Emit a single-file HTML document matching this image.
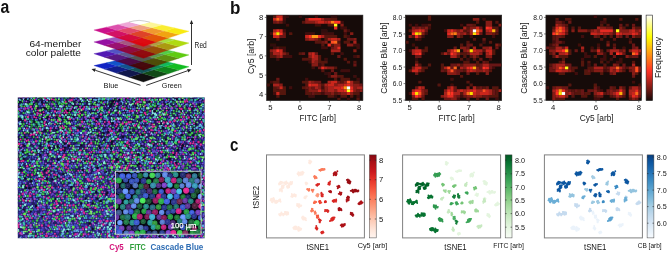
<!DOCTYPE html>
<html><head><meta charset="utf-8"><title>Figure</title>
<style>html,body{margin:0;padding:0;background:#fff}svg{display:block}text{font-family:"Liberation Sans", sans-serif}</style>
</head><body>
<svg width="667" height="253" viewBox="0 0 667 253">
<rect width="667" height="253" fill="#fff"/>
<text x="0.5" y="13.4" font-size="18" text-anchor="start" font-weight="bold" fill="#111" textLength="8.8" lengthAdjust="spacingAndGlyphs">a</text>
<text x="81.4" y="46.9" font-size="9.5" text-anchor="end" font-weight="normal" fill="#151515" textLength="52" lengthAdjust="spacingAndGlyphs">64-member</text>
<text x="81.0" y="55.8" font-size="9.5" text-anchor="end" font-weight="normal" fill="#151515" textLength="55.3" lengthAdjust="spacingAndGlyphs">color palette</text>
<g opacity="0.93">
<polygon points="143.4,82.0 128.9,77.2 142.0,73.3 156.5,77.6" fill="#000000" stroke="#000000" stroke-width="0.3"/>
<polygon points="156.5,77.6 142.0,73.3 153.9,69.7 168.4,73.7" fill="#003d06" stroke="#003d06" stroke-width="0.3"/>
<polygon points="168.4,73.7 153.9,69.7 164.7,66.5 179.1,70.1" fill="#007b0c" stroke="#007b0c" stroke-width="0.3"/>
<polygon points="179.1,70.1 164.7,66.5 174.7,63.5 189.0,66.8" fill="#00b812" stroke="#00b812" stroke-width="0.3"/>
<polygon points="128.9,77.2 116.0,72.9 128.9,69.4 142.0,73.3" fill="#000740" stroke="#000740" stroke-width="0.3"/>
<polygon points="142.0,73.3 128.9,69.4 140.8,66.2 153.9,69.7" fill="#01484b" stroke="#01484b" stroke-width="0.3"/>
<polygon points="153.9,69.7 140.8,66.2 151.7,63.2 164.7,66.5" fill="#007f4c" stroke="#007f4c" stroke-width="0.3"/>
<polygon points="164.7,66.5 151.7,63.2 161.7,60.5 174.7,63.5" fill="#00b551" stroke="#00b551" stroke-width="0.3"/>
<polygon points="116.0,72.9 104.4,69.1 117.2,65.9 128.9,69.4" fill="#000d80" stroke="#000d80" stroke-width="0.3"/>
<polygon points="128.9,69.4 117.2,65.9 129.0,63.0 140.8,66.2" fill="#004788" stroke="#004788" stroke-width="0.3"/>
<polygon points="140.8,66.2 129.0,63.0 139.8,60.3 151.7,63.2" fill="#008090" stroke="#008090" stroke-width="0.3"/>
<polygon points="151.7,63.2 139.8,60.3 149.9,57.8 161.7,60.5" fill="#00b393" stroke="#00b393" stroke-width="0.3"/>
<polygon points="104.4,69.1 93.9,65.6 106.5,62.7 117.2,65.9" fill="#0014c0" stroke="#0014c0" stroke-width="0.3"/>
<polygon points="117.2,65.9 106.5,62.7 118.2,60.1 129.0,63.0" fill="#0048c5" stroke="#0048c5" stroke-width="0.3"/>
<polygon points="129.0,63.0 118.2,60.1 129.0,57.6 139.8,60.3" fill="#007acb" stroke="#007acb" stroke-width="0.3"/>
<polygon points="139.8,60.3 129.0,57.6 139.0,55.3 149.9,57.8" fill="#00aad0" stroke="#00aad0" stroke-width="0.3"/>
</g>
<g opacity="0.93">
<polygon points="143.4,70.2 128.9,65.3 142.0,61.4 156.5,65.8" fill="#4b0004" stroke="#4b0004" stroke-width="0.3"/>
<polygon points="156.5,65.8 142.0,61.4 153.9,57.9 168.4,61.8" fill="#534400" stroke="#534400" stroke-width="0.3"/>
<polygon points="168.4,61.8 153.9,57.9 164.7,54.6 179.1,58.2" fill="#528800" stroke="#528800" stroke-width="0.3"/>
<polygon points="179.1,58.2 164.7,54.6 174.7,51.7 189.0,54.9" fill="#53c800" stroke="#53c800" stroke-width="0.3"/>
<polygon points="128.9,65.3 116.0,61.1 128.9,57.6 142.0,61.4" fill="#51013c" stroke="#51013c" stroke-width="0.3"/>
<polygon points="142.0,61.4 128.9,57.6 140.8,54.3 153.9,57.9" fill="#584e46" stroke="#584e46" stroke-width="0.3"/>
<polygon points="153.9,57.9 140.8,54.3 151.7,51.4 164.7,54.6" fill="#518c42" stroke="#518c42" stroke-width="0.3"/>
<polygon points="164.7,54.6 151.7,51.4 161.7,48.7 174.7,51.7" fill="#47c93c" stroke="#47c93c" stroke-width="0.3"/>
<polygon points="116.0,61.1 104.4,57.2 117.2,54.0 128.9,57.6" fill="#4d0778" stroke="#4d0778" stroke-width="0.3"/>
<polygon points="128.9,57.6 117.2,54.0 129.0,51.1 140.8,54.3" fill="#514c85" stroke="#514c85" stroke-width="0.3"/>
<polygon points="140.8,54.3 129.0,51.1 139.8,48.4 151.7,51.4" fill="#549191" stroke="#549191" stroke-width="0.3"/>
<polygon points="151.7,51.4 139.8,48.4 149.9,45.9 161.7,48.7" fill="#4aca91" stroke="#4aca91" stroke-width="0.3"/>
<polygon points="104.4,57.2 93.9,53.7 106.5,50.9 117.2,54.0" fill="#4507af" stroke="#4507af" stroke-width="0.3"/>
<polygon points="117.2,54.0 106.5,50.9 118.2,48.2 129.0,51.1" fill="#4646bf" stroke="#4646bf" stroke-width="0.3"/>
<polygon points="129.0,51.1 118.2,48.2 129.0,45.7 139.8,48.4" fill="#4685cf" stroke="#4685cf" stroke-width="0.3"/>
<polygon points="139.8,48.4 129.0,45.7 139.0,43.5 149.9,45.9" fill="#47c4e0" stroke="#47c4e0" stroke-width="0.3"/>
</g>
<g opacity="0.93">
<polygon points="143.4,58.3 128.9,53.5 142.0,49.6 156.5,53.9" fill="#950007" stroke="#950007" stroke-width="0.3"/>
<polygon points="156.5,53.9 142.0,49.6 153.9,46.0 168.4,50.0" fill="#9d4700" stroke="#9d4700" stroke-width="0.3"/>
<polygon points="168.4,50.0 153.9,46.0 164.7,42.8 179.1,46.4" fill="#a59300" stroke="#a59300" stroke-width="0.3"/>
<polygon points="179.1,46.4 164.7,42.8 174.7,39.8 189.0,43.1" fill="#abd800" stroke="#abd800" stroke-width="0.3"/>
<polygon points="128.9,53.5 116.0,49.2 128.9,45.7 142.0,49.6" fill="#940034" stroke="#940034" stroke-width="0.3"/>
<polygon points="142.0,49.6 128.9,45.7 140.8,42.5 153.9,46.0" fill="#9e4230" stroke="#9e4230" stroke-width="0.3"/>
<polygon points="153.9,46.0 140.8,42.5 151.7,39.5 164.7,42.8" fill="#a79637" stroke="#a79637" stroke-width="0.3"/>
<polygon points="164.7,42.8 151.7,39.5 161.7,36.8 174.7,39.8" fill="#a2dc31" stroke="#a2dc31" stroke-width="0.3"/>
<polygon points="116.0,49.2 104.4,45.4 117.2,42.2 128.9,45.7" fill="#940067" stroke="#940067" stroke-width="0.3"/>
<polygon points="128.9,45.7 117.2,42.2 129.0,39.3 140.8,42.5" fill="#9e4b78" stroke="#9e4b78" stroke-width="0.3"/>
<polygon points="140.8,42.5 129.0,39.3 139.8,36.6 151.7,39.5" fill="#a89c8c" stroke="#a89c8c" stroke-width="0.3"/>
<polygon points="151.7,39.5 139.8,36.6 149.9,34.1 161.7,36.8" fill="#a4e092" stroke="#a4e092" stroke-width="0.3"/>
<polygon points="104.4,45.4 93.9,41.9 106.5,39.0 117.2,42.2" fill="#90009d" stroke="#90009d" stroke-width="0.3"/>
<polygon points="117.2,42.2 106.5,39.0 118.2,36.4 129.0,39.3" fill="#964bb9" stroke="#964bb9" stroke-width="0.3"/>
<polygon points="129.0,39.3 118.2,36.4 129.0,33.9 139.8,36.6" fill="#9d96d4" stroke="#9d96d4" stroke-width="0.3"/>
<polygon points="139.8,36.6 129.0,33.9 139.0,31.6 149.9,34.1" fill="#a3e1ef" stroke="#a3e1ef" stroke-width="0.3"/>
</g>
<g opacity="0.93">
<polygon points="143.4,46.5 128.9,41.6 142.0,37.7 156.5,42.1" fill="#e0000b" stroke="#e0000b" stroke-width="0.3"/>
<polygon points="156.5,42.1 142.0,37.7 153.9,34.2 168.4,38.1" fill="#e84d00" stroke="#e84d00" stroke-width="0.3"/>
<polygon points="168.4,38.1 153.9,34.2 164.7,30.9 179.1,34.5" fill="#f09e00" stroke="#f09e00" stroke-width="0.3"/>
<polygon points="179.1,34.5 164.7,30.9 174.7,28.0 189.0,31.2" fill="#f8e800" stroke="#f8e800" stroke-width="0.3"/>
<polygon points="128.9,41.6 116.0,37.4 128.9,33.9 142.0,37.7" fill="#d80032" stroke="#d80032" stroke-width="0.3"/>
<polygon points="142.0,37.7 128.9,33.9 140.8,30.6 153.9,34.2" fill="#e3371a" stroke="#e3371a" stroke-width="0.3"/>
<polygon points="153.9,34.2 140.8,30.6 151.7,27.7 164.7,30.9" fill="#ef921f" stroke="#ef921f" stroke-width="0.3"/>
<polygon points="164.7,30.9 151.7,27.7 161.7,25.0 174.7,28.0" fill="#faec23" stroke="#faec23" stroke-width="0.3"/>
<polygon points="116.0,37.4 104.4,33.5 117.2,30.3 128.9,33.9" fill="#d0005a" stroke="#d0005a" stroke-width="0.3"/>
<polygon points="128.9,33.9 117.2,30.3 129.0,27.4 140.8,30.6" fill="#df3d60" stroke="#df3d60" stroke-width="0.3"/>
<polygon points="140.8,30.6 129.0,27.4 139.8,24.7 151.7,27.7" fill="#ee9979" stroke="#ee9979" stroke-width="0.3"/>
<polygon points="151.7,27.7 139.8,24.7 149.9,22.2 161.7,25.0" fill="#fdf691" stroke="#fdf691" stroke-width="0.3"/>
<polygon points="104.4,33.5 93.9,30.0 106.5,27.2 117.2,30.3" fill="#c80083" stroke="#c80083" stroke-width="0.3"/>
<polygon points="117.2,30.3 106.5,27.2 118.2,24.5 129.0,27.4" fill="#da44a6" stroke="#da44a6" stroke-width="0.3"/>
<polygon points="129.0,27.4 118.2,24.5 129.0,22.0 139.8,24.7" fill="#eda1d3" stroke="#eda1d3" stroke-width="0.3"/>
<path d="M139.8 24.7L129.0 22.0L134.0 20.9Q139.0 19.8 144.4 21.0L149.9 22.2Z" fill="#fff"/>
<path d="M129.0 22.0L134.0 20.9Q139.0 19.8 144.4 21.0L149.9 22.2" fill="none" stroke="#888" stroke-width="0.45"/>
</g>
<line x1="140.5" y1="85.3" x2="95.3" y2="70.3" stroke="#2a2a2a" stroke-width="0.95"/>
<polygon points="91.5,69.0 95.8,68.6 94.7,71.9" fill="#222"/>
<line x1="146.2" y1="85.4" x2="187.7" y2="70.7" stroke="#2a2a2a" stroke-width="0.95"/>
<polygon points="191.5,69.4 188.3,72.4 187.1,69.1" fill="#222"/>
<line x1="191.5" y1="65.0" x2="191.5" y2="24.0" stroke="#2a2a2a" stroke-width="0.95"/>
<polygon points="191.5,20.0 193.2,24.0 189.8,24.0" fill="#222"/>
<text x="103.6" y="87.6" font-size="8.1" text-anchor="start" font-weight="normal" fill="#151515" textLength="14.8" lengthAdjust="spacingAndGlyphs">Blue</text>
<text x="161.8" y="87.9" font-size="8.1" text-anchor="start" font-weight="normal" fill="#151515" textLength="20" lengthAdjust="spacingAndGlyphs">Green</text>
<text x="194.6" y="47.6" font-size="8.2" text-anchor="start" font-weight="normal" fill="#151515" textLength="12.2" lengthAdjust="spacingAndGlyphs">Red</text>
<clipPath id="mc"><rect x="17.8" y="97.5" width="186.79999999999998" height="140.7"/></clipPath>
<defs><linearGradient id="mbg" x1="0" y1="0" x2="0.25" y2="1"><stop offset="0" stop-color="#120f36"/><stop offset="0.5" stop-color="#1e1954"/><stop offset="1" stop-color="#2a2370"/></linearGradient></defs>
<rect x="17.8" y="97.5" width="186.8" height="140.7" fill="url(#mbg)"/>
<defs><filter id="mbl" x="-2%" y="-2%" width="104%" height="104%"><feGaussianBlur stdDeviation="0.35"/></filter></defs>
<g clip-path="url(#mc)"><g filter="url(#mbl)"><g transform="scale(0.1)" fill="none" stroke-linecap="round" stroke-width="22">
<path d="M427 978h0m38-6h0m47 9h0m47-9h0m125 4h0m70-8h0m60 11h0m45-1h0m240 2h0m195-11h0m271-1h0m87 10h0m239-7h0m-1586 32h0m85-5h0m257 3h0m486-10h0m286 6h0m88 7h0m117-13h0m63 5h0m283-5h0m-1246 35h0m108-12h0m75 2h0m675 1h0m-1308 27h0m198 1h0m116-6h0m25-2h0m16 8h0m24-9h0m15-2h0m133 6h0m138 0h0m18 8h0m84-5h0m35-7h0m348 12h0m245-6h0m110-3h0m185 0h0m57 3h0m34 2h0m-1837 20h0m26 2h0m307-3h0m114 2h0m46-1h0m56 3h0m111 2h0m287-4h0m63 3h0m177-1h0m112 2h0m195 0h0m136-10h0m138 9h0m-1506 18h0m34-2h0m133 7h0m140 0h0m751 1h0m232-3h0m185 0h0m44-5h0m54-3h0m-1873 31h0m108-12h0m136 0h0m309 12h0m363-11h0m471 10h0m45 3h0m125-6h0m29 4h0m267-9h0m-1799 27h0m112 6h0m263-8h0m83-4h0m317 9h0m726 2h0m11 1h0m73-4h0m44-7h0m45-1h0m89 3h0m-1534 26h0m16-5h0m227-4h0m151 3h0m220-2h0m288 10h0m150-11h0m77 6h0m20 0h0m101 5h0m94-10h0m129 6h0m-1679 16h0m328 9h0m59-7h0m155 2h0m343 9h0m63-1h0m608-9h0m50-1h0m-1463 19h0m243 7h0m14 7h0m30-12h0m90 8h0m230-6h0m144 2h0m281 8h0m157-9h0m167 9h0m29-3h0m150 1h0m-1511 22h0m821 0h0m21 1h0m132 1h0m546-10h0m-1728 26h0m23 1h0m74 4h0m264-10h0m48 1h0m65-2h0m186 4h0m21 8h0m491-2h0m419-7h0m244 3h0m-1835 26h0m12-5h0m45-3h0m116 7h0m260-5h0m17 8h0m92-14h0m68 5h0m198-4h0m177 5h0m28 5h0m207 2h0m429-7h0m113 8h0m77-8h0m-1679 25h0m244-5h0m38 10h0m28-3h0m240 1h0m204-12h0m186 1h0m448 8h0m58-3h0m-1639 19h0m293 7h0m372 1h0m62 3h0m95-14h0m394 14h0m216-1h0m251-4h0m112-2h0m87-4h0m-1848 30h0m42-7h0m25 1h0m179 9h0m236-7h0m251 0h0m239 6h0m87 0h0m67-6h0m85 3h0m120 0h0m220-1h0m102-2h0m-1641 25h0m207 4h0m123-7h0m362 7h0m105-12h0m90-2h0m59 0h0m129 0h0m68 11h0m249-9h0m87 4h0m136 5h0m112-1h0m-1752 21h0m133-4h0m101-2h0m384 0h0m142 3h0m201 0h0m217 2h0m551 5h0m-1388 18h0m201-3h0m237 4h0m135-2h0m199-3h0m109 6h0m15-9h0m-1225 26h0m74 1h0m176 6h0m287-8h0m200 8h0m35-8h0m464 9h0m90-13h0m115 3h0m90 10h0m-1321 10h0m30 12h0m400-7h0m97-2h0m271-4h0m288 13h0m-804 14h0m409 2h0m67-6h0m506 2h0m-1507 31h0m861-5h0m307 1h0m20-3h0m34 6h0m365-3h0m294 2h0m-1494 11h0m158 9h0m204-2h0m89-7h0m303 8h0m306 2h0m103 1h0m-1438 11h0m54 11h0m325-9h0m266 6h0m224 0h0m166 1h0m24 0h0m287-1h0m44-1h0m157 0h0m16 2h0m-1548 18h0m424 2h0m123-3h0m117 9h0m703-1h0m235-2h0m-1716 14h0m186 3h0m115 8h0m172-1h0m91-9h0m248-3h0m60 10h0m315-1h0m412-6h0m138 10h0m44-10h0m34 6h0m-1804 20h0m636 7h0m237-10h0m198-1h0m49 11h0m106-1h0m36-6h0m117 2h0m218-8h0m-1397 31h0m128-9h0m242 0h0m110 8h0m53 2h0m178 1h0m111-1h0m43-6h0m16 1h0m161-3h0m100 4h0m473-2h0m-1248 19h0m145 11h0m95 1h0m41-7h0m132-5h0m646 10h0m42-10h0m42-2h0m-1619 22h0m336 10h0m83 1h0m482 2h0m61-5h0m534 6h0m84-14h0m21 11h0m73 1h0m-1664 14h0m23-4h0m113 11h0m22-10h0m621 5h0m390-2h0m150 9h0m244-5h0m126 4h0m-1810 21h0m112-8h0m130 1h0m62 9h0m32-12h0m165 7h0m27-1h0m404 5h0m42-12h0m78 3h0m56 0h0m19 2h0m66 7h0m136-9h0m14 1h0m42-4h0m318 11h0m168-11h0m-1703 29h0m50 5h0m81-11h0m157 0h0m36 5h0m429 4h0m328-7h0m-1089 22h0m44 3h0m414 4h0m812-9h0m267 2h0m71-2h0m88 0h0m-1842 34h0m47-12h0m174 5h0m66 2h0m68 5h0m171-4h0m485 0h0m414-5h0m296-4h0m-1603 31h0m791-4h0m182-5h0m147 7h0m443 3h0m-1636 25h0m181-10h0m22 0h0m12 7h0m24 0h0m325-3h0m144-5h0m199 4h0m15-2h0m154 0h0m485 2h0m44-4h0m-1480 31h0m255-9h0m40 4h0m138 6h0m530-8h0m27 1h0m566 2h0m41 5h0m96-11h0m-1824 25h0m181 3h0m66 5h0m570-7h0m27 8h0m35-1h0m265-11h0m44 7h0m159-4h0m-1404 25h0m24 1h0m174-7h0m396 5h0m399-3h0m51 7h0m232-7h0m-1079 20h0m121-1h0m168 2h0m-24 29h0m532-3h0m159 3h0m457-4h0m20 6h0m245-5h0m-1636 19h0m14 4h0m46-7h0m155 8h0m30-2h0m58 0h0m116 8h0m68-4h0m43 2h0m58 2h0m417-2h0m27-1h0m347-3h0m-1307 26h0m132-12h0m106 10h0m253-4h0m215 5h0m793-2h0m-1590 22h0m105 4h0m289-10h0m283 7h0m284-1h0m317-5h0m-1476 19h0m442 5h0m41-5h0m124 5h0m322 3h0m50-1h0m187-3h0m94 5h0m22-7h0m27 6h0m285-2h0m-1424 27h0m43-11h0m444 2h0m85-3h0m92 12h0m38-7h0m928-4h0m-1248 35h0m31-10h0m127 10h0m415-9h0m530 0h0m68 4h0m58-3h0m-1804 29h0m104-10h0m281-3h0m189 3h0m9 8h0m98-11h0m22 7h0m370 0h0m73 2h0m40-9h0m16 13h0m291-8h0m-1354 24h0m198 5h0m125 1h0m33 0h0m222-4h0m-633 22h0m377-6h0m216 1h0m138 3h0m174-4h0m57 4h0m140 5h0m195-11h0m198 8h0m132 3h0m136-11h0m-1795 30h0m154 2h0m59-2h0m49-6h0m16-2h0m101 12h0m33-2h0m247-11h0m113 10h0m177-9h0m285 0h0m66 8h0m-1275 25h0m25-6h0m527 2h0m23-1h0m603 1h0m236-6h0m-1291 25h0m53 9h0m157-1h0m318-10h0m24-2h0m602 4h0m42-2h0m-1117 19h0m292 4h0m145 6h0m51 3h0m726-12h0m83 10h0m243-10h0m-1707 26h0m132 8h0m68-7h0m311-2h0m50-4h0m317 11h0m288-3h0m384-4h0m-1050 20h0m367-1h0m50 11h0m67-3h0m85 5h0m21-5h0m287 1h0m-1422 19h0m932 7h0m487-6h0m276 5h0m53-12h0m-1755 22h0m263 1h0m449 2h0m210 1h0m291 2h0m90 4h0m461-11h0m26 0h0m-1762 28h0m54-1h0m150 7h0m16-10h0m26 11h0m398-2h0m162-1h0m165-9h0m30 3h0m416 9h0m44-7h0m283 6h0m-1638 19h0m301-9h0m45 11h0m227 1h0m103 2h0m97-8h0m145 3h0m54-9h0m277 5h0m77-3h0m306 0h0m-1583 24h0m221 5h0m361-9h0m99 14h0m408-13h0m479 13h0m-1819 22h0m77-2h0m36-6h0m242-6h0m92 14h0m44-6h0m37 5h0m305-10h0m604 6h0" stroke="#3cc844" stroke-width="20"/>
<path d="M588 992h0m361 32h0m313 11h0m67 2h0m48 3h0m25 7h0m503-3h0m-1702 12h0m1235 12h0m573-12h0m-1580 33h0m941-8h0m230 1h0m63 0h0m181-1h0m-1513 33h0m688-10h0m346 5h0m265-4h0m345 6h0m-1056 22h0m-508 12h0m102 55h0m696-8h0m106 0h0m684 3h0m-1310 27h0m681-9h0m462-1h0m140 12h0m-1463 17h0m1029 4h0m52-13h0m-744 35h0m860-8h0m-1107 19h0m1089 12h0m93-12h0m84 0h0m187 7h0m-734 37h0m734 10h0m-1450 22h0m340-2h0m638 1h0m426-9h0m-1471 27h0m965 7h0m-932 21h0m943-13h0m189 3h0m-665 32h0m633-10h0m365 22h0m-1853 22h0m328 4h0m49 3h0m176-2h0m234 5h0m175-8h0m-273 26h0m-541 25h0m513 0h0m591-4h0m80 26h0m-585 20h0m1003-5h0m-1415 18h0m88 4h0m44 9h0m1059-9h0m-1043 25h0m478 2h0m349-5h0m265-3h0m-245 32h0m119 22h0m-477 14h0m-732 19h0m985 11h0m613-4h0m-418 20h0m199 22h0m-1033 25h0m176 0h0m430-2h0m-422 28h0m306 1h0m114 8h0m-136 31h0m172 0h0m313-9h0m-823 34h0m-526 34h0m105 12h0m484-3h0m356-10h0m478 5h0m-1063 23h0m442-1h0m348-1h0m-234 21h0m25-3h0m409 23h0m-496 27h0m157 0h0m-680 23h0m182-6h0m-373 27h0m916 1h0m520-3h0m-1513 39h0m500 11h0m-280 18h0m425 4h0m-586 24h0m264-4h0m955 23h0m334-10h0m-929 34h0m-545 24h0m172 15h0m220 1h0m-601 49h0m-25 12h0m53 4h0m207 6h0m1335 0h0m-980 14h0m46 6h0m865 19h0m-1681 17h0m48 5h0m19-3h0m44 24h0m15-4h0m1426 7h0m-378 15h0m26-2h0" stroke="#78e468" stroke-width="20"/>
<path d="M589 981h0m72-3h0m307-9h0m182 1h0m542 0h0m159 2h0m153-1h0m-1799 31h0m73-11h0m47 10h0m674-11h0m376 6h0m524 4h0m21 1h0m-1449 13h0m218-2h0m14 7h0m578-2h0m663 5h0m-1488 23h0m264-11h0m510 7h0m461-4h0m340 9h0m-1279 24h0m555-13h0m74 1h0m317-1h0m198 1h0m-1195 28h0m256 0h0m194-7h0m154 7h0m114 1h0m-1151 25h0m88-7h0m417-4h0m173 0h0m46 8h0m44 4h0m51 1h0m171-13h0m179 2h0m145-3h0m361 4h0m-1689 28h0m261-7h0m271-2h0m149 7h0m83 3h0m50-8h0m49 10h0m302-10h0m206 8h0m81 0h0m-1356 15h0m153 5h0m133 5h0m91-10h0m315 8h0m235-6h0m199-5h0m226 13h0m54-9h0m-885 19h0m512 11h0m43-2h0m586-2h0m-1784 16h0m57-2h0m72 10h0m637-1h0m127-6h0m340 6h0m176-6h0m62 9h0m16-3h0m316 0h0m23 1h0m-1296 19h0m664 2h0m-1000 24h0m876-2h0m29-3h0m17-2h0m128-5h0m-881 29h0m670-3h0m25 10h0m656-10h0m-1762 25h0m245 4h0m759-4h0m423-4h0m49 0h0m289 8h0m-1431 21h0m509 1h0m688 3h0m83-2h0m41-12h0m69 6h0m-1725 30h0m17-5h0m114 5h0m328-10h0m96-1h0m198 6h0m789-2h0m67 4h0m-1382 19h0m75-2h0m194-3h0m59 5h0m48 6h0m859 0h0m41-13h0m-1289 29h0m158-1h0m199 4h0m24 2h0m325 1h0m203-7h0m462 4h0m86-5h0m-1090 26h0m641 4h0m355-11h0m65 5h0m-1628 18h0m52 9h0m490-6h0m457 7h0m151-8h0m294-6h0m-1121 26h0m23 5h0m91 2h0m434-3h0m-639 16h0m169 5h0m176-6h0m137 5h0m260-5h0m41 0h0m714 4h0m-1454 22h0m357 9h0m309-8h0m195 5h0m93-8h0m125-3h0m-836 31h0m252 2h0m296-9h0m394 8h0m178-3h0m126 1h0m-1173 15h0m786 9h0m232-6h0m241-1h0m-1338 28h0m293 4h0m19-2h0m103 3h0m838-5h0m-1130 27h0m149-2h0m41-8h0m154 3h0m246 5h0m-1123 15h0m149 1h0m-56 20h0m91 1h0m215 7h0m984-2h0m287 2h0m-975 19h0m156 2h0m134-3h0m91-7h0m54 5h0m50 5h0m-1103 15h0m56-2h0m492-1h0m67 10h0m16-11h0m511 14h0m88-3h0m24-4h0m361 5h0m-1171 22h0m73-11h0m558 10h0m-1197 20h0m108-3h0m31-6h0m171 12h0m1343-1h0m96-5h0m-1484 30h0m280-8h0m91-2h0m188 5h0m563-9h0m324 6h0m85 6h0m-840 23h0m230-10h0m-243 31h0m188-12h0m168 5h0m43 6h0m97 2h0m-1342 15h0m191-6h0m111 10h0m-271 16h0m332 4h0m267 2h0m483 3h0m439-2h0m-1141 13h0m95 8h0m385-4h0m709 2h0m-1067 14h0m753 5h0m372-5h0m-1154 22h0m355 14h0m133-7h0m307-3h0m107 7h0m180-2h0m65-3h0m-1531 17h0m939 11h0m137-7h0m332-5h0m125 7h0m-1673 18h0m61 0h0m22 8h0m42-5h0m488-3h0m56 2h0m440 3h0m26-8h0m373 12h0m-1641 20h0m273-5h0m133 5h0m102-6h0m74 8h0m408-4h0m43-6h0m78 6h0m475 1h0m-1413 19h0m22-3h0m324-1h0m314 4h0m223-2h0m275 9h0m226-1h0m312 0h0m-1471 15h0m404 7h0m58-9h0m557 4h0m188 1h0m-1197 26h0m181-1h0m696 23h0m463-2h0m82-3h0m-1523 26h0m123-1h0m350-9h0m32 9h0m147-4h0m271-5h0m25 4h0m-616 20h0m154 5h0m52-3h0m411-5h0m88 5h0m329 8h0m132-4h0m-1793 18h0m399-1h0m513 10h0m-946 20h0m373-11h0m332-1h0m317 3h0m143-3h0m211 11h0m-1120 24h0m240-3h0m22-1h0m398 0h0m156-1h0m104 6h0m530-3h0m-1548 18h0m67 1h0m155 4h0m505-6h0m926 7h0m-1683 11h0m545 0h0m19 1h0m359 0h0m68-3h0m125 4h0m231 5h0m130 4h0m234-5h0m-1830 26h0m35-11h0m51 13h0m545 0h0m481-14h0m419 5h0m101 8h0m-1606 21h0m620-10h0m95-1h0m98 1h0m220 4h0m-661 29h0m409-3h0m317 1h0m151-6h0m86-3h0m242 10h0m-1500 15h0m252-2h0m135-1h0m26 1h0m36-3h0m352 3h0m-384 23h0m549 0h0m440-3h0m-662 32h0m310-5h0m527-3h0m-1230 22h0m-316 21h0m18 4h0m48 8h0m23-10h0m544 3h0m728-2h0m152 2h0m-1393 15h0m53 4h0m65 1h0m175 0h0m237-3h0m418-2h0m465 14h0" stroke="#38b8ac" stroke-width="20"/>
<path d="M174 976h0m202-3h0m416-1h0m524 3h0m595-2h0m-1675 17h0m201 2h0m58 1h0m333 10h0m46-2h0m619-1h0m239-9h0m-843 24h0m-157 26h0m563 1h0m19 3h0m178-5h0m243-1h0m-989 41h0m449 32h0m329-3h0m302 2h0m-1204 38h0m37 2h0m404 6h0m169-6h0m613-7h0m-1410 33h0m258-6h0m423 9h0m460-5h0m371-1h0m31-3h0m-21 24h0m-1291 26h0m452-9h0m389 3h0m108-4h0m-1154 35h0m28-9h0m113-1h0m1027-1h0m106 7h0m267 3h0m-1707 22h0m1042-9h0m279-4h0m290 14h0m-1665 18h0m723-7h0m-728 26h0m389 5h0m275-12h0m366 8h0m47-2h0m145-4h0m-1120 34h0m190-6h0m17-2h0m361-4h0m609 10h0m342-6h0m-1494 21h0m507-1h0m857 9h0m264-5h0m-1358 21h0m1368-4h0m-1575 25h0m186-5h0m353 8h0m64-6h0m172 5h0m422 0h0m59-6h0m-841 22h0m716 9h0m45-6h0m288-1h0m-1210 24h0m699 1h0m352 2h0m-843 19h0m982 2h0m-1355 25h0m44-4h0m709 2h0m367-5h0m-1254 22h0m43-1h0m706 2h0m-744 19h0m860 6h0m132 0h0m-1204 25h0m1168 3h0m664-14h0m-1556 34h0m266-10h0m335 3h0m199 8h0m221-2h0m122 1h0m52 2h0m101-7h0m98-4h0m-1210 25h0m142 5h0m38 3h0m1034-13h0m175 12h0m-1046 22h0m442-13h0m642 0h0m-1797 33h0m906 0h0m-415 17h0m-551 23h0m35 6h0m604-7h0m274 7h0m79-12h0m175 13h0m330-7h0m1 23h0m-1508 25h0m1043 2h0m739-4h0m-1321 22h0m43-8h0m589 0h0m18 7h0m287 5h0m-431 21h0m607-10h0m194 0h0m-1733 22h0m967 10h0m578 2h0m24-6h0m223 2h0m32-7h0m-1869 26h0m210 0h0m218-6h0m972 1h0m360 0h0m-1618 24h0m264-2h0m142 0h0m144 6h0m99 5h0m321-1h0m-1067 23h0m147-13h0m485 6h0m588-1h0m-841 30h0m968-11h0m269 12h0m38-14h0m-1487 36h0m242-11h0m173 8h0m494 0h0m324-3h0m-1416 17h0m260 2h0m1097 8h0m471-7h0m-1788 40h0m815 11h0m281-2h0m229-1h0m224-10h0m-1230 32h0m1295-7h0m184 9h0m-1791 15h0m152 6h0m596 11h0m-685 35h0m257-7h0m663 1h0m294 1h0m168-4h0m312 2h0m-1708 20h0m200 9h0m1251 0h0m23 1h0m112-6h0m-250 58h0m-869 25h0m154 0h0m331 3h0m-1033 29h0m1129-13h0m384 25h0m42 8h0m68-3h0m-1197 21h0m396 5h0m60-8h0m26 3h0m28 5h0m215 0h0m21-1h0m199 2h0m335-7h0m-1732 16h0m748 0h0m792 5h0m145 9h0m-842 17h0m66 3h0m797 0h0m-1726 21h0m363-5h0m1265 7h0m-1440 14h0m519-1h0m46 10h0m39 0h0m1065-1h0m-1802 9h0m755 5h0m191 4h0m-899 18h0m476 6h0m223-9h0m331 9h0m417-11h0m19 13h0m-1545 10h0m218 9h0m1244-10h0" stroke="#84e4dc" stroke-width="20"/>
<path d="M313 981h0m677-7h0m480 0h0m246-1h0m153 5h0m116 2h0m-1791 14h0m746 4h0m44-3h0m587 3h0m181 3h0m93-3h0m-1442 23h0m411-8h0m263 6h0m137-6h0m13 11h0m308-5h0m-375 23h0m632 0h0m25 3h0m44 1h0m-997 22h0m219-5h0m836 7h0m110-6h0m-1467 22h0m425-7h0m119 2h0m286 4h0m-930 27h0m770-12h0m45 8h0m439-6h0m160 5h0m85-6h0m-1393 27h0m324 4h0m88-9h0m426-1h0m541 10h0m95 3h0m-1823 21h0m685-12h0m70 8h0m135-8h0m440 4h0m360 8h0m-1132 23h0m395 0h0m271-12h0m92 9h0m387-7h0m-1463 32h0m136 0h0m285-1h0m457 1h0m532-13h0m-1665 29h0m294 7h0m345-6h0m74-2h0m856-1h0m-1506 18h0m511 11h0m661-9h0m396-2h0m86 10h0m-1515 21h0m158-1h0m542-3h0m406 7h0m282-12h0m199 5h0m-1509 24h0m405-7h0m562 5h0m458 4h0m91 4h0m-1576 8h0m227 3h0m281 2h0m753-5h0m-581 32h0m17-4h0m-907 27h0m329 2h0m356 0h0m154-6h0m209-5h0m72 2h0m193-2h0m-1043 25h0m222 0h0m-189 21h0m754 4h0m200-3h0m429 7h0m-1477 17h0m224 3h0m41 3h0m82-13h0m552 1h0m-457 21h0m730 9h0m372 3h0m-1680 16h0m176 3h0m60-1h0m267-8h0m218 5h0m336 9h0m281-13h0m-844 30h0m307 1h0m348 3h0m-1220 9h0m31 6h0m149 6h0m84-10h0m1125 9h0m-1128 14h0m101-3h0m34 7h0m123-3h0m1283 10h0m45-11h0m-1835 21h0m67-2h0m748 8h0m428-5h0m394-3h0m-1607 26h0m431 21h0m193 1h0m1058 9h0m-1107 17h0m85 6h0m435-8h0m395 2h0m-1569 26h0m46-4h0m616-2h0m34 2h0m361-8h0m93 3h0m123 0h0m-1236 20h0m875 6h0m931 3h0m-1733 26h0m566 0h0m91-2h0m1107-11h0m-1452 25h0m604 9h0m265-1h0m308 2h0m265-3h0m-1476 24h0m254-8h0m785-5h0m333 4h0m-1260 18h0m241 13h0m-697 15h0m774 2h0m276-4h0m198 5h0m331-1h0m231-7h0m-1739 27h0m156-6h0m287 11h0m328-8h0m119 5h0m-168 16h0m749 5h0m-1561 23h0m1059-4h0m110 0h0m472 3h0m-1649 26h0m752-4h0m330-2h0m292-5h0m452 11h0m-737 19h0m395-8h0m383 1h0m-712 28h0m10-5h0m416 6h0m-1503 16h0m707-2h0m-736 28h0m1076-1h0m159 0h0m122 6h0m-1167 24h0m1388-2h0m53-9h0m-1607 27h0m364-4h0m508 5h0m250-3h0m114-2h0m-1070 21h0m432 1h0m470 0h0m304 5h0m18-5h0m226 6h0m35 0h0m55 1h0m-1747 12h0m212 3h0m228-2h0m302 10h0m589 1h0m95-1h0m-981 20h0m-452 23h0m953 0h0m387-7h0m142 2h0m-1509 25h0m551-2h0m629 7h0m381-5h0m123 0h0m-1060 17h0m285 2h0m369 9h0m327-9h0m-1521 30h0m527-3h0m566-1h0m115-4h0m30 2h0m39-1h0m-1336 27h0m139-9h0m101 10h0m251-11h0m150 2h0m-335 25h0m176 4h0m79-9h0m296 9h0m190-10h0m355 12h0m197-12h0m80 13h0m143 0h0m-1550 23h0m62-13h0m324 9h0m581-8h0m-1114 26h0m643 5h0m79-2h0m152 2h0m424-1h0m-55 22h0m-1270 19h0m179-3h0m135-3h0m985 8h0m-845 25h0m267-11h0m568 6h0m18-1h0m-1283 23h0m377 5h0m24-12h0m19 0h0m22 3h0m881 7h0m282-10h0m-972 27h0m123 5h0m120-8h0m56 11h0m112-7h0m30 4h0m108-8h0m89 5h0m-1000 19h0m654 0h0m29 1h0m349-3h0m174 4h0m-1482 21h0m38 4h0m877-9h0m439 12h0m122-4h0m131 0h0" stroke="#58a8e4" stroke-width="20"/>
<path d="M281 980h0m335-6h0m570 6h0m-820 11h0m88 8h0m173-7h0m114 5h0m20-7h0m301 0h0m950 6h0m30-2h0m-1601 23h0m114 0h0m375 3h0m235 6h0m515-13h0m324 11h0m-1767 15h0m112 8h0m210-2h0m221-8h0m248 1h0m848 4h0m-1589 19h0m133 2h0m392-2h0m87 3h0m297 4h0m764-4h0m-1666 14h0m329 13h0m664-13h0m469 5h0m-876 29h0m49-12h0m124 6h0m163-2h0m190 9h0m296-2h0m-1206 24h0m42-3h0m88-7h0m251 5h0m349 6h0m44-12h0m22 2h0m198 10h0m519-3h0m-1700 22h0m855-4h0m33-3h0m626 0h0m-1306 27h0m111-6h0m596 9h0m94-10h0m326 6h0m63 6h0m87-8h0m259 1h0m-1728 19h0m45 5h0m242 4h0m186-8h0m244-2h0m636 1h0m-1489 32h0m549-10h0m284 1h0m52-4h0m614 0h0m39 9h0m134-6h0m-1331 20h0m194 3h0m295 1h0m177 7h0m518-6h0m130-2h0m-1590 21h0m88 0h0m156-1h0m38 5h0m711 1h0m180 1h0m213 1h0m247-9h0m-1659 24h0m61 9h0m149-8h0m86-1h0m468 7h0m156-5h0m591 7h0m66-10h0m85 6h0m-1301 27h0m147-1h0m23-7h0m196 0h0m109 1h0m358 3h0m146-2h0m205 0h0m37-7h0m-1367 35h0m160-2h0m872-12h0m-1088 34h0m59-11h0m753 9h0m-971 20h0m62 3h0m390-9h0m354 12h0m505-1h0m64-2h0m188-9h0m126 4h0m-753 27h0m436-7h0m256 2h0m-1477 18h0m329 3h0m82-2h0m91 5h0m184-4h0m88 9h0m143-11h0m76 10h0m36-1h0m286 0h0m-1483 16h0m789 3h0m348-6h0m535-2h0m-1436 28h0m164 0h0m34 1h0m108-5h0m277 3h0m644-5h0m108 3h0m159 8h0m-1331 13h0m89-2h0m921 1h0m83 0h0m98 12h0m39-8h0m151 6h0m-1534 22h0m79 0h0m133-4h0m233 3h0m92-7h0m58-1h0m187 9h0m328-6h0m152-3h0m152 12h0m178-9h0m-1639 29h0m127-4h0m93-8h0m28 4h0m39 9h0m136 1h0m-450 17h0m523-7h0m399 4h0m329 0h0m417-4h0m-1747 25h0m24 4h0m32-6h0m1129 6h0m47-1h0m524-4h0m-1706 22h0m680 4h0m487-5h0m124-3h0m78 11h0m149-4h0m-1683 23h0m115-5h0m1536 10h0m114-8h0m84 5h0m-1723 22h0m121-8h0m377 11h0m290-5h0m312-6h0m144 5h0m130-4h0m267 8h0m88-9h0m-1518 22h0m19 1h0m297 7h0m398-8h0m316 9h0m-826 15h0m269 7h0m340-10h0m158 8h0m19-7h0m48 9h0m153-11h0m181 1h0m-1616 23h0m132 12h0m544-14h0m260 3h0m130 3h0m398-1h0m182-4h0m-1668 21h0m44 9h0m311-4h0m53-5h0m176 14h0m169-13h0m17 12h0m484-2h0m35-3h0m191 6h0m129-1h0m141-9h0m-1798 25h0m313 6h0m60-1h0m154-9h0m247 5h0m418-7h0m-1133 34h0m82 0h0m113-13h0m167 0h0m715 14h0m89-9h0m552-4h0m-1802 33h0m581-10h0m719 6h0m235-3h0m190-4h0m65 2h0m-1771 32h0m126-7h0m928-3h0m25 2h0m110-2h0m344 9h0m220-11h0m19 8h0m-1527 18h0m484 9h0m196-14h0m450 9h0m-1400 16h0m156-1h0m353 2h0m107-3h0m220 12h0m305-13h0m419 13h0m-1087 15h0m744 5h0m86-10h0m107 1h0m-1322 23h0m41 7h0m46-10h0m211 12h0m209-8h0m62-3h0m198-1h0m113 12h0m655 2h0m47-14h0m91 9h0m-1386 15h0m73 0h0m194 7h0m551-7h0m133 7h0m112 3h0m27 2h0m86-3h0m255-8h0m-1721 20h0m95 0h0m515-1h0m293 9h0m792-7h0m-1549 29h0m366 3h0m69-8h0m611-3h0m48 3h0m139 5h0m42-4h0m-1316 31h0m66-13h0m407 3h0m185-2h0m381 1h0m138 0h0m154-2h0m-1354 33h0m283-7h0m35 5h0m685-1h0m264 1h0m-1442 15h0m91 7h0m24 1h0m223-2h0m34-2h0m670-5h0m595 12h0m66-1h0m170-7h0m-1331 22h0m899 2h0m65 4h0m200-8h0m-1542 26h0m340 4h0m114 0h0m226-2h0m598-6h0m307 3h0m-1558 27h0m201-2h0m483 2h0m509-1h0m82-7h0m-426 25h0m520 0h0m-1107 21h0m106-1h0m892-2h0m371 2h0m40 4h0m-1367 25h0m243-3h0m452-6h0m32 8h0m97-6h0m167 2h0m120-5h0m25-2h0m74 9h0m-1266 14h0m371 4h0m21 7h0m547 2h0m-1049 19h0m119-8h0m218 4h0m21 2h0m285-2h0m513 3h0m177-2h0m-1202 24h0m111-7h0m527 8h0m61-7h0m225 2h0m153 0h0m104-4h0m202 2h0m28 0h0m-1696 27h0m362 0h0m12 0h0m26-2h0m71-4h0m431 5h0m-737 18h0m775-1h0m92-1h0m304 1h0m28 4h0m320 0h0m-1702 23h0m65-2h0m72-6h0m57 3h0m264 4h0m99-2h0m23-4h0m432 13h0m-774 13h0m255-1h0m316 4h0m299 1h0m78 2h0m119-11h0m182 10h0m236 2h0m-1611 20h0m66 0h0m16-9h0m602 4h0m599-4h0m154 0h0m-1669 34h0m374-3h0m48-1h0m38-9h0m195 7h0m471-5h0m64 9h0m72 2h0m-894 17h0m217 4h0m17-10h0m226 12h0m126-11h0m261 11h0m102-3h0m236-4h0m110-1h0" stroke="#4050c8" stroke-width="20"/>
<path d="M768 974h0m615-1h0m70-2h0m214 1h0m278 3h0m20 5h0m-1285 15h0m164 7h0m438-8h0m430-1h0m-1211 27h0m695 6h0m365-8h0m464 1h0m-1830 28h0m143 19h0m59-1h0m174 0h0m752 3h0m25 0h0m276 2h0m252-10h0m-1026 25h0m219-5h0m441-1h0m525 6h0m-1790 20h0m200-3h0m1006 2h0m402 0h0m-1532 20h0m994 12h0m452-7h0m157 4h0m-1741 13h0m1033 12h0m785-10h0m-1616 28h0m161 3h0m278-2h0m151-4h0m46-3h0m227 9h0m506 0h0m-1011 19h0m494 3h0m178-10h0m-873 27h0m90 6h0m152-5h0m1010-2h0m-1623 25h0m1813-6h0m-1789 21h0m1114-3h0m161 9h0m-899 23h0m330-8h0m1083 1h0m-1773 31h0m951 1h0m127-7h0m84 1h0m351 0h0m-1244 28h0m357-2h0m219 3h0m185-1h0m173-11h0m332 12h0m196-12h0m-701 21h0m114 8h0m508-6h0m-1558 28h0m53 5h0m66-14h0m769 3h0m56 9h0m100-11h0m233 7h0m112-6h0m117 2h0m-1507 32h0m88-10h0m1180 3h0m395 4h0m32-6h0m22-3h0m11 12h0m-1517 21h0m502-12h0m418-1h0m421 7h0m57-1h0m-1549 29h0m52-10h0m142 10h0m165-9h0m42 10h0m331-10h0m65 9h0m154-1h0m474-11h0m52 8h0m-519 15h0m662 0h0m-1733 25h0m904 0h0m-848 21h0m141 1h0m933 6h0m380-9h0m47 8h0m105-5h0m19-5h0m-1061 28h0m595 4h0m508-9h0m-1728 35h0m300-14h0m395 12h0m144 1h0m230-12h0m142 0h0m236 6h0m150-1h0m-1563 26h0m69-7h0m342 3h0m245-5h0m152 5h0m812 2h0m-1596 14h0m26 1h0m96 0h0m76 0h0m53 2h0m299 10h0m207-3h0m176-6h0m550 10h0m195-7h0m26-2h0m-1488 27h0m130-9h0m357 10h0m726 3h0m-1447 12h0m205 10h0m459-12h0m945 3h0m112 1h0m-1772 30h0m215-2h0m1019-5h0m-1071 15h0m902 9h0m510 4h0m-1570 15h0m1733-3h0m-1414 30h0m739-2h0m43-6h0m685 0h0m-1150 30h0m154-5h0m86 0h0m400-6h0m142 9h0m133 2h0m268-9h0m-1556 30h0m207-7h0m217-3h0m177 12h0m192-2h0m229 4h0m485-4h0m-1518 22h0m1039-4h0m331 5h0m-1291 21h0m21-2h0m239 6h0m31-4h0m136-10h0m636 4h0m191-3h0m-1300 28h0m651 5h0m46-8h0m-870 18h0m84 8h0m92-3h0m400 5h0m59-4h0m204-4h0m312 5h0m-1227 19h0m350 3h0m67-2h0m-488 17h0m476 8h0m69-5h0m820 11h0m168-14h0m-1544 23h0m924 1h0m813 1h0m-1385 33h0m208-13h0m222 11h0m127-3h0m148-4h0m404-3h0m-1142 34h0m26-8h0m355-6h0m147 8h0m51-1h0m775 4h0m39-10h0m-1567 22h0m888 13h0m688-14h0m40 12h0m50 2h0m-1552 20h0m500-5h0m72 3h0m218-4h0m27-2h0m-1069 22h0m107 9h0m52-7h0m373 8h0m44-10h0m923 5h0m-1421 14h0m15 4h0m49 8h0m458-1h0m228-7h0m61-3h0m264 3h0m127-5h0m-421 29h0m521-3h0m137 0h0m-803 23h0m312 4h0m238 0h0m271-4h0m193-5h0m103 9h0m29 2h0m-1599 19h0m113-6h0m370 9h0m76 3h0m503-13h0m-1335 32h0m532-1h0m264 0h0m46-9h0m106 0h0m816 10h0m-1266 23h0m190-10h0m162 7h0m90 2h0m20-9h0m699 1h0m51 5h0m103-8h0m-1595 35h0m423 0h0m193-2h0m75 0h0m19 2h0m11 0h0m242-11h0m498 12h0m-1512 13h0m46 4h0m566-6h0m507-3h0m-1223 22h0m220 1h0m1061 7h0m525 1h0m-1545 16h0m322 4h0m92 3h0m705-8h0m-1241 29h0m24 1h0m231 0h0m115-1h0m175-4h0m91-4h0m419 6h0m15 0h0m351 4h0m-1453 15h0m77 1h0m693 4h0m177-8h0m11 2h0m594 9h0m-1365 13h0m155 6h0m262 0h0m561 2h0m24-3h0m-1365 19h0m392-3h0m1357 8h0m-1693 21h0m785 3h0m126-4h0m-928 17h0m639 9h0m291-2h0m209 4h0m286-5h0m308-2h0" stroke="#3430a0" stroke-width="20"/>
<path d="M361 974h0m584 6h0m222 2h0m241-2h0m106 0h0m270-5h0m-1503 43h0m68-6h0m33 7h0m1094-1h0m-601 25h0m322-4h0m-182 23h0m110 8h0m-731 19h0m12-2h0m684-5h0m-451 31h0m262-6h0m1020 1h0m-1087 20h0m1052-3h0m-383 29h0m239 0h0m149 2h0m164 1h0m-724 16h0m-231 27h0m287-9h0m-49 21h0m208 5h0m454-7h0m-311 26h0m79-1h0m-837 33h0m254-10h0m637 3h0m216 4h0m-1228 25h0m732-5h0m-568 24h0m509-2h0m-474 20h0m364-6h0m262 8h0m-1382 24h0m1344-8h0m-390 32h0m275-6h0m169 2h0m395 4h0m-1856 14h0m342 18h0m438 13h0m1050-8h0m-1285 16h0m201 4h0m302 3h0m209-3h0m100 0h0m442 7h0m-1730 25h0m579-11h0m258 10h0m333 1h0m-1216 15h0m125 3h0m472-2h0m923-4h0m-1226 28h0m930 24h0m157-3h0m152-3h0m-1087 22h0m-254 29h0m726-1h0m-605 20h0m1217 2h0m-1292 18h0m307-4h0m204 9h0m190-2h0m94-9h0m-996 30h0m263-9h0m195 6h0m1224 3h0m-1678 26h0m576 0h0m214-5h0m374-1h0m-629 15h0m302 23h0m306 7h0m-950 19h0m298 3h0m119 0h0m-558 18h0m59 9h0m95-1h0m12-1h0m879-11h0m64 9h0m576-7h0m-1710 24h0m322 31h0m88-9h0m-405 27h0m792 1h0m603 2h0m-1411 9h0m276 2h0m61 2h0m91 2h0m333 4h0m63-1h0m-810 14h0m878 2h0m649 4h0m86 3h0m118 26h0m-1786 20h0m308-7h0m1045 7h0m117-8h0m288 1h0m-1464 31h0m144-12h0m603-2h0m257 3h0m350 0h0m-950 31h0m283 2h0m-741 19h0m295-5h0m65-5h0m39 1h0m1167 0h0m-1854 29h0m1094 5h0m443-2h0m-1359 20h0m187-3h0m1292-7h0m-1511 27h0m267 9h0m110-12h0m174-1h0m217 12h0m22-9h0m256 6h0m392-4h0m-1575 22h0m420-4h0m441 8h0m63-9h0m93 11h0m449-3h0m-1408 26h0m113-5h0m107-3h0m384 25h0m922-2h0m-1537 26h0m139-9h0m19 2h0m149 27h0m417-6h0m1083 27h0m-580 17h0m19 8h0m451-1h0m-1202 27h0m1183-12h0m41 9h0m-1088 20h0m1126-7h0m-1712 34h0m165-13h0m438 5h0m188-6h0m882 3h0m-1475 22h0m441 9h0m827 2h0m-1542 12h0m9-2h0m1828 10h0m-1596 24h0m563-10h0m404-2h0m289 2h0m-1435 23h0m92 2h0m538-6h0m1002 5h0m-1707 24h0m653-3h0m570 9h0m289-9h0m354 3h0m-645 20h0" stroke="#241e64" stroke-width="20"/>
<path d="M269 968h0m461 6h0m630 2h0m70-1h0m116 3h0m220-8h0m35-1h0m-1453 24h0m121 7h0m50-7h0m21 5h0m358-2h0m498-4h0m269 7h0m203-2h0m-1212 22h0m384 7h0m100-7h0m232 1h0m142-2h0m360-4h0m170-1h0m-1606 32h0m920-10h0m-1184 31h0m626 1h0m42 2h0m111 1h0m19-11h0m478-3h0m495 7h0m-1585 20h0m859-2h0m363 5h0m215-4h0m-1595 24h0m180 0h0m275 1h0m43-5h0m94 11h0m182-10h0m321 8h0m91-5h0m113 4h0m168-3h0m-1297 22h0m30 5h0m34-12h0m208 5h0m156 9h0m383-9h0m463 4h0m154-8h0m-1427 28h0m183 3h0m223-8h0m680 0h0m215 1h0m288 6h0m-1620 18h0m20 6h0m137-11h0m511 13h0m281-13h0m311 0h0m-1023 35h0m584-9h0m399 0h0m-1112 26h0m128-5h0m25 0h0m361-3h0m84 9h0m261 0h0m152-3h0m131 4h0m74 3h0m349-3h0m-1571 12h0m105 10h0m418-1h0m132-3h0m425 7h0m415-11h0m-1490 21h0m151 13h0m25-9h0m536 9h0m239-6h0m149 1h0m143 1h0m-1424 21h0m132 0h0m893-9h0m-790 32h0m212-3h0m377 5h0m344-9h0m154 9h0m-1344 19h0m171 1h0m195-9h0m381 5h0m148 5h0m306-7h0m119 4h0m37-1h0m362-6h0m-1661 31h0m11-7h0m409 0h0m350 8h0m331-9h0m254-2h0m135 0h0m-1420 30h0m247 5h0m48 1h0m162-13h0m56 12h0m434-6h0m130-6h0m289-1h0m138 13h0m-1671 19h0m76 4h0m172-11h0m416 4h0m483-2h0m-1088 18h0m283 10h0m25-3h0m530-5h0m173 6h0m659 1h0m-1656 21h0m614 5h0m397 0h0m239-5h0m48 4h0m41-9h0m203 9h0m108-9h0m122-4h0m-1837 26h0m1260 5h0m368-6h0m111 1h0m-1521 28h0m200 1h0m223-1h0m215-1h0m239-9h0m264 5h0m94 7h0m287-8h0m-1158 29h0m13-4h0m673-5h0m-1165 20h0m576 9h0m21-8h0m263 8h0m248 2h0m59-3h0m282 4h0m183-1h0m-1603 14h0m229-1h0m244 3h0m418 6h0m36-5h0m85 8h0m404-6h0m69-6h0m-934 31h0m327-4h0m112 6h0m352-10h0m-1513 24h0m201 6h0m91-10h0m433 5h0m26-6h0m46 14h0m414-3h0m66-10h0m84 2h0m356 3h0m63-3h0m-1743 26h0m414 0h0m173-4h0m66 5h0m266-4h0m52 9h0m450-10h0m80 11h0m163-6h0m-1346 20h0m767 1h0m226-1h0m223-5h0m38 9h0m-1464 22h0m178-3h0m79-6h0m709 7h0m118 0h0m346-7h0m18 12h0m185-11h0m-1471 31h0m49-2h0m150 3h0m420-5h0m478-7h0m181 3h0m-1279 32h0m190 0h0m111 1h0m634-9h0m-1235 25h0m42 4h0m193-4h0m862-7h0m174 2h0m44-3h0m289 4h0m-1507 30h0m146-7h0m66 8h0m50-7h0m20 7h0m658 0h0m553-10h0m65-1h0m-1399 31h0m308-5h0m223 1h0m686 4h0m399-3h0m-1694 27h0m32-6h0m611-1h0m134 4h0m105-4h0m340 7h0m64-13h0m22 12h0m277-6h0m-1177 30h0m159-7h0m177 7h0m240 0h0m29-4h0m125-5h0m374-1h0m-1458 23h0m63-1h0m928 10h0m213-1h0m111 1h0m257-1h0m-1718 21h0m374-2h0m133-8h0m38 9h0m163 1h0m873-3h0m203-1h0m-1561 17h0m92-1h0m244 12h0m114-2h0m925-8h0m102-4h0m-1037 23h0m258 7h0m47-2h0m17-2h0m179-1h0m218 9h0m266 2h0m42 0h0m-1656 18h0m201 1h0m89-5h0m253-1h0m178 0h0m335-4h0m-1020 27h0m701 6h0m79-7h0m297-4h0m128 6h0m132-4h0m15 6h0m56-9h0m82 4h0m-1382 29h0m221-2h0m443-7h0m735 12h0m97-10h0m-1321 21h0m301 7h0m340-1h0m717-8h0m-1697 24h0m1115 5h0m48-7h0m106 3h0m435 9h0m23-12h0m27 5h0m-1423 19h0m735 1h0m44 8h0m-1186 21h0m334-10h0m336 3h0m507 3h0m-780 22h0m518-7h0m114 14h0m168-3h0m67 1h0m45-12h0m314 1h0m-1400 26h0m348 2h0m249 3h0m102 1h0m28-4h0m38-1h0m114-2h0m184 8h0m-1204 14h0m335 7h0m42-4h0m633-7h0m97 13h0m234-8h0m160 1h0m-1314 20h0m91 8h0m278-10h0m751 8h0m-1421 25h0m74-11h0m189 11h0m185-5h0m170-6h0m171 5h0m750-3h0m55-2h0m151 10h0m21-9h0m-1757 33h0m136-11h0m151 4h0m295-7h0m419 7h0m482 7h0m308-12h0m-1528 21h0m150 9h0m47 4h0m419-2h0m45-1h0m152-5h0m235-2h0m-882 23h0m700 9h0m47-1h0m62-7h0m262 6h0m40-10h0m73 8h0m148-10h0m-1678 33h0m103 3h0m188-8h0m342 3h0m245 5h0m262-9h0m360 8h0m35-8h0m-1614 21h0m643 9h0m487-6h0m452-7h0m64 1h0m35 13h0m101-1h0m51-2h0m-1758 16h0m331-2h0m238 4h0m165-5h0m220 4h0m14 7h0m51-5h0m154 5h0m301 0h0m87-13h0m134 9h0m27-3h0m-871 16h0m348 8h0m-1039 15h0m43 5h0m84-1h0m335 8h0m134-2h0m59-6h0m370 1h0m317 4h0m-1406 19h0m101-1h0m104 3h0m512 0h0m877 3h0m13-12h0m48 7h0m-1413 29h0m477-8h0m397-5h0m29 8h0m130 3h0m263-7h0" stroke="#d82490" stroke-width="20"/>
<path d="M229 975h0m697-5h0m128 9h0m121 14h0m184 8h0m-1096 14h0m73 4h0m430 20h0m-45 30h0m332-3h0m98-10h0m406 1h0m498 7h0m-1451 27h0m108-4h0m90-5h0m1085 0h0m89 10h0m-1396 22h0m173-2h0m-372 22h0m994-4h0m460-2h0m-913 50h0m439 2h0m329-11h0m297 3h0m-1496 19h0m59 7h0m394 1h0m111-6h0m225 0h0m269-4h0m196 7h0m-849 20h0m299 7h0m378-4h0m-1280 21h0m740 1h0m109-8h0m224 7h0m533 3h0m-1158 19h0m147-3h0m158-1h0m-718 29h0m32-3h0m198-4h0m284-4h0m398 27h0m121 5h0m169-6h0m-138 24h0m102-6h0m339 11h0m-1188 12h0m184 7h0m126-6h0m136 2h0m59-1h0m78-3h0m277 1h0m-704 26h0m192 9h0m902 0h0m129 0h0m-1436 17h0m41 5h0m279-2h0m379 2h0m438-9h0m222 1h0m-1768 21h0m268 9h0m411-8h0m973 5h0m42-5h0m-1072 18h0m336 4h0m814 4h0m-657 25h0m360-3h0m81 4h0m22-1h0m48-1h0m-1577 18h0m496-1h0m169 6h0m282-7h0m317-4h0m398 9h0m-1688 17h0m741 7h0m219-2h0m206-11h0m214 14h0m-1387 13h0m522 3h0m26 19h0m511 6h0m-1050 12h0m1001 7h0m59 2h0m598-2h0m90 3h0m-1448 40h0m1311 2h0m-1455 14h0m98 6h0m143 3h0m373 1h0m104-2h0m52-6h0m459 1h0m-940 18h0m574 8h0m422 2h0m285-8h0m124 9h0m-1700 23h0m576-8h0m308 5h0m593 0h0m125 4h0m-1636 17h0m489 2h0m37 2h0m604-9h0m44-1h0m58 9h0m260 0h0m202-8h0m-1489 28h0m77-9h0m98 2h0m199-2h0m69 4h0m793-2h0m134 5h0m-889 17h0m131 12h0m201-4h0m306 1h0m220-4h0m35-2h0m118-3h0m-934 32h0m476-2h0m269 2h0m-1419 16h0m174 7h0m91-12h0m640 13h0m157-11h0m275 4h0m96-6h0m-1306 31h0m367-8h0m1125 12h0m-1772 12h0m305-1h0m397-2h0m469 11h0m612 2h0m-1569 21h0m287-7h0m154 1h0m430 3h0m76-3h0m119-3h0m243-4h0m175 3h0m-1609 31h0m419-2h0m243-3h0m47-3h0m62-4h0m20 14h0m27-11h0m281 2h0m85-5h0m174 0h0m66 10h0m-1063 26h0m390 0h0m398-7h0m-803 18h0m353 9h0m378-9h0m592-2h0m-1720 25h0m561-4h0m230 10h0m420-10h0m84 14h0m39-4h0m-1069 12h0m53 6h0m551-3h0m229-1h0m220 6h0m-1386 23h0m935 5h0m273-4h0m15-3h0m180 3h0m-873 22h0m836 0h0m-799 24h0m374 1h0m117 15h0m293-4h0m326 2h0m-1367 24h0m364-4h0m253 3h0m64-5h0m-837 28h0m621 4h0m74-9h0m327 11h0m14-12h0m113 13h0m184-1h0m-630 11h0m196 7h0m700-6h0m-1765 30h0m79 1h0m54-4h0m432-6h0m90 3h0m333 10h0m16 0h0m121-2h0m64 1h0m254-9h0m115 1h0m289 4h0m-1754 18h0m-51 20h0m109 4h0m964-6h0m470 13h0m254-10h0m-1521 28h0m35-3h0m97-1h0m101 3h0m250 2h0m23-10h0m150 4h0m97 5h0m747-4h0m19 5h0m-1857 16h0m584 6h0m1134 20h0m-1312 14h0m1282 0h0m-1130 26h0m609 7h0m45-2h0m94 0h0m175-7h0m-451 19h0m-51 22h0m478 3h0m205-3h0m-1355 35h0m22-3h0m217-10h0m90 12h0m104 1h0m194-5h0m358-3h0m64 0h0m71 9h0m157-7h0m87-7h0m59 0h0m-1520 27h0m350 4h0m810 2h0m150 1h0" stroke="#9838bc" stroke-width="20"/>
<path d="M239 977h0m294-5h0m597 9h0m483-12h0m430 9h0m-573 21h0m530 5h0m-748 16h0m46 1h0m328-2h0m74 6h0m84-8h0m-1287 22h0m499 5h0m837-8h0m117 10h0m-1315 11h0m355 3h0m43 10h0m179-12h0m37 4h0m34-1h0m308 3h0m67-5h0m10 9h0m167-3h0m-1070 14h0m155 3h0m217-1h0m211 3h0m199 7h0m70-1h0m71-11h0m-565 22h0m224 5h0m-105 22h0m-953 21h0m44 3h0m505-6h0m291 7h0m263 3h0m399-8h0m85 5h0m108 5h0m-1578 9h0m194-1h0m160 11h0m133-4h0m499 0h0m101-2h0m-675 22h0m437 4h0m263-6h0m309-1h0m92 11h0m56-7h0m-1702 23h0m244-2h0m200 9h0m261-4h0m250 1h0m-411 22h0m17-6h0m1188 1h0m-1545 20h0m246 9h0m275-7h0m836 4h0m-749 16h0m165 8h0m337-1h0m-1265 11h0m344 10h0m972 4h0m-1142 36h0m358-6h0m146 4h0m758-3h0m-398 25h0m365 10h0m-795 18h0m561 3h0m-1179 17h0m599-1h0m564-1h0m-1152 18h0m1011 2h0m126 6h0m-1254 23h0m1250-7h0m435 9h0m108-3h0m31-10h0m-1747 25h0m18 0h0m459 5h0m227 0h0m698 5h0m59-11h0m113 6h0m-1565 20h0m304-6h0m86 7h0m196-3h0m646-3h0m328 9h0m155-6h0m-1557 27h0m106 2h0m211-1h0m199-6h0m297 6h0m443-1h0m184-1h0m-1445 27h0m145 0h0m175 0h0m70-9h0m575 7h0m84-8h0m69 2h0m219 0h0m24-3h0m92 2h0m90 0h0m32-1h0m-1240 31h0m381-8h0m451-4h0m-988 24h0m472 6h0m210-7h0m328 5h0m198 2h0m-1400 21h0m287-7h0m369 8h0m218 0h0m25 4h0m338-10h0m261-1h0m-1729 30h0m201-9h0m173 9h0m70 1h0m77-1h0m27 1h0m595-5h0m369 5h0m144-6h0m171 3h0m-1352 20h0m111 0h0m241-3h0m465 7h0m-1308 14h0m86 13h0m274-10h0m356 7h0m135 1h0m884 2h0m-852 16h0m593 2h0m-936 16h0m41 8h0m357-12h0m24 14h0m40-4h0m217-3h0m76-7h0m238 11h0m-1492 19h0m603 5h0m70-1h0m352-7h0m209-1h0m-1087 26h0m152 2h0m313 4h0m655-6h0m186 0h0m-788 23h0m529 0h0m84 5h0m52-7h0m-1195 23h0m-62 23h0m747 5h0m20-11h0m239 7h0m376-5h0m204 7h0m-1571 19h0m342-5h0m706 4h0m337 6h0m173-12h0m48 0h0m-936 32h0m89-2h0m288 2h0m-1074 19h0m597 3h0m93 0h0m106 1h0m368-1h0m442-1h0m-1657 19h0m505-5h0m751 2h0m409 4h0m-1584 15h0m197 11h0m110 0h0m747-12h0m630 7h0m-1089 17h0m30 7h0m1073-9h0m-1821 28h0m93-4h0m22 8h0m589-6h0m321-2h0m87 7h0m281-7h0m443 4h0m-1317 19h0m600-4h0m457 2h0m94 10h0m39 1h0m-1664 12h0m595 4h0m63 7h0m341-13h0m58 4h0m209 3h0m108-2h0m346-6h0m23 11h0m-1502 15h0m81-4h0m660 8h0m527 0h0m-1478 23h0m355 0h0m302-8h0m-477 26h0m836 8h0m71 1h0m509-1h0m-1509 21h0m334-11h0m18 4h0m15 1h0m197-4h0m219-1h0m681 7h0m-1067 17h0m1254-2h0m-1626 23h0m255 5h0m635-6h0m70 12h0m227-2h0m66-7h0m398 0h0m-1540 21h0m138 8h0m577 3h0m502-11h0m243-1h0m-1710 31h0m41-6h0m23 5h0m820 0h0m276-7h0m119 2h0m15-4h0m56 3h0m-1068 27h0m190 0h0m41-6h0m856 2h0m44-5h0m254 13h0m-855 9h0m71 11h0m221-5h0m224-5h0m272 11h0m201-8h0m-1617 29h0m29 1h0m264-2h0m524 2h0m264-7h0m67 8h0m15-3h0m-1106 24h0m487 2h0m50-2h0m459-10h0m45 11h0m197-5h0m-1284 18h0m144 3h0m74-3h0m398 6h0m255-6h0m45 4h0m241-6h0m239 3h0m-329 30h0m306-3h0m-1551 19h0m451-3h0m486-1h0m380 7h0m83-2h0m-1398 19h0m371-4h0m145 5h0m105 6h0m50 0h0m166-5h0m445-1h0m36-5h0m155 12h0m47-10h0m51 5h0m156-5h0" stroke="#6840c4" stroke-width="20"/>
<path d="M404 978h0m237-1h0m368-9h0m34 6h0m118 22h0m106 6h0m-776 22h0m363-10h0m250 12h0m-189 9h0m214 9h0m376-10h0m-1127 27h0m1367 7h0m40-12h0m-1283 26h0m764 1h0m-781 19h0m995 11h0m-908 39h0m109-6h0m-509 48h0m1729 4h0m-1662 20h0m566-4h0m128 10h0m-583 22h0m31-5h0m-19 26h0m416-11h0m203 11h0m115 1h0m472-10h0m354 9h0m-1157 22h0m92 1h0m486-14h0m88 12h0m91-8h0m422 30h0m-783 11h0m814 9h0m25-4h0m-559 18h0m441 2h0m89 0h0m-1699 27h0m787 1h0m214-6h0m713 7h0m-1628 18h0m315-5h0m969 10h0m148-4h0m-860 20h0m240-3h0m65 9h0m156-3h0m192-2h0m419-6h0m-228 35h0m-1461 20h0m1275-11h0m17 2h0m-1218 21h0m198 9h0m378 2h0m237-5h0m313-4h0m-1152 49h0m63 5h0m624-12h0m69 9h0m108-9h0m442-1h0m-1400 35h0m225-3h0m1091 3h0m-23 14h0m-852 22h0m487-5h0m18 8h0m152 4h0m408 12h0m-563 31h0m-250 18h0m743-3h0m162 3h0m-1493 27h0m1617-11h0m-1245 31h0m397 1h0m477-6h0m108-4h0m-1397 29h0m1238-7h0m86 6h0m-559 25h0m453-11h0m161 14h0m-1391 9h0m743 7h0m177 6h0m486-4h0m-1161 24h0m486-1h0m653 13h0m217 10h0m-913 18h0m523-4h0m-695 28h0m404 3h0m478-3h0m-1387 21h0m1710-8h0m-1237 28h0m517 5h0m154-4h0m-751 23h0m878-2h0m-911 29h0m754 17h0m-1023 27h0m680-1h0m414-4h0m-1319 22h0m743 1h0m-412 26h0m884 0h0m-771 37h0m-376 28h0m215-4h0m1426-4h0m-1306 64h0m399 4h0m88 3h0m319-9h0m-1196 29h0m843-5h0m259-3h0m-518 34h0m1107 1h0m-1228 17h0m528 4h0m84 1h0m-95 18h0m812-8h0m-1654 21h0m459 7h0m992 6h0m-1072 22h0m-311 22h0m201-13h0m-276 31h0m264 5h0m63-6h0m-159 38h0m549 3h0" stroke="#1c8034" stroke-width="20"/>
<path d="M1734 975h0m-1483 23h0m944 2h0m574-5h0m51 8h0m-1616 15h0m211 4h0m385-10h0m175 2h0m522-1h0m140 23h0m360 9h0m-634 17h0m-185 30h0m743-11h0m-109 30h0m-1340 64h0m94-2h0m167-6h0m1168 7h0m-1482 17h0m418 11h0m-489 15h0m1540 0h0m-276 25h0m348 1h0m-1164 41h0m366 0h0m470-5h0m-1180 24h0m111 2h0m1366-5h0m-893 33h0m49-13h0m807 3h0m-912 24h0m836 3h0m115 2h0m-1757 19h0m75 6h0m768-1h0m215-6h0m-192 30h0m619-3h0m230-10h0m-1399 29h0m629 24h0m524 1h0m-1400 15h0m162 10h0m407-14h0m186 8h0m417-8h0m121 0h0m-990 33h0m100-10h0m351 5h0m286-6h0m681 7h0m-1321 28h0m-414 9h0m973 12h0m699-6h0m-1498 25h0m1251 0h0m84-5h0m-300 32h0m235 15h0m-825 17h0m408 20h0m505 0h0m-389 24h0m-397 27h0m569 0h0m-1097 25h0m615 16h0m199 4h0m-629 18h0m-56 27h0m570-1h0m469 2h0m280-10h0m41 9h0m-1684 15h0m216 5h0m58 3h0m903 23h0m-224 16h0m-767 45h0m448 2h0m735-8h0m-816 47h0m1139 11h0m-1768 22h0m889-10h0m-823 42h0m312 9h0m420-3h0m497 2h0m262 4h0m-922 42h0m118-4h0m812-1h0m50 5h0m-287 34h0m-1266 28h0m633-6h0m81 2h0m865 0h0m-1509 23h0m1450 18h0m-1333 27h0m1056 8h0m111-9h0m239 6h0m161 21h0m-118 17h0m4 20h0m-356 33h0m71 104h0m-1237 20h0m1091 6h0" stroke="#0c0c24" stroke-width="20"/>
<path d="M339 981h0m218 13h0m485-4h0m174 0h0m339 8h0m-1377 22h0m51-8h0m407 14h0m377-1h0m424-5h0m394-3h0m-1533 25h0m19-1h0m225-2h0m-55 25h0m1017-1h0m43-2h0m60-5h0m193 3h0m-1450 25h0m582 0h0m67 8h0m-374 16h0m538-3h0m-309 19h0m103 10h0m178-7h0m67 4h0m466-5h0m-1272 28h0m393 2h0m32-7h0m833-4h0m-1469 21h0m267 2h0m818 5h0m234 7h0m117 0h0m-1086 21h0m372 1h0m569-3h0m176-7h0m-1338 25h0m52 2h0m280 2h0m843-7h0m412 10h0m-1232 10h0m541 10h0m-783 17h0m955 0h0m365 1h0m-1547 22h0m1357-7h0m124 1h0m-1300 34h0m318-7h0m131 4h0m397-1h0m-824 19h0m111 7h0m61-14h0m398 14h0m948-4h0m-18 18h0m128 7h0m-506 21h0m156 2h0m145-3h0m-1351 25h0m21-8h0m-96 17h0m816 13h0m826-2h0m-1221 11h0m156 5h0m689-3h0m92-3h0m-398 22h0m30 9h0m-937 18h0m489 4h0m990 2h0m-1662 13h0m282 2h0m660 6h0m282 3h0m395-11h0m136 11h0m-1770 18h0m21-9h0m1653 12h0m-1724 22h0m481-5h0m190-5h0m266-2h0m41 14h0m24-9h0m225 7h0m-72 24h0m307-3h0m62-3h0m-1245 24h0m306 2h0m159-4h0m171-8h0m492 14h0m-1333 10h0m91 10h0m1013 1h0m607-3h0m-1617 19h0m242-1h0m239-3h0m821 1h0m-1285 28h0m418-8h0m371 8h0m154-1h0m23 2h0m91-9h0m78 7h0m-1302 16h0m393 9h0m151-11h0m252 12h0m723-7h0m-1392 26h0m282-4h0m237 5h0m-627 16h0m1073 0h0m-906 27h0m600 20h0m406 6h0m-635 18h0m822-6h0m79-3h0m138-1h0m-1151 30h0m133-3h0m235 9h0m525-12h0m-840 23h0m102 0h0m834 10h0m249-12h0m-1404 30h0m714-6h0m-769 19h0m463 13h0m181-9h0m854 5h0m-1694 27h0m655-7h0m45-6h0m38 10h0m24-11h0m-580 22h0m729 1h0m385 6h0m-1171 26h0m622-1h0m942-6h0m46 5h0m40-4h0m-1749 19h0m413 2h0m576 0h0m335 0h0m121-4h0m-1191 29h0m663-1h0m367-4h0m273 11h0m-1247 15h0m245 7h0m208 1h0m31-1h0m37-3h0m95-7h0m611-3h0m-1345 27h0m792 4h0m285-5h0m-1034 23h0m446 9h0m110-1h0m74-2h0m674 2h0m-1090 19h0m242-8h0m765 2h0m-1185 32h0m544-5h0m152-5h0m371 3h0m72 3h0m256-8h0m-1190 26h0m215 3h0m438 3h0m89-4h0m515-6h0m-1068 22h0m503 6h0m237-5h0m49 4h0m130 0h0m-690 29h0m67-10h0m729 6h0m-1426 24h0m183-2h0m1110-1h0m-1463 18h0m318-1h0m12 0h0m-42 49h0m575-2h0m81 2h0m119 2h0m283-6h0m110 1h0m-1457 18h0m186 8h0m772-10h0m166 7h0m148-2h0m-491 25h0m241 0h0m512 17h0m-347 24h0m498 2h0m-259 15h0m-665 23h0m108 6h0m39-6h0m644 11h0" stroke="#3cc844" stroke-width="25"/>
<path d="M1827 978h0m-919 13h0m693 7h0m-836 25h0m682 1h0m321-7h0m37 0h0m-1444 45h0m102 4h0m1007 17h0m-1068 22h0m414-4h0m1081 0h0m-1197 138h0m98 7h0m157 33h0m538-1h0m54 108h0m299 8h0m-1109 90h0m-189 83h0m1483 8h0m-771 17h0m-711 38h0m765 27h0m-146 19h0m87 4h0m236 70h0m91-5h0m-1301 50h0m1159 34h0m-703 55h0m503 41h0m673 13h0m-1611 71h0m1591 29h0m-1046 17h0m1190-7h0m-404 28h0m-934 22h0m211 19h0m3 17h0m402 25h0m-76 48h0m-1008 69h0m1040-6h0m793 4h0m-1772 27h0m1749 66h0" stroke="#78e468" stroke-width="25"/>
<path d="M1077 973h0m184-5h0m772 12h0m-1009 12h0m501 7h0m269-8h0m159 10h0m-1637 23h0m278 0h0m393-9h0m351 1h0m373 2h0m-1495 27h0m612-3h0m701 6h0m52-10h0m-1310 22h0m420-2h0m-106 32h0m439 0h0m988-4h0m-221 28h0m-1600 18h0m103-7h0m451 0h0m18 1h0m1212 8h0m-723 21h0m43-4h0m117 1h0m-1194 22h0m497 4h0m333-11h0m17 11h0m485-8h0m-1285 22h0m810 0h0m220-4h0m-910 36h0m30-6h0m145 2h0m313-8h0m131 3h0m816 1h0m218-3h0m-1703 32h0m59 1h0m339 36h0m544 1h0m746-7h0m-1682 22h0m1212 0h0m-874 28h0m970 8h0m-882 18h0m-170 19h0m556-2h0m258-1h0m25 8h0m-545 11h0m202 2h0m246 6h0m437 2h0m-1441 23h0m748-12h0m636 13h0m40-10h0m-1371 24h0m785 5h0m33 2h0m-852 22h0m701-9h0m179-2h0m-912 29h0m925-2h0m-898 27h0m405-10h0m320 7h0m-868 23h0m596-3h0m45 3h0m177-6h0m375 8h0m-869 25h0m-290 18h0m504-3h0m178 4h0m194-8h0m288 8h0m583 3h0m-1769 8h0m107 34h0m879-8h0m260 2h0m336 5h0m-1618 35h0m1544 3h0m-674 20h0m-110 26h0m234-3h0m654 27h0m-1236 37h0m199 4h0m68 5h0m-643 15h0m606-1h0m272 5h0m893 2h0m-779 18h0m85 4h0m363-2h0m-1232 15h0m69-1h0m426 14h0m720-8h0m-920 16h0m757 13h0m507-3h0m-1437 46h0m573-9h0m909 8h0m-1693 13h0m583 5h0m208 0h0m732 7h0m-587 20h0m295-7h0m475 8h0m-1573 37h0m208 1h0m51 7h0m281-13h0m143 26h0m561-4h0m16 9h0m19-3h0m-1060 20h0m66-3h0m395 5h0m518 7h0m176-2h0m-1615 23h0m1177-4h0m-129 14h0m567 4h0m119 4h0m-1691 22h0m26-7h0m1023 33h0m291-9h0m331 2h0m-649 24h0m-1095 23h0m1015 0h0m332-3h0m-892 19h0m-453 23h0m1228 6h0m-1192 19h0m861 4h0m383-6h0m288 8h0m88-9h0m-1616 18h0m380 12h0m1037-9h0m-766 28h0m1034-1h0m-1259 25h0m406-7h0m118-3h0m-380 30h0m587-3h0m94-3h0m121 8h0m140-1h0m-317 14h0m108 3h0m127 2h0m107-4h0m175-1h0m-1482 53h0m374-3h0" stroke="#38b8ac" stroke-width="25"/>
<path d="M1346 976h0m-539 14h0m-549 52h0m635-2h0m-292 23h0m15 1h0m277 24h0m592-5h0m-333 25h0m-874 14h0m1248 8h0m24 5h0m47-10h0m-1060 27h0m215-2h0m132 6h0m679-5h0m74-5h0m-1411 22h0m453 4h0m1046 8h0m-539 8h0m-987 50h0m1478-2h0m-1209 44h0m921-4h0m-1114 32h0m331-6h0m-259 23h0m464 4h0m75-1h0m581 21h0m-1004 27h0m253 13h0m62 3h0m355-4h0m-533 22h0m11 12h0m-319 16h0m1191 4h0m12 11h0m219-1h0m-488 26h0m450 27h0m-393 27h0m-947 12h0m169-4h0m289 2h0m260 8h0m-463 18h0m695 6h0m-894 13h0m1169 5h0m351-7h0m-1178 23h0m306 9h0m1 14h0m500-2h0m-1194 31h0m34 69h0m608 1h0m-276 20h0m451-8h0m-981 25h0m210-7h0m1054 4h0m169 23h0m95-2h0m212 4h0m-1370 20h0m197-4h0m1252 8h0m-139 14h0m-609 23h0m-1023 22h0m1439 8h0m237-3h0m-140 63h0m-1375 75h0m348-13h0m152 8h0m823 15h0m-1464 23h0m921 10h0m891 2h0m-712 14h0m-768 26h0m686 0h0m242 1h0m-974 12h0m528 0h0m852 11h0m-843 13h0m-348 22h0m575 0h0m-621 19h0m118 7h0m525 21h0m613 6h0m53 0h0m-972 43h0m80-8h0m606 11h0m-1492 11h0m769 9h0m96-6h0m-436 24h0m42-2h0m180-2h0m236 0h0m484 7h0m-955 15h0m173 30h0m525-12h0m257 11h0m-880 17h0m84-3h0m305 1h0" stroke="#84e4dc" stroke-width="25"/>
<path d="M480 980h0m478 21h0m126-5h0m-459 20h0m-231 25h0m583 6h0m-304 38h0m193 6h0m-387 40h0m852-3h0m-1126 28h0m95 59h0m842-3h0m-218 25h0m674 25h0m134-7h0m280 2h0m-1261 26h0m265-2h0m218 3h0m490-2h0m243-4h0m-273 48h0m110 5h0m-1168 14h0m484 20h0m250 21h0m-116 31h0m-784 21h0m922 6h0m124 13h0m-1337 45h0m922-6h0m239 5h0m-235 51h0m-114 43h0m358-3h0m59-6h0m-1068 27h0m250 7h0m24-14h0m873 13h0m91-11h0m76 27h0m326-6h0m-1502 25h0m84 9h0m302-1h0m73-3h0m746-1h0m104 19h0m-1603 61h0m774 3h0m106-2h0m58 27h0m203-2h0m-391 21h0m216 2h0m212-3h0m-673 20h0m1091 7h0m-269 19h0m-806 21h0m1233 5h0m-1072 15h0m-449 23h0m193 26h0m259 5h0m906-3h0m-1376 28h0m419-3h0m1061-11h0m-760 52h0m-629 17h0m364-3h0m231 8h0m-20 14h0m-680 33h0m446-4h0m607 20h0m-100 20h0m507 2h0m-176 28h0m286 2h0m-847 31h0m339 9h0m247 4h0m-192 12h0m252 11h0m-583 10h0m219 4h0m-696 18h0m822 5h0m-831 24h0m1345 5h0m-1457 33h0m516 27h0m-465 21h0m1296-1h0m-1620 19h0" stroke="#58a8e4" stroke-width="25"/>
<path d="M906 981h0m203 10h0m538 0h0m-595 29h0m607 1h0m236 0h0m63 5h0m-1554 16h0m1066 5h0m128-8h0m-117 19h0m-1268 23h0m984 1h0m133 8h0m106-5h0m275 2h0m-1493 23h0m640-10h0m1152 7h0m-1418 23h0m452-3h0m-113 27h0m1097-2h0m-1713 20h0m1157 2h0m-546 27h0m567-2h0m35 18h0m-777 19h0m192 4h0m335-1h0m133-7h0m-545 36h0m205-12h0m422 7h0m-1237 37h0m116 1h0m671 8h0m96-1h0m870-4h0m-1234 29h0m15-12h0m801 1h0m82 9h0m352-6h0m-889 22h0m-182 18h0m-628 33h0m362-6h0m163-6h0m154 6h0m247-5h0m800 5h0m-1236 18h0m995 11h0m-1555 19h0m248-5h0m538 9h0m647-11h0m-742 32h0m960 9h0m127 0h0m-1002 32h0m155-2h0m106 0h0m122 2h0m33 4h0m250-6h0m-1176 15h0m464 2h0m88-3h0m457 1h0m455 13h0m-1372 13h0m555 2h0m366 6h0m-1065 22h0m384-8h0m651 5h0m-1250 47h0m1146-2h0m463 0h0m-1449 35h0m191 5h0m96-1h0m39 2h0m-108 23h0m70-3h0m-160 16h0m-262 31h0m1640 24h0m-1260 24h0m23-10h0m83 5h0m111-1h0m28 0h0m458-4h0m-636 53h0m879-2h0m-1413 20h0m44-8h0m100 2h0m320-2h0m829 1h0m73 9h0m208-8h0m-1377 22h0m177-2h0m34 1h0m548 5h0m684 3h0m-1298 25h0m845 1h0m-785 12h0m1074-1h0m-579 32h0m109-3h0m456-5h0m-857 28h0m547 4h0m-1005 18h0m952-6h0m265-4h0m142 7h0m-1034 24h0m275-5h0m950-3h0m-983 26h0m66 9h0m253-11h0m407 20h0m-129 25h0m444 7h0m-1523 11h0m17 7h0m45-3h0m329 6h0m1209 1h0m-1676 16h0m274-1h0m99 4h0m253-2h0m463 3h0m165-9h0m369 1h0m36 5h0m-1568 23h0m324 6h0m278 1h0m79 0h0m722-6h0m-1525 18h0m91 3h0m414-3h0m968-2h0m185 1h0m-374 23h0m-1253 18h0m547 0h0m346 9h0m-827 20h0m801-5h0m121-1h0m224-1h0m49 7h0m-1327 28h0m178 12h0m72 0h0m233 9h0m91 1h0m636-8h0m-335 30h0m240-6h0m134 6h0m189-5h0m-1351 23h0m46 3h0m199-7h0m1151 6h0m-1550 20h0m1711-7h0m59 6h0m-753 28h0m132-13h0m-470 32h0m13-3h0m138 4h0m171-6h0m230 3h0m-505 22h0" stroke="#4050c8" stroke-width="25"/>
<path d="M569 974h0m43 27h0m-370 11h0m1373 7h0m306 0h0m59 3h0m-1286 26h0m153-12h0m900-1h0m-1232 27h0m-202 45h0m146 21h0m262 4h0m787 3h0m72 0h0m102-13h0m-1437 33h0m903-6h0m180 0h0m-242 29h0m70-5h0m-675 40h0m873-3h0m710 2h0m-1428 27h0m1145 5h0m-1267 13h0m182 0h0m442-3h0m-74 34h0m408-8h0m-663 27h0m58 1h0m-683 38h0m88 8h0m537-2h0m483-8h0m765 1h0m-1479 23h0m143 5h0m181-7h0m-99 20h0m423 8h0m312 5h0m420 12h0m-1729 20h0m148 35h0m1183-9h0m-643 30h0m617-1h0m-390 18h0m-717 44h0m139 16h0m1316 4h0m-345 41h0m-1116 26h0m1610 20h0m-1288 20h0m-155 32h0m57-3h0m695 1h0m449-3h0m56 4h0m-914 23h0m433-3h0m-588 19h0m276 1h0m638-5h0m-1358 33h0m1541-10h0m-959 24h0m116-4h0m-808 31h0m46-6h0m791-2h0m762 26h0m-1210 22h0m424 6h0m64-13h0m428 11h0m75-4h0m-1032 28h0m1248-13h0m-1636 23h0m1030 5h0m63 8h0m-54 20h0m175-8h0m447 19h0m44 5h0m-571 29h0m341-12h0m124 22h0m154 1h0m-410 20h0m46 8h0m-1174 18h0m1054 5h0m137 0h0m56 14h0m89 7h0m104 6h0m-1126 20h0m1091-6h0m-1389 21h0m-212 30h0m130-8h0m464-4h0m463 10h0m203 3h0m126-9h0m-9 31h0m124-14h0m138 2h0m60 6h0m-1399 25h0m-49 24h0m1150-5h0m126-1h0m-796 16h0m762 11h0m-1368 19h0m88 4h0m1035 0h0m-808 19h0m1343-6h0m-1136 23h0m375 8h0m-163 9h0m587 13h0m130-3h0m-1384 19h0m813 1h0m175 2h0m-673 21h0m324 5h0m945-2h0m-78 11h0m-1595 29h0m382 0h0m215 1h0m307-7h0m802 4h0" stroke="#3430a0" stroke-width="25"/>
<path d="M699 977h0m-295 26h0m353 19h0m561-5h0m-223 24h0m146 1h0m472-4h0m-1181 30h0m509 10h0m-532 29h0m329-6h0m810 9h0m-1444 24h0m958-10h0m191 1h0m708 0h0m-1115 32h0m41-13h0m-683 26h0m1365-3h0m-1421 54h0m817 16h0m385 1h0m114 7h0m83-6h0m119 28h0m-732 23h0m-736 18h0m248-1h0m780 0h0m550 4h0m-391 37h0m-407 22h0m479 0h0m-1215 26h0m1513 48h0m-1529 18h0m1722-7h0m-1632 19h0m256 14h0m1347-9h0m-1153 23h0m957 60h0m-1550 26h0m327-4h0m1449 7h0m-980 69h0m259 12h0m66 9h0m-634 15h0m150 5h0m1033 4h0m-549 14h0m276 9h0m-1061 12h0m1209 11h0m-33 14h0m-943 18h0m-341 22h0m1550 7h0m-1492 39h0m736-2h0m-29 23h0m155 2h0m-365 22h0m330 5h0m668 1h0m-1740 63h0m333 7h0m688-14h0m2 33h0m-845 47h0m150 0h0m1276-8h0m-327 29h0m-1385 21h0m1734 0h0m-999 24h0m-185 55h0m-218 75h0m21-3h0m399 4h0m1009-7h0m-489 17h0m-346 23h0m799 21h0m-363 29h0m-761 39h0m1083-3h0m-901 23h0" stroke="#241e64" stroke-width="25"/>
<path d="M448 976h0m829-1h0m-580 29h0m20-5h0m726 2h0m-49 17h0m457-3h0m-679 23h0m-864 29h0m-55 18h0m579 5h0m413-3h0m569 3h0m85-3h0m-1349 27h0m773-3h0m726 2h0m-1380 11h0m421-2h0m359 7h0m-853 26h0m413-11h0m-730 26h0m655 10h0m835-1h0m67-11h0m51 6h0m-1636 28h0m449-13h0m1109 12h0m-987 16h0m267 3h0m199 3h0m153-13h0m196 14h0m65-5h0m42-8h0m-753 27h0m178 8h0m58-12h0m36 5h0m608 0h0m-522 15h0m179 14h0m132-8h0m-1153 23h0m130-6h0m67 9h0m709-7h0m-634 25h0m336 6h0m399-9h0m238 10h0m248 1h0m40-12h0m-1668 25h0m291 2h0m-327 18h0m844 46h0m-819 21h0m297 0h0m844-2h0m289 8h0m194 3h0m-1793 20h0m502-7h0m219-2h0m359-2h0m632 2h0m104 12h0m-1521 10h0m590 3h0m172 4h0m-638 36h0m-108 24h0m500 0h0m132-1h0m183 4h0m298-4h0m114 8h0m-1087 21h0m875 0h0m-886 22h0m235-9h0m-141 25h0m31 3h0m-525 17h0m446 6h0m1228 6h0m-1229 22h0m225-10h0m599-1h0m104-1h0m-1333 34h0m868 1h0m-549 20h0m68-10h0m556 1h0m58 2h0m399 5h0m-692 24h0m289-11h0m420 3h0m-1222 30h0m-146 20h0m521-1h0m340 5h0m565-7h0m-718 29h0m-602 22h0m208-7h0m242 0h0m384-1h0m141 4h0m640-9h0m-1155 21h0m268 24h0m446-1h0m112 8h0m42 24h0m-1340 19h0m107-4h0m279 8h0m230-10h0m472 2h0m233 7h0m-1295 20h0m1170-3h0m210 1h0m-1061 26h0m137-2h0m789 5h0m25-8h0m45-3h0m215 6h0m-1744 18h0m918 9h0m382-3h0m-1331 16h0m106-4h0m281 2h0m417-2h0m176 12h0m592-6h0m198 0h0m-1483 16h0m291 11h0m986-3h0m-1525 17h0m327 7h0m729-9h0m-722 34h0m623-9h0m87-5h0m242 1h0m-871 23h0m47 6h0m38-1h0m153-4h0m425-2h0m151 7h0m92-4h0m421-3h0m-1601 27h0m173 6h0m405 1h0m238-7h0m101 2h0m359 4h0m400 0h0m-1241 14h0m987-1h0m-960 33h0m600-7h0m212-4h0m-383 29h0m159-1h0m-1155 48h0m295-12h0m870 11h0m-439 19h0m77 0h0m674 19h0m-1565 20h0m236 7h0m66 2h0m548-13h0m834 13h0m-1003 16h0m343 6h0m143-9h0m78-1h0m426 24h0m-1548 24h0m1463 2h0m208-1h0m-1773 15h0m552 10h0m78 3h0m637-11h0m360-3h0m-1363 29h0m708 3h0m146 12h0" stroke="#d82490" stroke-width="25"/>
<path d="M193 968h0m642 3h0m372 5h0m33 4h0m256 1h0m141-5h0m419 17h0m-1534 47h0m1104 5h0m306-9h0m-167 24h0m-1487 22h0m41 9h0m1325-11h0m78 1h0m-1122 31h0m253 61h0m1177-3h0m-184 26h0m-351 43h0m-691 15h0m296 36h0m745-13h0m-1439 22h0m769 1h0m-319 24h0m-354 48h0m423-7h0m1028 5h0m-1703 26h0m577 3h0m-486 40h0m27 38h0m658 7h0m573-7h0m-1142 73h0m847 15h0m462 2h0m-869 90h0m212-3h0m725 3h0m-222 21h0m328 6h0m-1047 17h0m103-3h0m645 0h0m-1029 73h0m1133-8h0m-791 29h0m25-7h0m250 6h0m-451 39h0m338 6h0m356-10h0m198 34h0m-117 21h0m-1222 11h0m162 12h0m1275-7h0m-1508 29h0m284-10h0m416 42h0m170 3h0m298 4h0m503-3h0m-1584 27h0m469-1h0m873 27h0m-1281 41h0m38-8h0m827 2h0m-167 24h0m881 4h0m-1159 25h0m831-7h0m-1169 30h0m21-13h0m1187 3h0m-1340 28h0m220-5h0m-46 18h0m484 6h0m380 25h0m-23 20h0m258 0h0m-701 26h0m73-9h0m565 6h0m-1261 20h0m-3 17h0m1242 12h0m-372 38h0m110 6h0m-1066 16h0m186 1h0m369 0h0m80 0h0m446 48h0" stroke="#9838bc" stroke-width="25"/>
<path d="M887 974h0m693-5h0m-796 35h0m454-5h0m67-5h0m103 25h0m-962 41h0m481 9h0m-736 20h0m47-1h0m297-9h0m-11 29h0m-258 37h0m175 7h0m517 14h0m-516 27h0m293-2h0m125-1h0m293 34h0m28-8h0m741-4h0m-1067 31h0m228-3h0m-120 18h0m700 53h0m-908 22h0m450-1h0m56-5h0m-740 29h0m61-6h0m109 4h0m857-8h0m226 5h0m-915 17h0m-211 27h0m423-4h0m-491 40h0m22 11h0m822-3h0m285-1h0m-1047 16h0m199 3h0m63 1h0m354 44h0m265 6h0m-452 14h0m464-1h0m265 3h0m-215 29h0m-1174 18h0m368 0h0m159-8h0m-398 46h0m467-2h0m41-1h0m553 9h0m-1283 25h0m322 1h0m132-4h0m1016 3h0m-148 18h0m161 6h0m-1314 21h0m635-13h0m290 4h0m222 3h0m-626 26h0m840-3h0m-915 23h0m218-7h0m409 0h0m267 8h0m-579 13h0m260 11h0m-812 41h0m86-9h0m-410 53h0m1358-6h0m41 4h0m220 4h0m-362 20h0m-977 19h0m567 0h0m-379 16h0m854 0h0m-1349 31h0m161 18h0m-288 24h0m1243-6h0m-725 31h0m565 1h0m329 2h0m194-8h0m-1529 25h0m1742-2h0m-741 18h0m110 1h0m375 25h0m-1399 20h0m1172 23h0m415 2h0m-1761 17h0m187 11h0m181-4h0m-343 18h0m793 7h0m117 2h0m760-11h0m-1439 28h0m462 1h0m250-7h0m330 10h0m210-12h0m-573 28h0m726 0h0m-1495 50h0m60-11h0m129 0h0m-365 28h0m746 0h0m-378 16h0m193 7h0m-468 23h0m499-1h0m761 3h0m316-11h0m-1031 34h0m301-12h0m633 4h0m-1305 22h0m446 7h0m1093-1h0m-1490 17h0m710-5h0m286 8h0m496 14h0m27 12h0" stroke="#6840c4" stroke-width="25"/>
<path d="M1331 1000h0m558-6h0m-1362 28h0m49-8h0m1160 10h0m-1374 14h0m1075 4h0m112-5h0m306 52h0m-384 36h0m-134 26h0m94-1h0m-1119 52h0m1047-14h0m245 4h0m-1284 69h0m600-4h0m-608 27h0m906-2h0m143 6h0m262 88h0m-1392 14h0m175 1h0m1118 29h0m-738 10h0m240 1h0m248 25h0m190 23h0m-693 22h0m1209 8h0m-267 36h0m-143 31h0m-552 13h0m553 71h0m-991 12h0m1267 14h0m-796 17h0m157 16h0m-947 19h0m1468 6h0m-907 26h0m1028 0h0m-510 25h0m-704 23h0m487-9h0m69 8h0m-416 109h0m-206 22h0m814-1h0m-1174 23h0m601-4h0m-335 46h0m509 17h0m848-4h0m-61 34h0m-456 89h0m369 41h0m-1355 24h0m1281 43h0m-744 64h0m-51 25h0m377 43h0m145 1h0" stroke="#1c8034" stroke-width="25"/>
<path d="M1129 1016h0m-13 25h0m-12 26h0m-658 14h0m234 26h0m866 6h0m-1341 82h0m766-5h0m158 42h0m69 72h0m109 23h0m117 20h0m503 43h0m-809 28h0m-472 16h0m-70 31h0m112-8h0m1141-5h0m-1331 26h0m612 9h0m709-9h0m-40 22h0m-394 42h0m-1148 44h0m342 8h0m592 0h0m529-3h0m-110 27h0m-198 19h0m-1186 59h0m621 4h0m871 16h0m219 11h0m57 19h0m-1662 67h0m1169-9h0m45 8h0m14-6h0m-1280 72h0m33 5h0m420-10h0m-92 24h0m342 26h0m111 4h0m-221 61h0m155 25h0m-647 46h0m820 44h0m686 15h0m-49 23h0m-923 93h0m31 57h0m-253 19h0m1212 7h0m-629 15h0" stroke="#0c0c24" stroke-width="25"/>
<path d="M193 968h0m76 0h0m44 13h0m26 0h0m37-8h0m104 7h0m32 1h0m21-9h0m26 0h0m57 2h0m68 2h0m108-4h0m43-1h0m24 7h0m28-4h0m19 7h0m20-11h0m42-1h0m86 10h0m23-6h0m53 8h0m20-11h0m36 10h0m75-12h0m16 7h0m39 0h0m30 1h0m14 0h0m136 5h0m50-3h0m19-10h0m15 1h0m136 4h0m85-4h0m26 9h0m42 0h0m22-7h0m20 2h0m122 7h0m10-2h0m-1849 16h0m11 8h0m31-12h0m42 1h0m27 12h0m132-11h0m17 7h0m41-6h0m24 0h0m108-1h0m114 5h0m20-7h0m46 0h0m91 6h0m10-5h0m32 7h0m44-3h0m15-5h0m25 2h0m18-2h0m91 1h0m42 2h0m41-3h0m89 4h0m70 2h0m44 1h0m24 4h0m27-2h0m23 1h0m14 4h0m18-5h0m76-1h0m23-7h0m41 8h0m22-3h0m45-5h0m188 10h0m33 0h0m47 3h0m12-8h0m44-3h0m-1878 27h0m51-8h0m34 3h0m73 4h0m67 2h0m38-4h0m30-3h0m154 2h0m11 10h0m53-14h0m14 7h0m21 7h0m90-13h0m75 2h0m41 5h0m147-1h0m88 7h0m62-2h0m54-7h0m17 4h0m40-5h0m70 3h0m29 1h0m10 4h0m67-6h0m68-1h0m44 2h0m33 2h0m21-8h0m20 12h0m68-8h0m16 0h0m21 0h0m26 0h0m43-3h0m170-1h0m-1807 26h0m21 3h0m16 2h0m24-2h0m19-1h0m32 6h0m55-5h0m34 3h0m34 0h0m25-6h0m25 1h0m146-6h0m52 0h0m12 7h0m48-4h0m21 3h0m27 2h0m111-2h0m18 8h0m20-1h0m19-3h0m32-6h0m13 5h0m35-7h0m96 2h0m58 3h0m32-6h0m33 7h0m19 3h0m44-10h0m112 12h0m111-9h0m45 7h0m43-3h0m22-5h0m44 2h0m44 0h0m13 3h0m25 3h0m16-9h0m28 10h0m15-4h0m29 2h0m27-8h0m32 3h0m57 3h0m10 4h0m-1813 18h0m69-3h0m21 6h0m53-5h0m59 1h0m26-3h0m17 6h0m24-2h0m64-1h0m50 0h0m15 1h0m19-7h0m30 8h0m87 5h0m15-3h0m33 0h0m42 2h0m36 0h0m75 1h0m37-10h0m43 10h0m20-4h0m30-3h0m68-7h0m14 9h0m31 3h0m32 0h0m21-6h0m34-1h0m24-4h0m74 1h0m24 9h0m33 1h0m12-12h0m31 2h0m110 6h0m16-8h0m51 3h0m10 9h0m44 1h0m136-10h0m48-1h0m49 5h0m66-7h0m18 8h0m-1816 17h0m25 7h0m40-6h0m41 9h0m161-5h0m34-2h0m21-5h0m27 7h0m42 5h0m19 0h0m78-5h0m11 1h0m53-8h0m128 9h0m39-4h0m25 2h0m30-7h0m12 13h0m107-11h0m31 0h0m14-2h0m46 3h0m22-1h0m68-3h0m18 8h0m25 4h0m106-5h0m34-2h0m15 0h0m53 9h0m64-10h0m15 8h0m48-8h0m23-3h0m23 8h0m11-6h0m48 8h0m117-7h0m12 5h0m100-3h0m13 2h0m-1832 26h0m22-6h0m16 4h0m164-4h0m42-6h0m126 14h0m30 0h0m193-13h0m21 12h0m22-12h0m130 0h0m30 2h0m45 1h0m15 9h0m60-12h0m56 7h0m43 4h0m37-12h0m26 1h0m39 10h0m50-5h0m20 3h0m39 4h0m31-10h0m64 7h0m23-1h0m43 2h0m15-11h0m50 5h0m105 3h0m29 4h0m25 2h0m35-3h0m50-4h0m21-6h0m46 3h0m18-3h0m49 6h0m23-4h0m16 10h0m-1858 19h0m87-10h0m16 3h0m52 11h0m26-7h0m9 5h0m98-3h0m17 4h0m19-10h0m111 0h0m18 2h0m48-3h0m53 1h0m18 1h0m37 10h0m54-12h0m23 6h0m58 0h0m22 4h0m52-1h0m35-6h0m46-5h0m93 5h0m19 4h0m40-3h0m28-4h0m22 2h0m83 4h0m44-5h0m71 11h0m60-1h0m47-10h0m28 8h0m21-2h0m89 4h0m11 1h0m73-4h0m16-4h0m112 4h0m28 2h0m22-7h0m45 8h0m-1823 21h0m47-11h0m23 4h0m20 6h0m41-7h0m23 3h0m40-6h0m28 7h0m22 1h0m16-5h0m24 5h0m34-1h0m59 3h0m26-6h0m14 9h0m91-10h0m52-2h0m10 10h0m32-7h0m17-3h0m19 1h0m27 9h0m20-12h0m70 8h0m103-7h0m87 6h0m33-3h0m35 3h0m20 4h0m25-5h0m88 5h0m27 1h0m20-4h0m47-6h0m17-1h0m39-1h0m77 6h0m20 0h0m25-4h0m17-1h0m20 2h0m117 1h0m32 0h0m22-4h0m31 9h0m33 3h0m53-3h0m22 5h0m44-6h0m-1843 14h0m33 8h0m8-6h0m31-1h0m22 3h0m36 2h0m27-1h0m110-3h0m65 7h0m162-3h0m98 7h0m116-6h0m65-7h0m90 1h0m68 13h0m56-1h0m33 0h0m86-13h0m27 2h0m43 12h0m22-1h0m43-2h0m46-3h0m32 6h0m31-4h0m15-6h0m26 5h0m26-9h0m19 14h0m23-6h0m63 6h0m18 0h0m44-1h0m25-7h0m19-2h0m50-1h0m84 5h0m31-3h0m9 1h0m25 3h0m41-2h0m-1825 18h0m23 11h0m14-10h0m60 0h0m45 5h0m30-9h0m59 13h0m56-1h0m35-2h0m45 3h0m17 0h0m75-11h0m13-1h0m35 2h0m42 7h0m41-5h0m108 8h0m18-2h0m50-1h0m48-7h0m33 1h0m46 0h0m30 2h0m35-6h0m94 5h0m15-5h0m22 4h0m20 9h0m95 1h0m29-4h0m57-7h0m31-2h0m13 3h0m183 4h0m11 6h0m29-3h0m24 2h0m18-11h0m19 6h0m73 5h0m82-6h0m30 3h0m23 1h0m-1865 25h0m15-7h0m69 0h0m112 7h0m30-6h0m35 0h0m48 6h0m19-9h0m43 5h0m18-7h0m25 0h0m43 8h0m71 3h0m41-6h0m64-1h0m21 1h0m74-2h0m47-6h0m14 10h0m26-5h0m18 0h0m26 4h0m94-7h0m39 4h0m14 7h0m50-1h0m43 1h0m21-4h0m89 5h0m24-4h0m19-10h0m66 5h0m21 2h0m45 2h0m42-8h0m22 13h0m51-13h0m39 9h0m46-5h0m47 1h0m41-2h0m40 10h0m21-12h0m22 2h0m-1728 26h0m119 5h0m109-13h0m45 5h0m41-3h0m19 8h0m28-7h0m25 1h0m23 0h0m44-2h0m21 0h0m10 5h0m78 5h0m39-1h0m17-6h0m21 6h0m21-5h0m48-1h0m43 4h0m24-3h0m42 3h0m50-1h0m59-7h0m27 13h0m27-1h0m14-1h0m17-10h0m36 5h0m35 3h0m29-3h0m39 1h0m22 4h0m23-12h0m28 3h0m33-3h0m68 13h0m52-13h0m122 7h0m21 3h0m100-9h0m9 4h0m27 2h0m28 4h0m22 0h0m18-9h0m83 4h0m-1806 28h0m12-5h0m26-3h0m135 7h0m17-1h0m158-1h0m36 5h0m25-9h0m41 9h0m57-1h0m35-13h0m90 13h0m40-8h0m110 1h0m26-5h0m22 3h0m25-2h0m35 4h0m95 0h0m46 3h0m14-5h0m121 3h0m45 3h0m9 3h0m76 0h0m16 1h0m21-5h0m49-1h0m18-8h0m24 11h0m52-1h0m16-5h0m39 3h0m47-7h0m40 9h0m31-4h0m22-4h0m55 2h0m36 10h0m15-8h0m-1793 24h0m28-4h0m13 6h0m48 3h0m39-2h0m72-2h0m25 2h0m43-7h0m56 0h0m34 0h0m43-2h0m57 12h0m93-7h0m91-7h0m47 1h0m103 10h0m93-7h0m15 10h0m30-14h0m54 7h0m93 0h0m136-4h0m38 3h0m42-4h0m64-1h0m30 10h0m20-8h0m49 0h0m34 11h0m34-8h0m15 7h0m83-7h0m45-4h0m23 7h0m19 1h0m36 1h0m22-9h0m56-2h0m31 9h0m-1871 16h0m53 4h0m20-5h0m66-2h0m19 0h0m40 14h0m25-13h0m18-1h0m79 10h0m11 0h0m75 4h0m36-2h0m90-5h0m44-1h0m20 0h0m69 5h0m84-6h0m23 1h0m50-6h0m38 11h0m21-4h0m75 3h0m36-8h0m52 8h0m13-5h0m26 3h0m47-2h0m86 8h0m37-11h0m117-3h0m15 8h0m22 4h0m25 1h0m23 1h0m25-1h0m22-13h0m88 8h0m21 4h0m16-11h0m25-1h0m31 9h0m143-3h0m31-4h0m25 1h0m-1869 28h0m21 2h0m29-2h0m38-4h0m26 9h0m28 0h0m9-9h0m25 0h0m31 2h0m14 3h0m26 4h0m71 0h0m14-6h0m75 4h0m35-8h0m41 2h0m20 1h0m56 6h0m20 0h0m36-4h0m95-7h0m26 7h0m18-2h0m23 7h0m20-8h0m111 4h0m17-4h0m68 7h0m72-6h0m15 6h0m44-11h0m108 8h0m19-6h0m47-4h0m21 12h0m51-4h0m25-6h0m12 5h0m70 4h0m21-5h0m27 1h0m136-1h0m13 1h0m155-2h0m-1796 27h0m86-7h0m91 5h0m30 6h0m10-13h0m50 5h0m63 1h0m23 1h0m93-5h0m16 9h0m33-9h0m10 5h0m33 2h0m15 4h0m47-6h0m41-4h0m74 6h0m11-8h0m45 2h0m26-2h0m48 9h0m17-7h0m25-4h0m34 3h0m49 7h0m63-8h0m143 0h0m62 5h0m38-6h0m136 13h0m18-14h0m23 1h0m26 5h0m19 7h0m31-12h0m36-1h0m214 2h0m-1634 28h0m110-3h0m18 3h0m49-1h0m70 6h0m12-6h0m36 7h0m11-12h0m26 3h0m68 8h0m27-8h0m21-2h0m9-2h0m28 3h0m95-3h0m39 13h0m41 0h0m65 0h0m21-13h0m33 4h0m12 1h0m137 1h0m58-3h0m22 4h0m29-4h0m25 8h0m15-11h0m88 12h0m64-2h0m78 3h0m59-14h0m110 6h0m83 7h0m20-7h0m-1746 26h0m43 0h0m33 4h0m143-8h0m29-3h0m20 11h0m21-8h0m21-2h0m53 9h0m18-4h0m24-8h0m36 8h0m130-3h0m49 7h0m24-13h0m20 7h0m20-6h0m180 4h0m62-3h0m31 9h0m16-6h0m72-4h0m19 7h0m46-3h0m22 4h0m87 2h0m87-11h0m87 4h0m23 4h0m59-6h0m20 1h0m23 2h0m51 6h0m124 1h0m-1721 15h0m66 8h0m21-12h0m46 7h0m23 4h0m26-8h0m18-2h0m44 5h0m24 7h0m102-3h0m25-3h0m114 5h0m20-8h0m27 2h0m81-5h0m25 0h0m17 4h0m23 2h0m30-1h0m42 6h0m35-8h0m95-5h0m21 3h0m49 10h0m39 1h0m24 0h0m38-5h0m23 0h0m45-8h0m21 5h0m159-4h0m40-1h0m15 10h0m100-7h0m37 7h0m53 3h0m12-11h0m32 7h0m20 3h0m20-2h0m42-5h0m17-2h0m152 8h0m-1831 15h0m45 5h0m36-2h0m31-6h0m18 7h0m47-4h0m38-3h0m44 6h0m46-4h0m114 7h0m64-7h0m107-2h0m20-1h0m35 6h0m38 7h0m19-12h0m40 3h0m24 1h0m23 2h0m42 6h0m95-8h0m36 4h0m33 2h0m85 2h0m43-10h0m58 10h0m32-5h0m154 4h0m17-4h0m24-5h0m70-1h0m20 5h0m49-8h0m125 0h0m21 2h0m26 2h0m78 10h0m27-11h0m17-3h0m-1870 25h0m24 8h0m9-7h0m72 2h0m138-4h0m22 4h0m16 3h0m24-7h0m36 6h0m36 2h0m52-4h0m34 1h0m17-5h0m46 4h0m62-5h0m20-1h0m71 5h0m63 1h0m23 7h0m61-8h0m22 0h0m47 0h0m67 0h0m23-4h0m67 0h0m15 8h0m45 4h0m50 1h0m112-10h0m60 1h0m138 5h0m20-10h0m16 4h0m24-4h0m21 14h0m22-1h0m48-1h0m38-9h0m27 5h0m21 5h0m108-3h0m31-10h0m-1847 35h0m45-5h0m55-5h0m39 5h0m46-5h0m65 7h0m20-5h0m62 6h0m95-9h0m114 5h0m13 3h0m23-2h0m21 1h0m44 5h0m68-1h0m49-4h0m45-1h0m84 1h0m63-3h0m41 0h0m51-2h0m21 2h0m21 3h0m42-9h0m19 11h0m93-8h0m14 10h0m56-11h0m128-1h0m15 3h0m33 8h0m17 1h0m85-4h0m70-4h0m194-5h0m30 11h0m-1794 13h0m22 4h0m38 6h0m19-1h0m47 1h0m61-1h0m95-7h0m18-4h0m26 0h0m15 1h0m71 6h0m29 2h0m17 0h0m26-8h0m56 6h0m33 5h0m89-5h0m89-7h0m11 10h0m20-8h0m22 6h0m56-3h0m32 6h0m25-3h0m52 3h0m20-9h0m19 4h0m15 2h0m47-3h0m108 9h0m46-1h0m30-12h0m81 10h0m25-1h0m23 0h0m23-1h0m57 2h0m98-4h0m21 3h0m19 4h0m154-1h0m-1770 18h0m63-9h0m68 2h0m24 10h0m40-3h0m27-6h0m26 0h0m53 8h0m74-11h0m44 2h0m43 6h0m50 2h0m66 4h0m14-5h0m47 0h0m92-6h0m38 0h0m50-3h0m61 2h0m29 6h0m14 1h0m85 1h0m55-4h0m108 5h0m88 1h0m17-11h0m39 9h0m46-8h0m69 5h0m21 2h0m61 3h0m53-6h0m38 3h0m128 5h0m-1781 20h0m23-10h0m119 1h0m36 6h0m62 4h0m60-13h0m85 13h0m53-4h0m62 0h0m29-2h0m60-5h0m26 3h0m15-1h0m71-2h0m23 8h0m114-2h0m11 2h0m51 2h0m37-12h0m27 7h0m14 7h0m55-3h0m36-5h0m68 8h0m129-11h0m23 0h0m24 6h0m17 4h0m70 0h0m29-7h0m43 6h0m105-7h0m116-1h0m14 6h0m20-5h0m26 4h0m48-9h0m14 3h0m31-1h0m-1855 22h0m44 8h0m88-1h0m32-6h0m22 2h0m49 4h0m66 4h0m51-8h0m43 1h0m14-1h0m27 4h0m17 5h0m67-12h0m28 5h0m16-4h0m20 9h0m19-3h0m29 5h0m39-14h0m31 11h0m79 1h0m31-12h0m10 4h0m98-1h0m56 4h0m33 1h0m20-1h0m25 6h0m14-3h0m22 2h0m97-3h0m35 3h0m53-1h0m65-3h0m57 4h0m74-1h0m62-3h0m17-1h0m116 1h0m90 3h0m25-8h0m10 11h0m24-5h0m-1804 20h0m147-3h0m23 7h0m15-8h0m52 3h0m24-5h0m156 1h0m65 1h0m37 0h0m31 3h0m19 5h0m106-7h0m198 0h0m16 4h0m47 2h0m135-7h0m49 11h0m22-6h0m84 5h0m20-12h0m16 6h0m117 2h0m48-3h0m11-6h0m78 11h0m34-9h0m91-1h0m45 5h0m63-3h0m-1767 27h0m24-1h0m91-4h0m21 9h0m15-5h0m67 3h0m25-3h0m47-2h0m56-4h0m25 2h0m67 4h0m51 0h0m41-7h0m15 2h0m43-1h0m23 2h0m33 5h0m33 0h0m52 6h0m22-3h0m37 2h0m91-13h0m50 12h0m86-8h0m25 7h0m43-6h0m34 3h0m25 4h0m22-6h0m30 7h0m18-2h0m18-11h0m45 6h0m23 7h0m25-1h0m66-10h0m43 7h0m13-6h0m35-1h0m9 8h0m70-2h0m116 3h0m42 2h0m59-1h0m57-7h0m-1843 29h0m46-4h0m39 3h0m51-1h0m23 2h0m22-11h0m13 6h0m29-7h0m34 2h0m22 5h0m73-1h0m18-4h0m26 7h0m102 4h0m115-4h0m21 4h0m62-5h0m27-5h0m17 10h0m95 1h0m27-11h0m14 4h0m23 2h0m68 2h0m41-9h0m49-2h0m44 8h0m18-1h0m31-4h0m15 2h0m71-3h0m10 4h0m27-3h0m49-1h0m23 4h0m35 1h0m46-6h0m26 11h0m23-5h0m21-3h0m14-1h0m96 7h0m23 2h0m25 0h0m123-1h0m72-4h0m16-5h0m-1862 22h0m34-1h0m56 12h0m26-13h0m23 10h0m26 0h0m25-6h0m18 6h0m109-3h0m46-4h0m17 10h0m16-12h0m71-1h0m27 5h0m26 1h0m15 5h0m24-3h0m14-2h0m32-1h0m21-3h0m112-1h0m17 8h0m66-9h0m88 7h0m18-3h0m45 0h0m25 6h0m44-2h0m17-6h0m20 6h0m73 1h0m114-7h0m46 7h0m32 0h0m31 2h0m89-1h0m38-2h0m43-3h0m43 8h0m25 1h0m40-7h0m44-7h0m21 11h0m31-9h0m24 0h0m33 10h0m35-2h0m-1837 13h0m19 6h0m19-4h0m48 11h0m18 0h0m19-10h0m175 7h0m49-2h0m59 3h0m42-3h0m70-3h0m27-2h0m86 8h0m27-6h0m46-5h0m12 10h0m29-7h0m16 8h0m53-1h0m103-4h0m15 6h0m25-13h0m96 9h0m17-1h0m18-3h0m66-4h0m108 10h0m50-2h0m19-7h0m48 9h0m16-11h0m74 7h0m18 3h0m29-3h0m60-4h0m110 5h0m49 6h0m20-2h0m57 0h0m23-4h0m-1833 25h0m63-2h0m70-1h0m30 2h0m39-10h0m25 14h0m129-14h0m89 6h0m56 2h0m95 6h0m26-4h0m37 2h0m47-5h0m49 0h0m16-7h0m38 4h0m72 4h0m51 4h0m42-12h0m15 4h0m29 9h0m34-10h0m56 0h0m53 3h0m32 6h0m37-7h0m33-2h0m20 9h0m24-10h0m22 1h0m14 1h0m22 7h0m20-11h0m69 4h0m61 4h0m110 3h0m56-3h0m35 3h0m96-5h0m15-3h0m29 8h0m15-11h0m-1876 30h0m12 3h0m48-6h0m113 2h0m50 5h0m12-4h0m50 4h0m19-11h0m39 8h0m42 4h0m35-13h0m66 0h0m11 6h0m21-4h0m25 2h0m96 1h0m65-1h0m103 10h0m24-13h0m17 12h0m44-4h0m49-9h0m24 14h0m24-12h0m16 8h0m50 3h0m78-8h0m121-2h0m17 0h0m127-1h0m57-2h0m81 11h0m22 3h0m21-12h0m40 4h0m138-2h0m22 2h0m49-2h0m36 8h0m-1862 10h0m28 7h0m14 1h0m183 2h0m16-5h0m66 8h0m50-7h0m44 6h0m94-12h0m19 1h0m41 2h0m29 6h0m37 1h0m37-1h0m78 4h0m24-4h0m42-1h0m78-7h0m73 13h0m69-1h0m45-8h0m36-4h0m51 9h0m36-3h0m62-4h0m24 1h0m68 8h0m64 1h0m25-12h0m130 6h0m25-4h0m127 2h0m22 6h0m34-10h0m62 1h0m26-1h0m-1860 28h0m40-1h0m25-5h0m125 7h0m49-2h0m16 5h0m28-11h0m22 8h0m68 5h0m56-2h0m72-8h0m43 6h0m40-1h0m26-2h0m45 8h0m23-3h0m17-4h0m28 0h0m46 6h0m45-5h0m12 0h0m20 6h0m132-2h0m51-3h0m46 5h0m15-10h0m52 0h0m23 10h0m16-11h0m51 11h0m22-9h0m34 4h0m22-1h0m66 2h0m67-6h0m53 4h0m283-6h0m27-1h0m44 0h0m21 7h0m-1825 16h0m131 11h0m49-7h0m18 8h0m23-14h0m185 7h0m14 3h0m25-9h0m42 8h0m21 2h0m65-11h0m75 7h0m14 2h0m43-6h0m69 3h0m107-1h0m40 0h0m46 7h0m33-3h0m13-3h0m19 0h0m101-4h0m10-2h0m99 3h0m85 4h0m46-3h0m14 1h0m52 7h0m13-11h0m30 2h0m11 2h0m24 2h0m28 7h0m24-6h0m21-8h0m63 10h0m30-9h0m65 2h0m12 7h0m32 0h0m32-7h0m-1847 32h0m188-6h0m33-4h0m22 0h0m36 7h0m51 0h0m17-5h0m59-4h0m56 7h0m82-7h0m51 4h0m102-3h0m24 5h0m27-5h0m23 8h0m59 4h0m68 0h0m49-8h0m15-2h0m42 2h0m26 3h0m49-4h0m10 5h0m27-6h0m51 6h0m35-1h0m52 4h0m101-11h0m23 0h0m23 8h0m51-2h0m81 4h0m41-5h0m71-5h0m48 9h0m-1661 11h0m18 4h0m43 5h0m27-5h0m12-2h0m54 7h0m22-4h0m63-1h0m149-2h0m32-2h0m8 6h0m55-3h0m11-1h0m26 0h0m20 2h0m45-1h0m30 7h0m23-2h0m22 4h0m23 2h0m14 0h0m40-1h0m71 1h0m70-4h0m15-10h0m107 6h0m25-2h0m33 8h0m9-2h0m29-6h0m39 0h0m32 10h0m22-2h0m13-9h0m47-2h0m94 8h0m20-8h0m40 5h0m16 7h0m24-8h0m48 9h0m21-11h0m95 4h0m18-6h0m43 0h0m21 6h0m41 5h0m43-1h0m28 3h0m25-13h0m-1868 32h0m33 2h0m11-9h0m28 8h0m69-10h0m39-2h0m15 2h0m79 11h0m32-4h0m66-9h0m74 10h0m48-6h0m15-1h0m16-3h0m54 2h0m38 9h0m98-4h0m37 0h0m28 5h0m41 1h0m40-8h0m27 8h0m35-1h0m31-6h0m104-4h0m24 3h0m44-5h0m40 8h0m55-1h0m11 1h0m108-4h0m34-4h0m63 5h0m16 4h0m21 3h0m29 2h0m80-14h0m70 9h0m23-7h0m66 6h0m16-5h0m51-3h0m-1822 29h0m162 5h0m27-10h0m9-1h0m34 7h0m32-8h0m30 14h0m14-11h0m31 1h0m14 8h0m47-10h0m89 4h0m105 0h0m24 6h0m50-12h0m133 12h0m47-10h0m23 2h0m37 0h0m25-4h0m20 14h0m40-11h0m30 11h0m33-8h0m46 2h0m54-1h0m22 5h0m37-1h0m105-7h0m26-4h0m47 2h0m70 2h0m24 6h0m66 1h0m17 0h0m16-1h0m26-4h0m71-2h0m79 5h0m23-9h0m95 1h0m-1794 24h0m18 6h0m23 1h0m21-10h0m25 0h0m61 2h0m50-1h0m26 11h0m8-12h0m47 12h0m19 0h0m29-9h0m73-1h0m63 5h0m44-3h0m62-3h0m46 11h0m47-11h0m20 0h0m62-1h0m70 13h0m13 1h0m78-8h0m62 0h0m17-2h0m52 7h0m101 1h0m26-9h0m19 9h0m43-5h0m117-1h0m18 2h0m175 6h0m17-7h0m30-7h0m42 11h0m23 3h0m26-5h0m16 5h0m42-7h0m-1698 25h0m25-7h0m38 6h0m23-6h0m22 8h0m23-11h0m19 6h0m21-1h0m30 6h0m89-5h0m18 0h0m19-4h0m131 9h0m63-2h0m22-4h0m24 6h0m28-2h0m23-2h0m20-4h0m41-3h0m15 5h0m48 7h0m84-5h0m72 2h0m40 2h0m73-10h0m23 8h0m86-6h0m14 5h0m26-8h0m45 9h0m40-2h0m72 5h0m27 2h0m65-8h0m21 5h0m43-3h0m18-3h0m20 6h0m47 3h0m41-5h0m70 0h0m16-6h0m-1721 20h0m51 1h0m44-1h0m38 13h0m37-7h0m46-7h0m142 13h0m43-7h0m35-2h0m23 2h0m51 6h0m23-2h0m19 1h0m37-11h0m54 10h0m43 2h0m46-2h0m12 4h0m108-9h0m27 9h0m82-12h0m78 6h0m16-3h0m25 9h0m108-3h0m51-11h0m22 11h0m62 3h0m13-3h0m73-8h0m15 6h0m32-7h0m45 2h0m13 5h0m21-1h0m112-6h0m73 7h0m15-1h0m25-3h0m17 8h0m-1805 16h0m103 3h0m71-1h0m23 4h0m124-13h0m67 0h0m87 2h0m65 10h0m134-9h0m30 7h0m85-4h0m41 7h0m62-10h0m33 0h0m13 10h0m24-2h0m50-7h0m43 0h0m56 7h0m34-4h0m75-6h0m67 12h0m53-3h0m67-1h0m55-2h0m51 5h0m51-12h0m164 7h0m27 2h0m-1799 20h0m32 2h0m61-6h0m22 8h0m38-2h0m24 5h0m32-5h0m34-8h0m33 5h0m38 7h0m64-3h0m20-5h0m29-2h0m82 5h0m53 2h0m18 2h0m42-4h0m28-4h0m54 1h0m43-1h0m55 8h0m14-11h0m19 1h0m51 8h0m39-2h0m42 6h0m101-5h0m44 1h0m58-1h0m46-6h0m95 0h0m43 0h0m63 4h0m18 3h0m21 3h0m31-9h0m21-3h0m58 8h0m39-1h0m35 5h0m10-8h0m23-2h0m24-2h0m88 0h0m-1774 22h0m77 2h0m66 9h0m44 1h0m98-10h0m22 4h0m50 4h0m40 1h0m45-6h0m41-5h0m52-1h0m16 10h0m76 3h0m22-13h0m13 3h0m25 5h0m16-3h0m66 9h0m66 0h0m31-1h0m14-5h0m23 2h0m26-1h0m93-6h0m64-1h0m22-2h0m24 3h0m34 2h0m26 3h0m31 0h0m17-7h0m20 9h0m22-7h0m27 6h0m78 1h0m23 0h0m26-2h0m18-5h0m90 4h0m21-5h0m29 5h0m86 2h0m35 0h0m28-4h0m27 5h0m34-9h0m27 5h0m-1797 19h0m25 7h0m111 2h0m43-11h0m51 4h0m76 2h0m144-2h0m145 2h0m28-4h0m35 11h0m111-14h0m184 5h0m46-4h0m23 8h0m18-9h0m37 2h0m32 2h0m78-1h0m79 5h0m41-4h0m13 8h0m109 2h0m47-13h0m95 13h0m34-2h0m49 2h0m-1687 19h0m23 2h0m22-11h0m72 11h0m62-2h0m23-1h0m27-10h0m45 4h0m21 7h0m11-6h0m138-3h0m23 7h0m24-1h0m60 6h0m31-10h0m147 7h0m23 3h0m184-3h0m11-5h0m90 1h0m30-3h0m11 2h0m29-5h0m17 4h0m53 2h0m81 1h0m73 0h0m19-4h0m21-2h0m102 10h0m26-8h0m43 4h0m53-2h0m15 7h0m44-8h0m19-1h0m24 0h0m25 5h0m21 2h0m37-5h0m31 0h0m46 8h0m-1842 18h0m49-1h0m67-1h0m106-1h0m45-3h0m21 9h0m27-7h0m13 6h0m54-5h0m22 2h0m131-6h0m9 8h0m52-1h0m46-10h0m37 2h0m54 11h0m63-3h0m89-4h0m15-6h0m32 5h0m39 1h0m25-6h0m18 14h0m58-6h0m35 1h0m40-9h0m70 5h0m123-2h0m54 1h0m18 4h0m127 5h0m84-8h0m51 3h0m68 1h0m24 1h0m12-1h0m27 2h0m26 1h0m-1858 18h0m78 1h0m26-7h0m23 5h0m59-1h0m49-1h0m21 0h0m44 8h0m150 0h0m55-5h0m24 0h0m22-2h0m13 3h0m19-2h0m34-3h0m88 5h0m127 1h0m92 4h0m10-3h0m66-5h0m92 7h0m22-9h0m30-1h0m19 11h0m17-1h0m28-1h0m14-12h0m23 9h0m72 2h0m18 2h0m75-13h0m11 7h0m24-3h0m48 6h0m26 2h0m132-7h0m33 3h0m-1612 23h0m22-5h0m153 3h0m49 7h0m106-5h0m27 2h0m68-10h0m62 5h0m65-3h0m41 1h0m18-4h0m33 5h0m11-3h0m47 7h0m97-8h0m38 4h0m68-2h0m42 4h0m66 1h0m42 5h0m16-13h0m58 13h0m153-2h0m15-10h0m49 3h0m57 7h0m29-7h0m15 6h0m86-5h0m45 3h0m185-7h0m-1795 30h0m44 4h0m69-6h0m11 3h0m30 1h0m22-4h0m37 2h0m65-8h0m54 11h0m12-7h0m48 1h0m20 5h0m86-6h0m22-2h0m51 7h0m19-6h0m45 0h0m24-4h0m49 2h0m104 10h0m28-9h0m14 6h0m30 3h0m100 2h0m26-6h0m23 2h0m27-2h0m54 6h0m23-5h0m55 0h0m42-8h0m48 6h0m39-1h0m102-2h0m74 3h0m61-5h0m86 9h0m45-8h0m54 0h0m18 2h0m13-4h0m27 8h0m-1861 26h0m25-4h0m49-7h0m59 3h0m23 2h0m28-5h0m24 0h0m15 6h0m87 1h0m48-8h0m178 0h0m66 2h0m16-1h0m42 5h0m112 3h0m111-4h0m51-6h0m106 9h0m47-3h0m40-3h0m41 10h0m53-2h0m52-2h0m45-4h0m34 8h0m20-7h0m57-2h0m32 0h0m24 3h0m14-5h0m40 2h0m55-2h0m11 0h0m25-2h0m115 12h0m21-9h0m27 7h0m16 3h0m-1800 23h0m45-1h0m28-10h0m15 10h0m29-11h0m19 1h0m31-3h0m32 5h0m53 9h0m35-7h0m55-1h0m16 6h0m113-9h0m26-3h0m21 10h0m144-8h0m65 1h0m24-2h0m31 7h0m18-3h0m201 2h0m24 7h0m15-11h0m20 6h0m23-9h0m130 10h0m140-5h0m42-2h0m43 9h0m26-3h0m19 5h0m44-11h0m44 11h0m23-1h0m22 1h0m19-14h0m156 2h0m37 6h0m30 5h0m-1860 21h0m35-11h0m27 10h0m41-6h0m132 2h0m30-6h0m15-1h0m30 14h0m41-4h0m64 0h0m47 4h0m21-8h0m25-2h0m12 0h0m138 3h0m21 2h0m38 1h0m51 3h0m48-4h0m18 2h0m23-10h0m24 11h0m12-3h0m33 2h0m20-1h0m18-3h0m26-5h0m17 3h0m51 2h0m20-1h0m34-6h0m80 8h0m17-2h0m39 4h0m65-6h0m28 1h0m15-4h0m25-1h0m49 7h0m20 1h0m27 2h0m17-9h0m37 4h0m29-2h0m72 10h0m38-5h0m85 4h0m53 0h0m12-11h0m50 10h0m-1857 16h0m43 2h0m127 6h0m290-6h0m40-5h0m21 7h0m41-6h0m22 8h0m27-7h0m22-2h0m95-1h0m8 11h0m57-1h0m16-8h0m47 9h0m16-3h0m32 2h0m12-7h0m26 3h0m28 5h0m107-1h0m41 3h0m20-10h0m27 9h0m20-1h0m21-1h0m21-5h0m39 2h0m21-3h0m35 2h0m41-1h0m55-1h0m30 5h0m14-10h0m54 6h0m59 7h0m75-9h0m13 0h0m77 2h0m10-6h0m72 4h0m28 0h0m-1861 22h0m19-4h0m16 8h0m48 3h0m41-4h0m41 2h0m44-2h0m27 4h0m115-8h0m23 3h0m22 7h0m42-1h0m38-3h0m26 0h0m25 0h0m12 0h0m72-7h0m105 7h0m89 1h0m29 1h0m16-11h0m93 11h0m18 3h0m67-2h0m23-5h0m44 2h0m85 5h0m93-9h0m38 0h0m164-2h0m13 7h0m32 4h0m14-9h0m126 7h0m24 1h0m45-4h0m22 4h0m96 1h0m14-10h0m-1813 28h0m18-3h0m35-2h0m20-3h0m152 10h0m40-8h0m17 0h0m87-3h0m31 0h0m40 1h0m26 1h0m82 6h0m113 0h0m88 3h0m20-1h0m85-8h0m96 11h0m26-1h0m37-1h0m27-8h0m79 0h0m30-2h0m48 1h0m80 2h0m38 9h0m29-1h0m15-3h0m26-1h0m26-4h0m26 3h0m101-8h0m99 14h0m14-13h0m26 11h0m18-4h0m18 5h0m25 0h0m28-12h0m67 7h0m-1882 25h0m60-10h0m50 12h0m19-3h0m60-1h0m24-3h0m72-6h0m17 12h0m40-9h0m21 3h0m48-3h0m23 2h0m66 1h0m19-2h0m51 1h0m36 2h0m22 2h0m21-2h0m31-3h0m48-3h0m44 3h0m42-2h0m25 10h0m17-11h0m35 3h0m25 0h0m53 4h0m13-3h0m52 1h0m65 2h0m80 4h0m31-4h0m43 5h0m20-6h0m25-5h0m20 8h0m25 3h0m81-6h0m69-4h0m15-2h0m46 12h0m74 0h0m13-13h0m42 8h0m22-7h0m70 8h0m27-3h0m48-6h0m-1848 25h0m33 6h0m15-1h0m19-3h0m19 1h0m36 1h0m18-2h0m17 2h0m149-5h0m166 2h0m105-4h0m22 3h0m28 6h0m12-5h0m91 7h0m21 3h0m39 0h0m54-3h0m26-1h0m22 0h0m13-2h0m24-8h0m26 8h0m102-7h0m68 3h0m45 4h0m84 1h0m23-1h0m31-5h0m24 8h0m119-11h0m52 13h0m82-4h0m21-4h0m75-2h0m39 0h0m24-1h0m18-2h0m31 8h0m10 0h0m27 4h0m25 1h0m14-1h0m-1849 11h0m14 7h0m77-1h0m15-4h0m66 6h0m28 0h0m61-3h0m20-1h0m64 0h0m75 2h0m11-4h0m42-3h0m45 11h0m112 3h0m97-2h0m18 0h0m43-7h0m60 9h0m74-9h0m23 1h0m24-6h0m10 9h0m34-7h0m17 12h0m39-1h0m75-13h0m67 10h0m21-8h0m11 4h0m24-3h0m52-1h0m21 3h0m13 0h0m25 6h0m30-4h0m13-2h0m26-2h0m20 4h0m31-5h0m76 1h0m33 7h0m68-9h0m145 10h0m31-4h0m-1795 22h0m24-2h0m16-2h0m19-1h0m18 4h0m21 1h0m50-3h0m17 0h0m34 2h0m42 7h0m22-3h0m11-4h0m29 3h0m21 1h0m28-6h0m20 5h0m79-5h0m75-1h0m44 9h0m35-5h0m31 4h0m111-11h0m68 9h0m31 5h0m22-6h0m48 2h0m21-7h0m21 3h0m26-5h0m22 3h0m29 1h0m19 6h0m22-9h0m64 9h0m48-2h0m24 4h0m14-8h0m44 4h0m20-4h0m27 5h0m83-2h0m20-3h0m51-5h0m19 13h0m46-13h0m22 6h0m14 1h0m161 7h0m-1819 22h0m31-13h0m46 11h0m11-7h0m112 4h0m30-4h0m19 5h0m48 1h0m21-7h0m86 4h0m22 6h0m21 0h0m44-6h0m37 5h0m52-4h0m41 3h0m17-10h0m71 10h0m50 0h0m10-3h0m26-7h0m69 12h0m39-8h0m87-3h0m114-2h0m21 12h0m23-13h0m222 6h0m20 5h0m47-2h0m56-9h0m23 12h0m92-9h0m30 5h0m21 0h0m63-3h0m93-2h0m37-2h0" stroke="#fff" stroke-opacity="0.22" stroke-width="9"/>
<path d="M276 1458h0m1112 464h0m-569-4h0m-195-276h0m577 288h0m-468 342h0m-347 32h0m1516-815h0m-177-188h0m288 901h0m-996-1126h0m79 915h0m266-603h0m13-220h0m-779 27h0m1092 1014h0m-131-82h0m-30-118h0m-41-302h0m-369-33h0m-869 465h0m1413 150h0" stroke="#5fe650" stroke-width="29"/>
</g></g></g>
<clipPath id="ic"><rect x="115.5" y="171.2" width="85.5" height="63.0"/></clipPath>
<rect x="115.5" y="171.2" width="85.5" height="63.0" fill="#070a16"/>
<defs><radialGradient id="bg" cx="0.45" cy="0.42" r="0.6"><stop offset="0" stop-color="#fff" stop-opacity="0.16"/><stop offset="0.55" stop-color="#fff" stop-opacity="0"/><stop offset="1" stop-color="#000" stop-opacity="0.32"/></radialGradient></defs>
<defs><filter id="ibl" x="-5%" y="-5%" width="110%" height="110%"><feGaussianBlur stdDeviation="0.6"/></filter></defs>
<g clip-path="url(#ic)"><g filter="url(#ibl)">
<circle cx="113.4" cy="170.3" r="2.9" fill="#3cd44c"/><circle cx="113.4" cy="170.3" r="2.9" fill="url(#bg)"/>
<circle cx="120.1" cy="169.6" r="2.9" fill="#7038b8"/><circle cx="120.1" cy="169.6" r="2.9" fill="url(#bg)"/>
<circle cx="126.0" cy="169.5" r="2.6" fill="#25bd4b"/><circle cx="126.0" cy="169.5" r="2.6" fill="url(#bg)"/>
<circle cx="132.2" cy="170.4" r="2.8" fill="#329bbb"/><circle cx="132.2" cy="170.4" r="2.8" fill="url(#bg)"/>
<circle cx="137.8" cy="170.4" r="2.6" fill="#5c88e8"/><circle cx="137.8" cy="170.4" r="2.6" fill="url(#bg)"/>
<circle cx="142.7" cy="169.4" r="2.9" fill="#28359a"/><circle cx="142.7" cy="169.4" r="2.9" fill="url(#bg)"/>
<circle cx="149.4" cy="170.1" r="2.9" fill="#24308c"/><circle cx="149.4" cy="170.1" r="2.9" fill="url(#bg)"/>
<circle cx="155.1" cy="169.3" r="3.0" fill="#2f4cb8"/><circle cx="155.1" cy="169.3" r="3.0" fill="url(#bg)"/>
<circle cx="162.4" cy="171.1" r="3.0" fill="#1d2670"/><circle cx="162.4" cy="171.1" r="3.0" fill="url(#bg)"/>
<circle cx="168.0" cy="170.2" r="2.9" fill="#1f327a"/><circle cx="168.0" cy="170.2" r="2.9" fill="url(#bg)"/>
<circle cx="173.3" cy="170.8" r="3.1" fill="#1a7742"/><circle cx="173.3" cy="170.8" r="3.1" fill="url(#bg)"/>
<circle cx="179.8" cy="169.7" r="2.6" fill="#36bf44"/><circle cx="179.8" cy="169.7" r="2.6" fill="url(#bg)"/>
<circle cx="186.4" cy="170.0" r="2.9" fill="#395ce0"/><circle cx="186.4" cy="170.0" r="2.9" fill="url(#bg)"/>
<circle cx="191.8" cy="169.9" r="2.6" fill="#1f9b3d"/><circle cx="191.8" cy="169.9" r="2.6" fill="url(#bg)"/>
<circle cx="198.0" cy="169.5" r="2.7" fill="#37528b"/><circle cx="198.0" cy="169.5" r="2.7" fill="url(#bg)"/>
<circle cx="203.4" cy="170.2" r="2.7" fill="#d41c84"/><circle cx="203.4" cy="170.2" r="2.7" fill="url(#bg)"/>
<circle cx="115.9" cy="175.8" r="3.0" fill="#1f327a"/><circle cx="115.9" cy="175.8" r="3.0" fill="url(#bg)"/>
<circle cx="122.3" cy="176.3" r="3.1" fill="#395ce0"/><circle cx="122.3" cy="176.3" r="3.1" fill="url(#bg)"/>
<circle cx="128.7" cy="176.3" r="2.7" fill="#395ce0"/><circle cx="128.7" cy="176.3" r="2.7" fill="url(#bg)"/>
<circle cx="134.7" cy="175.6" r="2.7" fill="#2f4cb8"/><circle cx="134.7" cy="175.6" r="2.7" fill="url(#bg)"/>
<circle cx="140.1" cy="175.9" r="2.8" fill="#146729"/><circle cx="140.1" cy="175.9" r="2.8" fill="url(#bg)"/>
<circle cx="145.7" cy="174.9" r="2.6" fill="#2d8aa6"/><circle cx="145.7" cy="174.9" r="2.6" fill="url(#bg)"/>
<circle cx="152.3" cy="175.3" r="2.9" fill="#3cd44c"/><circle cx="152.3" cy="175.3" r="2.9" fill="url(#bg)"/>
<circle cx="157.8" cy="175.2" r="2.8" fill="#277892"/><circle cx="157.8" cy="175.2" r="2.8" fill="url(#bg)"/>
<circle cx="165.1" cy="175.0" r="3.0" fill="#5c88e8"/><circle cx="165.1" cy="175.0" r="3.0" fill="url(#bg)"/>
<circle cx="170.0" cy="176.2" r="2.9" fill="#202b7e"/><circle cx="170.0" cy="176.2" r="2.9" fill="url(#bg)"/>
<circle cx="175.7" cy="174.7" r="2.7" fill="#208c88"/><circle cx="175.7" cy="174.7" r="2.7" fill="url(#bg)"/>
<circle cx="182.9" cy="175.0" r="2.9" fill="#1d2670"/><circle cx="182.9" cy="175.0" r="2.9" fill="url(#bg)"/>
<circle cx="188.5" cy="176.2" r="2.7" fill="#772453"/><circle cx="188.5" cy="176.2" r="2.7" fill="url(#bg)"/>
<circle cx="194.6" cy="176.1" r="2.8" fill="#277892"/><circle cx="194.6" cy="176.1" r="2.8" fill="url(#bg)"/>
<circle cx="200.9" cy="174.6" r="2.7" fill="#0e4124"/><circle cx="200.9" cy="174.6" r="2.7" fill="url(#bg)"/>
<circle cx="112.9" cy="180.4" r="2.7" fill="#1a706d"/><circle cx="112.9" cy="180.4" r="2.7" fill="url(#bg)"/>
<circle cx="118.8" cy="180.6" r="3.0" fill="#22ac44"/><circle cx="118.8" cy="180.6" r="3.0" fill="url(#bg)"/>
<circle cx="125.7" cy="180.0" r="2.6" fill="#2a43a3"/><circle cx="125.7" cy="180.0" r="2.6" fill="url(#bg)"/>
<circle cx="131.9" cy="181.5" r="2.9" fill="#2f4cb8"/><circle cx="131.9" cy="181.5" r="2.9" fill="url(#bg)"/>
<circle cx="136.7" cy="180.3" r="2.6" fill="#2f4cb8"/><circle cx="136.7" cy="180.3" r="2.6" fill="url(#bg)"/>
<circle cx="143.6" cy="181.1" r="3.0" fill="#24308c"/><circle cx="143.6" cy="181.1" r="3.0" fill="url(#bg)"/>
<circle cx="148.8" cy="181.5" r="2.6" fill="#1f9b3d"/><circle cx="148.8" cy="181.5" r="2.6" fill="url(#bg)"/>
<circle cx="156.2" cy="181.3" r="3.0" fill="#1a7742"/><circle cx="156.2" cy="181.3" r="3.0" fill="url(#bg)"/>
<circle cx="161.5" cy="179.8" r="2.8" fill="#7f114f"/><circle cx="161.5" cy="179.8" r="2.8" fill="url(#bg)"/>
<circle cx="167.7" cy="179.9" r="3.1" fill="#329bbb"/><circle cx="167.7" cy="179.9" r="3.1" fill="url(#bg)"/>
<circle cx="173.9" cy="180.4" r="2.9" fill="#bf1977"/><circle cx="173.9" cy="180.4" r="2.9" fill="url(#bg)"/>
<circle cx="179.4" cy="180.7" r="2.9" fill="#1a706d"/><circle cx="179.4" cy="180.7" r="2.9" fill="url(#bg)"/>
<circle cx="185.7" cy="180.6" r="3.0" fill="#537ad1"/><circle cx="185.7" cy="180.6" r="3.0" fill="url(#bg)"/>
<circle cx="192.0" cy="180.9" r="3.1" fill="#1a706d"/><circle cx="192.0" cy="180.9" r="3.1" fill="url(#bg)"/>
<circle cx="197.1" cy="181.0" r="2.7" fill="#4a6dba"/><circle cx="197.1" cy="181.0" r="2.7" fill="url(#bg)"/>
<circle cx="203.8" cy="180.5" r="2.8" fill="#24308c"/><circle cx="203.8" cy="180.5" r="2.8" fill="url(#bg)"/>
<circle cx="116.1" cy="186.1" r="3.0" fill="#4e2781"/><circle cx="116.1" cy="186.1" r="3.0" fill="url(#bg)"/>
<circle cx="123.2" cy="185.7" r="2.8" fill="#16625f"/><circle cx="123.2" cy="185.7" r="2.8" fill="url(#bg)"/>
<circle cx="127.8" cy="185.6" r="2.6" fill="#161d54"/><circle cx="127.8" cy="185.6" r="2.6" fill="url(#bg)"/>
<circle cx="135.3" cy="185.5" r="2.8" fill="#4a6dba"/><circle cx="135.3" cy="185.5" r="2.8" fill="url(#bg)"/>
<circle cx="141.3" cy="186.5" r="2.9" fill="#186c3c"/><circle cx="141.3" cy="186.5" r="2.9" fill="url(#bg)"/>
<circle cx="146.2" cy="186.5" r="2.8" fill="#4f1837"/><circle cx="146.2" cy="186.5" r="2.8" fill="url(#bg)"/>
<circle cx="153.1" cy="185.5" r="3.0" fill="#2d8aa6"/><circle cx="153.1" cy="185.5" r="3.0" fill="url(#bg)"/>
<circle cx="158.6" cy="185.5" r="2.6" fill="#4e2781"/><circle cx="158.6" cy="185.5" r="2.6" fill="url(#bg)"/>
<circle cx="164.3" cy="185.3" r="2.7" fill="#7b3eca"/><circle cx="164.3" cy="185.3" r="2.7" fill="url(#bg)"/>
<circle cx="169.9" cy="185.0" r="2.8" fill="#38acd0"/><circle cx="169.9" cy="185.0" r="2.8" fill="url(#bg)"/>
<circle cx="176.6" cy="186.1" r="2.6" fill="#187830"/><circle cx="176.6" cy="186.1" r="2.6" fill="url(#bg)"/>
<circle cx="182.0" cy="185.8" r="2.6" fill="#537ad1"/><circle cx="182.0" cy="185.8" r="2.6" fill="url(#bg)"/>
<circle cx="188.6" cy="185.0" r="3.0" fill="#5c88e8"/><circle cx="188.6" cy="185.0" r="3.0" fill="url(#bg)"/>
<circle cx="194.9" cy="185.9" r="3.0" fill="#329bbb"/><circle cx="194.9" cy="185.9" r="3.0" fill="url(#bg)"/>
<circle cx="201.1" cy="186.2" r="2.8" fill="#5c88e8"/><circle cx="201.1" cy="186.2" r="2.8" fill="url(#bg)"/>
<circle cx="113.3" cy="191.0" r="3.1" fill="#37528b"/><circle cx="113.3" cy="191.0" r="3.1" fill="url(#bg)"/>
<circle cx="119.3" cy="191.2" r="3.0" fill="#1d2670"/><circle cx="119.3" cy="191.2" r="3.0" fill="url(#bg)"/>
<circle cx="125.4" cy="191.4" r="3.0" fill="#6596ff"/><circle cx="125.4" cy="191.4" r="3.0" fill="url(#bg)"/>
<circle cx="132.0" cy="191.8" r="2.7" fill="#2f4cb8"/><circle cx="132.0" cy="191.8" r="2.7" fill="url(#bg)"/>
<circle cx="138.4" cy="191.9" r="3.0" fill="#1a706d"/><circle cx="138.4" cy="191.9" r="3.0" fill="url(#bg)"/>
<circle cx="143.1" cy="191.5" r="2.9" fill="#1f327a"/><circle cx="143.1" cy="191.5" r="2.9" fill="url(#bg)"/>
<circle cx="149.4" cy="191.2" r="2.9" fill="#43226e"/><circle cx="149.4" cy="191.2" r="2.9" fill="url(#bg)"/>
<circle cx="155.0" cy="191.7" r="2.6" fill="#186c3c"/><circle cx="155.0" cy="191.7" r="2.6" fill="url(#bg)"/>
<circle cx="161.2" cy="191.6" r="2.7" fill="#3454cc"/><circle cx="161.2" cy="191.6" r="2.7" fill="url(#bg)"/>
<circle cx="168.2" cy="191.1" r="2.8" fill="#bf1977"/><circle cx="168.2" cy="191.1" r="2.8" fill="url(#bg)"/>
<circle cx="173.6" cy="191.4" r="2.8" fill="#7038b8"/><circle cx="173.6" cy="191.4" r="2.8" fill="url(#bg)"/>
<circle cx="179.1" cy="191.5" r="2.9" fill="#3ebde5"/><circle cx="179.1" cy="191.5" r="2.9" fill="url(#bg)"/>
<circle cx="186.2" cy="190.6" r="3.1" fill="#e91f91"/><circle cx="186.2" cy="190.6" r="3.1" fill="url(#bg)"/>
<circle cx="192.2" cy="190.6" r="3.1" fill="#24308c"/><circle cx="192.2" cy="190.6" r="3.1" fill="url(#bg)"/>
<circle cx="197.1" cy="191.1" r="2.7" fill="#0e4124"/><circle cx="197.1" cy="191.1" r="2.7" fill="url(#bg)"/>
<circle cx="203.7" cy="190.2" r="2.9" fill="#36bf44"/><circle cx="203.7" cy="190.2" r="2.9" fill="url(#bg)"/>
<circle cx="116.6" cy="197.2" r="2.7" fill="#243b8f"/><circle cx="116.6" cy="197.2" r="2.7" fill="url(#bg)"/>
<circle cx="121.7" cy="196.4" r="3.1" fill="#166136"/><circle cx="121.7" cy="196.4" r="3.1" fill="url(#bg)"/>
<circle cx="128.1" cy="196.3" r="2.8" fill="#395ce0"/><circle cx="128.1" cy="196.3" r="2.8" fill="url(#bg)"/>
<circle cx="135.3" cy="197.1" r="2.7" fill="#1d7e7a"/><circle cx="135.3" cy="197.1" r="2.7" fill="url(#bg)"/>
<circle cx="140.7" cy="197.1" r="3.0" fill="#1f327a"/><circle cx="140.7" cy="197.1" r="3.0" fill="url(#bg)"/>
<circle cx="145.7" cy="195.7" r="2.8" fill="#3454cc"/><circle cx="145.7" cy="195.7" r="2.8" fill="url(#bg)"/>
<circle cx="152.2" cy="196.5" r="3.0" fill="#1f327a"/><circle cx="152.2" cy="196.5" r="3.0" fill="url(#bg)"/>
<circle cx="159.1" cy="196.5" r="3.0" fill="#bf1977"/><circle cx="159.1" cy="196.5" r="3.0" fill="url(#bg)"/>
<circle cx="163.6" cy="196.5" r="2.9" fill="#24308c"/><circle cx="163.6" cy="196.5" r="2.9" fill="url(#bg)"/>
<circle cx="170.0" cy="196.5" r="2.9" fill="#3ebde5"/><circle cx="170.0" cy="196.5" r="2.9" fill="url(#bg)"/>
<circle cx="176.6" cy="196.5" r="3.1" fill="#3454cc"/><circle cx="176.6" cy="196.5" r="3.1" fill="url(#bg)"/>
<circle cx="183.1" cy="197.0" r="2.8" fill="#187830"/><circle cx="183.1" cy="197.0" r="2.8" fill="url(#bg)"/>
<circle cx="188.0" cy="197.2" r="2.7" fill="#192262"/><circle cx="188.0" cy="197.2" r="2.7" fill="url(#bg)"/>
<circle cx="193.8" cy="195.6" r="2.8" fill="#166136"/><circle cx="193.8" cy="195.6" r="2.8" fill="url(#bg)"/>
<circle cx="200.6" cy="196.7" r="2.9" fill="#6596ff"/><circle cx="200.6" cy="196.7" r="2.9" fill="url(#bg)"/>
<circle cx="112.6" cy="201.0" r="3.1" fill="#aa166a"/><circle cx="112.6" cy="201.0" r="3.1" fill="url(#bg)"/>
<circle cx="118.8" cy="201.5" r="2.9" fill="#7038b8"/><circle cx="118.8" cy="201.5" r="2.9" fill="url(#bg)"/>
<circle cx="126.1" cy="202.1" r="2.6" fill="#239a96"/><circle cx="126.1" cy="202.1" r="2.6" fill="url(#bg)"/>
<circle cx="131.6" cy="201.5" r="2.7" fill="#16625f"/><circle cx="131.6" cy="201.5" r="2.7" fill="url(#bg)"/>
<circle cx="136.8" cy="200.9" r="2.8" fill="#5c88e8"/><circle cx="136.8" cy="200.9" r="2.8" fill="url(#bg)"/>
<circle cx="142.8" cy="200.7" r="2.9" fill="#42e954"/><circle cx="142.8" cy="200.7" r="2.9" fill="url(#bg)"/>
<circle cx="148.8" cy="201.3" r="2.8" fill="#114c2a"/><circle cx="148.8" cy="201.3" r="2.8" fill="url(#bg)"/>
<circle cx="155.7" cy="200.6" r="3.1" fill="#94145c"/><circle cx="155.7" cy="200.6" r="3.1" fill="url(#bg)"/>
<circle cx="161.3" cy="201.3" r="3.1" fill="#22ac44"/><circle cx="161.3" cy="201.3" r="3.1" fill="url(#bg)"/>
<circle cx="166.9" cy="201.5" r="3.1" fill="#395ce0"/><circle cx="166.9" cy="201.5" r="3.1" fill="url(#bg)"/>
<circle cx="174.1" cy="202.2" r="3.1" fill="#24308c"/><circle cx="174.1" cy="202.2" r="3.1" fill="url(#bg)"/>
<circle cx="179.7" cy="201.5" r="3.0" fill="#6a204a"/><circle cx="179.7" cy="201.5" r="3.0" fill="url(#bg)"/>
<circle cx="185.1" cy="200.8" r="2.7" fill="#6532a6"/><circle cx="185.1" cy="200.8" r="2.7" fill="url(#bg)"/>
<circle cx="190.8" cy="201.2" r="2.8" fill="#1d7e7a"/><circle cx="190.8" cy="201.2" r="2.8" fill="url(#bg)"/>
<circle cx="198.0" cy="201.4" r="2.6" fill="#aa166a"/><circle cx="198.0" cy="201.4" r="2.6" fill="url(#bg)"/>
<circle cx="203.1" cy="200.8" r="3.1" fill="#24308c"/><circle cx="203.1" cy="200.8" r="3.1" fill="url(#bg)"/>
<circle cx="115.7" cy="206.3" r="2.8" fill="#2a9435"/><circle cx="115.7" cy="206.3" r="2.8" fill="url(#bg)"/>
<circle cx="122.8" cy="206.9" r="2.8" fill="#1d7e7a"/><circle cx="122.8" cy="206.9" r="2.8" fill="url(#bg)"/>
<circle cx="128.8" cy="207.1" r="3.1" fill="#43226e"/><circle cx="128.8" cy="207.1" r="3.1" fill="url(#bg)"/>
<circle cx="133.8" cy="206.0" r="2.8" fill="#5c88e8"/><circle cx="133.8" cy="206.0" r="2.8" fill="url(#bg)"/>
<circle cx="139.7" cy="206.2" r="2.7" fill="#135630"/><circle cx="139.7" cy="206.2" r="2.7" fill="url(#bg)"/>
<circle cx="146.1" cy="206.5" r="2.8" fill="#208c88"/><circle cx="146.1" cy="206.5" r="2.8" fill="url(#bg)"/>
<circle cx="152.6" cy="207.6" r="3.0" fill="#22677d"/><circle cx="152.6" cy="207.6" r="3.0" fill="url(#bg)"/>
<circle cx="158.6" cy="207.0" r="2.8" fill="#2a9435"/><circle cx="158.6" cy="207.0" r="2.8" fill="url(#bg)"/>
<circle cx="164.3" cy="207.6" r="2.9" fill="#24308c"/><circle cx="164.3" cy="207.6" r="2.9" fill="url(#bg)"/>
<circle cx="169.7" cy="207.5" r="2.9" fill="#186c3c"/><circle cx="169.7" cy="207.5" r="2.9" fill="url(#bg)"/>
<circle cx="176.2" cy="206.8" r="2.7" fill="#1a706d"/><circle cx="176.2" cy="206.8" r="2.7" fill="url(#bg)"/>
<circle cx="182.8" cy="207.2" r="3.0" fill="#3454cc"/><circle cx="182.8" cy="207.2" r="3.0" fill="url(#bg)"/>
<circle cx="187.7" cy="206.1" r="2.8" fill="#5a2d93"/><circle cx="187.7" cy="206.1" r="2.8" fill="url(#bg)"/>
<circle cx="194.9" cy="205.9" r="3.1" fill="#4f1837"/><circle cx="194.9" cy="205.9" r="3.1" fill="url(#bg)"/>
<circle cx="201.0" cy="206.2" r="2.7" fill="#e91f91"/><circle cx="201.0" cy="206.2" r="2.7" fill="url(#bg)"/>
<circle cx="113.0" cy="212.0" r="3.0" fill="#36bf44"/><circle cx="113.0" cy="212.0" r="3.0" fill="url(#bg)"/>
<circle cx="118.9" cy="212.8" r="3.0" fill="#37528b"/><circle cx="118.9" cy="212.8" r="3.0" fill="url(#bg)"/>
<circle cx="125.7" cy="211.9" r="2.6" fill="#5c88e8"/><circle cx="125.7" cy="211.9" r="2.6" fill="url(#bg)"/>
<circle cx="130.9" cy="211.7" r="2.8" fill="#3454cc"/><circle cx="130.9" cy="211.7" r="2.8" fill="url(#bg)"/>
<circle cx="137.1" cy="212.1" r="3.0" fill="#186c3c"/><circle cx="137.1" cy="212.1" r="3.0" fill="url(#bg)"/>
<circle cx="144.1" cy="211.3" r="2.7" fill="#1f9b3d"/><circle cx="144.1" cy="211.3" r="2.7" fill="url(#bg)"/>
<circle cx="148.8" cy="212.7" r="2.9" fill="#5a2d93"/><circle cx="148.8" cy="212.7" r="2.9" fill="url(#bg)"/>
<circle cx="155.1" cy="212.2" r="3.0" fill="#94145c"/><circle cx="155.1" cy="212.2" r="3.0" fill="url(#bg)"/>
<circle cx="161.7" cy="212.4" r="2.7" fill="#5c88e8"/><circle cx="161.7" cy="212.4" r="2.7" fill="url(#bg)"/>
<circle cx="168.2" cy="212.6" r="2.6" fill="#2a43a3"/><circle cx="168.2" cy="212.6" r="2.6" fill="url(#bg)"/>
<circle cx="173.1" cy="211.1" r="2.7" fill="#2a43a3"/><circle cx="173.1" cy="211.1" r="2.7" fill="url(#bg)"/>
<circle cx="178.7" cy="211.2" r="2.9" fill="#d41c84"/><circle cx="178.7" cy="211.2" r="2.9" fill="url(#bg)"/>
<circle cx="186.4" cy="211.9" r="2.8" fill="#1f9b3d"/><circle cx="186.4" cy="211.9" r="2.8" fill="url(#bg)"/>
<circle cx="191.9" cy="212.6" r="2.7" fill="#395ce0"/><circle cx="191.9" cy="212.6" r="2.7" fill="url(#bg)"/>
<circle cx="198.1" cy="212.6" r="2.8" fill="#7038b8"/><circle cx="198.1" cy="212.6" r="2.8" fill="url(#bg)"/>
<circle cx="203.1" cy="212.5" r="3.0" fill="#22ac44"/><circle cx="203.1" cy="212.5" r="3.0" fill="url(#bg)"/>
<circle cx="116.2" cy="217.3" r="3.1" fill="#6532a6"/><circle cx="116.2" cy="217.3" r="3.1" fill="url(#bg)"/>
<circle cx="122.8" cy="217.3" r="2.8" fill="#186c3c"/><circle cx="122.8" cy="217.3" r="2.8" fill="url(#bg)"/>
<circle cx="127.7" cy="217.3" r="3.0" fill="#1a706d"/><circle cx="127.7" cy="217.3" r="3.0" fill="url(#bg)"/>
<circle cx="135.1" cy="216.3" r="3.1" fill="#22ac44"/><circle cx="135.1" cy="216.3" r="3.1" fill="url(#bg)"/>
<circle cx="139.7" cy="216.8" r="3.0" fill="#aa166a"/><circle cx="139.7" cy="216.8" r="3.0" fill="url(#bg)"/>
<circle cx="147.2" cy="216.7" r="2.8" fill="#7f114f"/><circle cx="147.2" cy="216.7" r="2.8" fill="url(#bg)"/>
<circle cx="152.2" cy="217.1" r="3.1" fill="#38acd0"/><circle cx="152.2" cy="217.1" r="3.1" fill="url(#bg)"/>
<circle cx="159.2" cy="217.1" r="2.8" fill="#5a2d93"/><circle cx="159.2" cy="217.1" r="2.8" fill="url(#bg)"/>
<circle cx="164.0" cy="218.0" r="2.9" fill="#7f114f"/><circle cx="164.0" cy="218.0" r="2.9" fill="url(#bg)"/>
<circle cx="170.3" cy="216.9" r="2.8" fill="#1f9b3d"/><circle cx="170.3" cy="216.9" r="2.8" fill="url(#bg)"/>
<circle cx="177.0" cy="217.6" r="2.8" fill="#187830"/><circle cx="177.0" cy="217.6" r="2.8" fill="url(#bg)"/>
<circle cx="183.1" cy="217.3" r="3.0" fill="#6596ff"/><circle cx="183.1" cy="217.3" r="3.0" fill="url(#bg)"/>
<circle cx="188.1" cy="216.3" r="2.9" fill="#208c88"/><circle cx="188.1" cy="216.3" r="2.9" fill="url(#bg)"/>
<circle cx="194.1" cy="216.3" r="2.8" fill="#24308c"/><circle cx="194.1" cy="216.3" r="2.8" fill="url(#bg)"/>
<circle cx="200.6" cy="217.7" r="2.6" fill="#3454cc"/><circle cx="200.6" cy="217.7" r="2.6" fill="url(#bg)"/>
<circle cx="112.8" cy="222.1" r="3.0" fill="#1f327a"/><circle cx="112.8" cy="222.1" r="3.0" fill="url(#bg)"/>
<circle cx="119.9" cy="222.7" r="2.7" fill="#6596ff"/><circle cx="119.9" cy="222.7" r="2.7" fill="url(#bg)"/>
<circle cx="126.2" cy="222.1" r="2.8" fill="#1a7742"/><circle cx="126.2" cy="222.1" r="2.8" fill="url(#bg)"/>
<circle cx="132.3" cy="222.7" r="2.9" fill="#208c88"/><circle cx="132.3" cy="222.7" r="2.9" fill="url(#bg)"/>
<circle cx="136.7" cy="222.6" r="3.0" fill="#3454cc"/><circle cx="136.7" cy="222.6" r="3.0" fill="url(#bg)"/>
<circle cx="143.2" cy="221.5" r="2.6" fill="#166136"/><circle cx="143.2" cy="221.5" r="2.6" fill="url(#bg)"/>
<circle cx="150.3" cy="222.7" r="3.0" fill="#239a96"/><circle cx="150.3" cy="222.7" r="3.0" fill="url(#bg)"/>
<circle cx="154.8" cy="223.2" r="2.7" fill="#2a9435"/><circle cx="154.8" cy="223.2" r="2.7" fill="url(#bg)"/>
<circle cx="162.4" cy="222.2" r="2.7" fill="#537ad1"/><circle cx="162.4" cy="222.2" r="2.7" fill="url(#bg)"/>
<circle cx="167.6" cy="222.0" r="2.9" fill="#24308c"/><circle cx="167.6" cy="222.0" r="2.9" fill="url(#bg)"/>
<circle cx="172.8" cy="222.7" r="2.7" fill="#43226e"/><circle cx="172.8" cy="222.7" r="2.7" fill="url(#bg)"/>
<circle cx="180.0" cy="221.5" r="3.0" fill="#1a706d"/><circle cx="180.0" cy="221.5" r="3.0" fill="url(#bg)"/>
<circle cx="184.8" cy="221.8" r="2.7" fill="#5c88e8"/><circle cx="184.8" cy="221.8" r="2.7" fill="url(#bg)"/>
<circle cx="191.4" cy="222.4" r="3.1" fill="#166136"/><circle cx="191.4" cy="222.4" r="3.1" fill="url(#bg)"/>
<circle cx="196.9" cy="222.9" r="2.9" fill="#25bd4b"/><circle cx="196.9" cy="222.9" r="2.9" fill="url(#bg)"/>
<circle cx="203.6" cy="223.0" r="2.8" fill="#1a706d"/><circle cx="203.6" cy="223.0" r="2.8" fill="url(#bg)"/>
<circle cx="116.8" cy="228.1" r="3.1" fill="#2f4cb8"/><circle cx="116.8" cy="228.1" r="3.1" fill="url(#bg)"/>
<circle cx="121.7" cy="228.4" r="2.8" fill="#7038b8"/><circle cx="121.7" cy="228.4" r="2.8" fill="url(#bg)"/>
<circle cx="129.0" cy="228.1" r="2.6" fill="#4e2781"/><circle cx="129.0" cy="228.1" r="2.6" fill="url(#bg)"/>
<circle cx="135.2" cy="228.3" r="2.8" fill="#192262"/><circle cx="135.2" cy="228.3" r="2.8" fill="url(#bg)"/>
<circle cx="140.9" cy="227.8" r="2.7" fill="#4a6dba"/><circle cx="140.9" cy="227.8" r="2.7" fill="url(#bg)"/>
<circle cx="145.9" cy="228.4" r="2.7" fill="#24308c"/><circle cx="145.9" cy="228.4" r="2.7" fill="url(#bg)"/>
<circle cx="153.4" cy="227.2" r="2.7" fill="#239a96"/><circle cx="153.4" cy="227.2" r="2.7" fill="url(#bg)"/>
<circle cx="157.9" cy="227.1" r="2.7" fill="#2a9435"/><circle cx="157.9" cy="227.1" r="2.7" fill="url(#bg)"/>
<circle cx="163.7" cy="227.2" r="2.7" fill="#bf1977"/><circle cx="163.7" cy="227.2" r="2.7" fill="url(#bg)"/>
<circle cx="170.8" cy="226.9" r="2.9" fill="#7038b8"/><circle cx="170.8" cy="226.9" r="2.9" fill="url(#bg)"/>
<circle cx="176.1" cy="228.1" r="3.1" fill="#0e4124"/><circle cx="176.1" cy="228.1" r="3.1" fill="url(#bg)"/>
<circle cx="183.0" cy="227.5" r="2.8" fill="#2f4cb8"/><circle cx="183.0" cy="227.5" r="2.8" fill="url(#bg)"/>
<circle cx="187.9" cy="228.2" r="2.8" fill="#146729"/><circle cx="187.9" cy="228.2" r="2.8" fill="url(#bg)"/>
<circle cx="194.6" cy="228.5" r="2.6" fill="#7f114f"/><circle cx="194.6" cy="228.5" r="2.6" fill="url(#bg)"/>
<circle cx="200.8" cy="226.9" r="2.9" fill="#1a7742"/><circle cx="200.8" cy="226.9" r="2.9" fill="url(#bg)"/>
<circle cx="114.1" cy="233.1" r="2.8" fill="#3454cc"/><circle cx="114.1" cy="233.1" r="2.8" fill="url(#bg)"/>
<circle cx="119.5" cy="232.5" r="3.0" fill="#395ce0"/><circle cx="119.5" cy="232.5" r="3.0" fill="url(#bg)"/>
<circle cx="126.4" cy="233.4" r="2.9" fill="#4a6dba"/><circle cx="126.4" cy="233.4" r="2.9" fill="url(#bg)"/>
<circle cx="131.7" cy="233.6" r="3.1" fill="#7b3eca"/><circle cx="131.7" cy="233.6" r="3.1" fill="url(#bg)"/>
<circle cx="137.3" cy="233.1" r="2.7" fill="#22ac44"/><circle cx="137.3" cy="233.1" r="2.7" fill="url(#bg)"/>
<circle cx="142.8" cy="232.5" r="2.9" fill="#22ac44"/><circle cx="142.8" cy="232.5" r="2.9" fill="url(#bg)"/>
<circle cx="149.2" cy="233.4" r="2.7" fill="#1f327a"/><circle cx="149.2" cy="233.4" r="2.7" fill="url(#bg)"/>
<circle cx="154.8" cy="233.1" r="2.7" fill="#37528b"/><circle cx="154.8" cy="233.1" r="2.7" fill="url(#bg)"/>
<circle cx="162.1" cy="233.0" r="2.7" fill="#243b8f"/><circle cx="162.1" cy="233.0" r="2.7" fill="url(#bg)"/>
<circle cx="168.4" cy="232.7" r="2.8" fill="#7b3eca"/><circle cx="168.4" cy="232.7" r="2.8" fill="url(#bg)"/>
<circle cx="173.4" cy="232.9" r="3.0" fill="#e91f91"/><circle cx="173.4" cy="232.9" r="3.0" fill="url(#bg)"/>
<circle cx="179.8" cy="232.8" r="2.9" fill="#3cd44c"/><circle cx="179.8" cy="232.8" r="2.9" fill="url(#bg)"/>
<circle cx="185.3" cy="233.2" r="3.0" fill="#84285c"/><circle cx="185.3" cy="233.2" r="3.0" fill="url(#bg)"/>
<circle cx="192.4" cy="232.9" r="2.7" fill="#1b8a36"/><circle cx="192.4" cy="232.9" r="2.7" fill="url(#bg)"/>
<circle cx="197.8" cy="232.1" r="2.9" fill="#1a7742"/><circle cx="197.8" cy="232.1" r="2.9" fill="url(#bg)"/>
<circle cx="203.1" cy="232.1" r="2.7" fill="#d41c84"/><circle cx="203.1" cy="232.1" r="2.7" fill="url(#bg)"/>
<circle cx="117.2" cy="238.1" r="2.9" fill="#187830"/><circle cx="117.2" cy="238.1" r="2.9" fill="url(#bg)"/>
<circle cx="122.6" cy="237.5" r="3.1" fill="#3cd44c"/><circle cx="122.6" cy="237.5" r="3.1" fill="url(#bg)"/>
<circle cx="129.1" cy="237.5" r="2.9" fill="#2a9435"/><circle cx="129.1" cy="237.5" r="2.9" fill="url(#bg)"/>
<circle cx="135.0" cy="237.4" r="2.8" fill="#1a706d"/><circle cx="135.0" cy="237.4" r="2.8" fill="url(#bg)"/>
<circle cx="140.2" cy="238.8" r="2.9" fill="#146729"/><circle cx="140.2" cy="238.8" r="2.9" fill="url(#bg)"/>
<circle cx="146.4" cy="238.5" r="2.9" fill="#5c88e8"/><circle cx="146.4" cy="238.5" r="2.9" fill="url(#bg)"/>
<circle cx="152.6" cy="238.2" r="3.1" fill="#25bd4b"/><circle cx="152.6" cy="238.2" r="3.1" fill="url(#bg)"/>
<circle cx="158.2" cy="237.4" r="2.6" fill="#3cd44c"/><circle cx="158.2" cy="237.4" r="2.6" fill="url(#bg)"/>
<circle cx="165.2" cy="237.6" r="3.1" fill="#16625f"/><circle cx="165.2" cy="237.6" r="3.1" fill="url(#bg)"/>
<circle cx="170.7" cy="238.6" r="2.8" fill="#1a7742"/><circle cx="170.7" cy="238.6" r="2.8" fill="url(#bg)"/>
<circle cx="177.4" cy="238.9" r="2.8" fill="#d41c84"/><circle cx="177.4" cy="238.9" r="2.8" fill="url(#bg)"/>
<circle cx="183.1" cy="238.8" r="3.0" fill="#3ebde5"/><circle cx="183.1" cy="238.8" r="3.0" fill="url(#bg)"/>
<circle cx="187.6" cy="237.5" r="2.7" fill="#166136"/><circle cx="187.6" cy="237.5" r="2.7" fill="url(#bg)"/>
<circle cx="193.8" cy="237.9" r="2.7" fill="#187830"/><circle cx="193.8" cy="237.9" r="2.7" fill="url(#bg)"/>
<circle cx="200.6" cy="237.8" r="2.6" fill="#38acd0"/><circle cx="200.6" cy="237.8" r="2.6" fill="url(#bg)"/>
</g></g>
<rect x="115.5" y="171.2" width="85.5" height="63.0" fill="none" stroke="#e4e4e4" stroke-width="0.8"/>
<text x="170.8" y="227.7" font-size="7.9" text-anchor="start" font-weight="normal" fill="#fff" textLength="25.6" lengthAdjust="spacingAndGlyphs" stroke="#fff" stroke-width="0.25">100 µm</text>
<rect x="190.0" y="229.8" width="6.4" height="1.1" fill="#fff"/>
<text x="109.3" y="250.1" font-size="9" text-anchor="start" font-weight="bold" fill="#d4147a" textLength="14.4" lengthAdjust="spacingAndGlyphs">Cy5</text>
<text x="129.7" y="250.1" font-size="9" text-anchor="start" font-weight="bold" fill="#2e9e3a" textLength="16.2" lengthAdjust="spacingAndGlyphs">FITC</text>
<text x="150.5" y="250.1" font-size="9" text-anchor="start" font-weight="bold" fill="#2e6db4" textLength="52.8" lengthAdjust="spacingAndGlyphs">Cascade Blue</text>
<text x="229.9" y="14.4" font-size="18" text-anchor="start" font-weight="bold" fill="#111" textLength="10.4" lengthAdjust="spacingAndGlyphs">b</text>
<defs><filter id="hbl" x="-2%" y="-2%" width="104%" height="104%"><feGaussianBlur stdDeviation="0.4"/></filter></defs>
<rect x="266.6" y="15.1" width="96.30" height="85.50" fill="#160b09"/>
<clipPath id="hc266"><rect x="266.6" y="15.1" width="96.30" height="85.50"/></clipPath>
<g clip-path="url(#hc266)"><g filter="url(#hbl)"><g transform="translate(266.6 15.1) scale(3.2100 2.8500)">
<path d="M6 0h1.02v1.02h-1.02zM10 0h1.02v1.02h-1.02zM20 0h1.02v1.02h-1.02zM21 0h1.02v1.02h-1.02zM5 2h1.02v1.02h-1.02zM17 5h1.02v1.02h-1.02zM18 5h1.02v1.02h-1.02zM1 10h1.02v1.02h-1.02zM2 10h1.02v1.02h-1.02zM18 20h1.02v1.02h-1.02zM21 28h1.02v1.02h-1.02z" fill="#320e0c"/>
<path d="M5 0h1.02v1.02h-1.02zM15 0h1.02v1.02h-1.02zM5 1h1.02v1.02h-1.02zM23 2h1.02v1.02h-1.02zM6 3h1.02v1.02h-1.02zM15 3h1.02v1.02h-1.02zM16 3h1.02v1.02h-1.02zM23 4h1.02v1.02h-1.02zM24 4h1.02v1.02h-1.02zM5 5h1.02v1.02h-1.02zM25 5h1.02v1.02h-1.02zM1 6h1.02v1.02h-1.02zM12 6h1.02v1.02h-1.02zM13 6h1.02v1.02h-1.02zM14 6h1.02v1.02h-1.02zM17 6h1.02v1.02h-1.02zM18 6h1.02v1.02h-1.02zM19 6h1.02v1.02h-1.02zM20 6h1.02v1.02h-1.02zM24 6h1.02v1.02h-1.02zM25 7h1.02v1.02h-1.02zM27 10h1.02v1.02h-1.02zM28 10h1.02v1.02h-1.02zM2 11h1.02v1.02h-1.02zM4 11h1.02v1.02h-1.02zM5 11h1.02v1.02h-1.02zM17 11h1.02v1.02h-1.02zM18 11h1.02v1.02h-1.02zM28 11h1.02v1.02h-1.02zM5 12h1.02v1.02h-1.02zM23 13h1.02v1.02h-1.02zM5 14h1.02v1.02h-1.02zM6 14h1.02v1.02h-1.02zM7 14h1.02v1.02h-1.02zM27 14h1.02v1.02h-1.02zM3 15h1.02v1.02h-1.02zM18 15h1.02v1.02h-1.02zM13 16h1.02v1.02h-1.02zM16 17h1.02v1.02h-1.02zM14 18h1.02v1.02h-1.02zM23 19h1.02v1.02h-1.02zM24 19h1.02v1.02h-1.02zM25 19h1.02v1.02h-1.02zM19 20h1.02v1.02h-1.02zM19 21h1.02v1.02h-1.02zM27 21h1.02v1.02h-1.02zM12 22h1.02v1.02h-1.02zM28 22h1.02v1.02h-1.02zM1 23h1.02v1.02h-1.02zM0 24h1.02v1.02h-1.02zM7 25h1.02v1.02h-1.02zM17 25h1.02v1.02h-1.02zM2 27h1.02v1.02h-1.02zM17 27h1.02v1.02h-1.02zM13 28h1.02v1.02h-1.02zM14 28h1.02v1.02h-1.02zM28 28h1.02v1.02h-1.02zM25 29h1.02v1.02h-1.02z" fill="#40100d"/>
<path d="M2 0h1.02v1.02h-1.02zM20 1h1.02v1.02h-1.02zM21 1h1.02v1.02h-1.02zM11 2h1.02v1.02h-1.02zM19 3h1.02v1.02h-1.02zM20 3h1.02v1.02h-1.02zM7 6h1.02v1.02h-1.02zM18 7h1.02v1.02h-1.02zM19 7h1.02v1.02h-1.02zM20 7h1.02v1.02h-1.02zM21 7h1.02v1.02h-1.02zM24 7h1.02v1.02h-1.02zM3 8h1.02v1.02h-1.02zM16 8h1.02v1.02h-1.02zM18 8h1.02v1.02h-1.02zM15 9h1.02v1.02h-1.02zM16 9h1.02v1.02h-1.02zM22 9h1.02v1.02h-1.02zM24 9h1.02v1.02h-1.02zM25 9h1.02v1.02h-1.02zM17 10h1.02v1.02h-1.02zM20 10h1.02v1.02h-1.02zM3 11h1.02v1.02h-1.02zM1 13h1.02v1.02h-1.02zM6 13h1.02v1.02h-1.02zM10 13h1.02v1.02h-1.02zM20 13h1.02v1.02h-1.02zM1 14h1.02v1.02h-1.02zM2 14h1.02v1.02h-1.02zM16 14h1.02v1.02h-1.02zM28 14h1.02v1.02h-1.02zM11 15h1.02v1.02h-1.02zM12 15h1.02v1.02h-1.02zM13 15h1.02v1.02h-1.02zM16 15h1.02v1.02h-1.02zM24 15h1.02v1.02h-1.02zM16 16h1.02v1.02h-1.02zM17 16h1.02v1.02h-1.02zM18 16h1.02v1.02h-1.02zM25 16h1.02v1.02h-1.02zM27 16h1.02v1.02h-1.02zM17 17h1.02v1.02h-1.02zM21 18h1.02v1.02h-1.02zM17 19h1.02v1.02h-1.02zM22 21h1.02v1.02h-1.02zM23 21h1.02v1.02h-1.02zM21 22h1.02v1.02h-1.02zM23 22h1.02v1.02h-1.02zM24 22h1.02v1.02h-1.02zM25 22h1.02v1.02h-1.02zM2 23h1.02v1.02h-1.02zM3 23h1.02v1.02h-1.02zM11 23h1.02v1.02h-1.02zM12 23h1.02v1.02h-1.02zM23 23h1.02v1.02h-1.02zM27 23h1.02v1.02h-1.02zM28 23h1.02v1.02h-1.02zM12 24h1.02v1.02h-1.02zM17 24h1.02v1.02h-1.02zM2 25h1.02v1.02h-1.02zM5 25h1.02v1.02h-1.02zM11 25h1.02v1.02h-1.02zM2 26h1.02v1.02h-1.02zM3 26h1.02v1.02h-1.02zM4 26h1.02v1.02h-1.02zM5 26h1.02v1.02h-1.02zM12 26h1.02v1.02h-1.02zM4 27h1.02v1.02h-1.02zM5 27h1.02v1.02h-1.02zM12 27h1.02v1.02h-1.02zM13 27h1.02v1.02h-1.02zM15 27h1.02v1.02h-1.02zM16 27h1.02v1.02h-1.02zM21 27h1.02v1.02h-1.02zM27 27h1.02v1.02h-1.02zM28 27h1.02v1.02h-1.02zM3 28h1.02v1.02h-1.02zM19 28h1.02v1.02h-1.02zM20 28h1.02v1.02h-1.02zM23 28h1.02v1.02h-1.02zM24 28h1.02v1.02h-1.02zM26 28h1.02v1.02h-1.02zM22 29h1.02v1.02h-1.02zM28 29h1.02v1.02h-1.02z" fill="#541410"/>
<path d="M18 1h1.02v1.02h-1.02zM19 1h1.02v1.02h-1.02zM2 2h1.02v1.02h-1.02zM4 2h1.02v1.02h-1.02zM24 5h1.02v1.02h-1.02zM5 6h1.02v1.02h-1.02zM4 7h1.02v1.02h-1.02zM5 7h1.02v1.02h-1.02zM25 8h1.02v1.02h-1.02zM26 8h1.02v1.02h-1.02zM17 9h1.02v1.02h-1.02zM20 11h1.02v1.02h-1.02zM11 13h1.02v1.02h-1.02zM15 13h1.02v1.02h-1.02zM22 14h1.02v1.02h-1.02zM27 17h1.02v1.02h-1.02zM16 18h1.02v1.02h-1.02zM20 19h1.02v1.02h-1.02zM21 20h1.02v1.02h-1.02zM3 22h1.02v1.02h-1.02zM15 23h1.02v1.02h-1.02zM16 23h1.02v1.02h-1.02zM22 23h1.02v1.02h-1.02zM29 24h1.02v1.02h-1.02zM3 25h1.02v1.02h-1.02zM12 25h1.02v1.02h-1.02zM14 25h1.02v1.02h-1.02zM17 26h1.02v1.02h-1.02zM28 26h1.02v1.02h-1.02zM14 27h1.02v1.02h-1.02zM18 27h1.02v1.02h-1.02zM19 27h1.02v1.02h-1.02zM22 27h1.02v1.02h-1.02z" fill="#691713"/>
<path d="M12 1h1.02v1.02h-1.02zM3 2h1.02v1.02h-1.02zM12 2h1.02v1.02h-1.02zM13 2h1.02v1.02h-1.02zM14 2h1.02v1.02h-1.02zM23 3h1.02v1.02h-1.02zM26 6h1.02v1.02h-1.02zM12 8h1.02v1.02h-1.02zM15 8h1.02v1.02h-1.02zM27 8h1.02v1.02h-1.02zM18 9h1.02v1.02h-1.02zM21 10h1.02v1.02h-1.02zM22 10h1.02v1.02h-1.02zM25 10h1.02v1.02h-1.02zM26 10h1.02v1.02h-1.02zM21 11h1.02v1.02h-1.02zM1 12h1.02v1.02h-1.02zM27 12h1.02v1.02h-1.02zM5 13h1.02v1.02h-1.02zM3 14h1.02v1.02h-1.02zM13 14h1.02v1.02h-1.02zM15 16h1.02v1.02h-1.02zM14 17h1.02v1.02h-1.02zM15 17h1.02v1.02h-1.02zM19 18h1.02v1.02h-1.02zM20 18h1.02v1.02h-1.02zM20 21h1.02v1.02h-1.02zM21 21h1.02v1.02h-1.02zM14 23h1.02v1.02h-1.02zM24 23h1.02v1.02h-1.02zM4 24h1.02v1.02h-1.02zM16 24h1.02v1.02h-1.02zM21 24h1.02v1.02h-1.02zM27 24h1.02v1.02h-1.02zM28 24h1.02v1.02h-1.02zM13 25h1.02v1.02h-1.02zM16 25h1.02v1.02h-1.02zM18 25h1.02v1.02h-1.02zM27 25h1.02v1.02h-1.02zM13 26h1.02v1.02h-1.02zM14 26h1.02v1.02h-1.02zM15 26h1.02v1.02h-1.02zM18 26h1.02v1.02h-1.02zM21 26h1.02v1.02h-1.02zM27 26h1.02v1.02h-1.02zM29 26h1.02v1.02h-1.02zM20 27h1.02v1.02h-1.02zM23 27h1.02v1.02h-1.02zM24 27h1.02v1.02h-1.02zM26 27h1.02v1.02h-1.02z" fill="#851c16"/>
<path d="M17 1h1.02v1.02h-1.02zM15 2h1.02v1.02h-1.02zM18 2h1.02v1.02h-1.02zM2 5h1.02v1.02h-1.02zM17 7h1.02v1.02h-1.02zM13 8h1.02v1.02h-1.02zM14 8h1.02v1.02h-1.02zM19 8h1.02v1.02h-1.02zM22 8h1.02v1.02h-1.02zM27 9h1.02v1.02h-1.02zM2 12h1.02v1.02h-1.02zM20 12h1.02v1.02h-1.02zM21 12h1.02v1.02h-1.02zM22 12h1.02v1.02h-1.02zM2 13h1.02v1.02h-1.02zM3 13h1.02v1.02h-1.02zM13 13h1.02v1.02h-1.02zM4 14h1.02v1.02h-1.02zM15 14h1.02v1.02h-1.02zM14 15h1.02v1.02h-1.02zM15 15h1.02v1.02h-1.02zM14 16h1.02v1.02h-1.02zM18 18h1.02v1.02h-1.02zM13 23h1.02v1.02h-1.02zM19 23h1.02v1.02h-1.02zM26 23h1.02v1.02h-1.02zM2 24h1.02v1.02h-1.02zM3 24h1.02v1.02h-1.02zM18 24h1.02v1.02h-1.02zM22 24h1.02v1.02h-1.02zM23 24h1.02v1.02h-1.02zM26 24h1.02v1.02h-1.02zM15 25h1.02v1.02h-1.02zM19 25h1.02v1.02h-1.02zM20 25h1.02v1.02h-1.02zM28 25h1.02v1.02h-1.02zM29 25h1.02v1.02h-1.02zM19 26h1.02v1.02h-1.02zM20 26h1.02v1.02h-1.02z" fill="#a8221b"/>
<path d="M3 0h1.02v1.02h-1.02zM4 0h1.02v1.02h-1.02zM2 1h1.02v1.02h-1.02zM16 2h1.02v1.02h-1.02zM17 2h1.02v1.02h-1.02zM19 2h1.02v1.02h-1.02zM4 5h1.02v1.02h-1.02zM2 7h1.02v1.02h-1.02zM3 7h1.02v1.02h-1.02zM12 7h1.02v1.02h-1.02zM20 8h1.02v1.02h-1.02zM21 8h1.02v1.02h-1.02zM4 12h1.02v1.02h-1.02zM4 13h1.02v1.02h-1.02zM14 13h1.02v1.02h-1.02zM14 14h1.02v1.02h-1.02zM20 23h1.02v1.02h-1.02zM21 23h1.02v1.02h-1.02zM14 24h1.02v1.02h-1.02zM15 24h1.02v1.02h-1.02zM19 24h1.02v1.02h-1.02zM20 24h1.02v1.02h-1.02zM24 24h1.02v1.02h-1.02zM4 25h1.02v1.02h-1.02zM21 25h1.02v1.02h-1.02zM22 25h1.02v1.02h-1.02zM16 26h1.02v1.02h-1.02zM22 26h1.02v1.02h-1.02zM23 26h1.02v1.02h-1.02zM3 27h1.02v1.02h-1.02zM25 27h1.02v1.02h-1.02z" fill="#ca271f"/>
<path d="M4 1h1.02v1.02h-1.02zM13 1h1.02v1.02h-1.02zM14 1h1.02v1.02h-1.02zM15 1h1.02v1.02h-1.02zM16 1h1.02v1.02h-1.02zM21 4h1.02v1.02h-1.02zM3 5h1.02v1.02h-1.02zM16 7h1.02v1.02h-1.02zM19 10h1.02v1.02h-1.02zM22 11h1.02v1.02h-1.02zM17 18h1.02v1.02h-1.02zM13 24h1.02v1.02h-1.02zM25 24h1.02v1.02h-1.02zM23 25h1.02v1.02h-1.02zM26 25h1.02v1.02h-1.02zM24 26h1.02v1.02h-1.02z" fill="#e62c23"/>
<path d="M21 2h1.02v1.02h-1.02zM22 2h1.02v1.02h-1.02zM4 6h1.02v1.02h-1.02zM13 7h1.02v1.02h-1.02zM3 12h1.02v1.02h-1.02zM26 26h1.02v1.02h-1.02z" fill="#ff3326"/>
<path d="M2 6h1.02v1.02h-1.02zM20 9h1.02v1.02h-1.02zM25 23h1.02v1.02h-1.02z" fill="#ff4d21"/>
<path d="M3 1h1.02v1.02h-1.02zM21 9h1.02v1.02h-1.02z" fill="#ff671c"/>
<path d="M20 2h1.02v1.02h-1.02z" fill="#ff8017"/>
<path d="M14 7h1.02v1.02h-1.02zM15 7h1.02v1.02h-1.02zM24 25h1.02v1.02h-1.02z" fill="#ff9a13"/>
<path d="M3 6h1.02v1.02h-1.02z" fill="#ffdd06"/>
<path d="M21 3h1.02v1.02h-1.02zM25 26h1.02v1.02h-1.02z" fill="#ffff18"/>
<path d="M25 25h1.02v1.02h-1.02z" fill="#ffffff"/>
</g></g></g>
<rect x="266.6" y="15.1" width="96.30" height="85.50" fill="none" stroke="#222" stroke-width="0.6"/>
<line x1="270.3" y1="100.6" x2="270.3" y2="102.39999999999999" stroke="#222" stroke-width="0.6"/>
<text x="270.3" y="110.4" font-size="7.7" text-anchor="middle" font-weight="normal" fill="#151515">5</text>
<line x1="299.9" y1="100.6" x2="299.9" y2="102.39999999999999" stroke="#222" stroke-width="0.6"/>
<text x="299.9" y="110.4" font-size="7.7" text-anchor="middle" font-weight="normal" fill="#151515">6</text>
<line x1="329.5" y1="100.6" x2="329.5" y2="102.39999999999999" stroke="#222" stroke-width="0.6"/>
<text x="329.5" y="110.4" font-size="7.7" text-anchor="middle" font-weight="normal" fill="#151515">7</text>
<line x1="359.1" y1="100.6" x2="359.1" y2="102.39999999999999" stroke="#222" stroke-width="0.6"/>
<text x="359.1" y="110.4" font-size="7.7" text-anchor="middle" font-weight="normal" fill="#151515">8</text>
<line x1="266.6" y1="17.4" x2="264.8" y2="17.4" stroke="#222" stroke-width="0.6"/>
<text x="263.3" y="20.049999999999997" font-size="7.7" text-anchor="end" font-weight="normal" fill="#151515">8</text>
<line x1="266.6" y1="36.6" x2="264.8" y2="36.6" stroke="#222" stroke-width="0.6"/>
<text x="263.3" y="39.25" font-size="7.7" text-anchor="end" font-weight="normal" fill="#151515">7</text>
<line x1="266.6" y1="55.9" x2="264.8" y2="55.9" stroke="#222" stroke-width="0.6"/>
<text x="263.3" y="58.55" font-size="7.7" text-anchor="end" font-weight="normal" fill="#151515">6</text>
<line x1="266.6" y1="75.1" x2="264.8" y2="75.1" stroke="#222" stroke-width="0.6"/>
<text x="263.3" y="77.75" font-size="7.7" text-anchor="end" font-weight="normal" fill="#151515">5</text>
<line x1="266.6" y1="94.3" x2="264.8" y2="94.3" stroke="#222" stroke-width="0.6"/>
<text x="263.3" y="96.95" font-size="7.7" text-anchor="end" font-weight="normal" fill="#151515">4</text>
<text x="317.75" y="121.3" font-size="8.7" text-anchor="middle" font-weight="normal" fill="#151515" textLength="36.3" lengthAdjust="spacingAndGlyphs">FITC [arb]</text>
<text x="253.6" y="56.3" font-size="8.7" text-anchor="middle" font-weight="normal" fill="#151515" textLength="35.5" lengthAdjust="spacingAndGlyphs" transform="rotate(-90 253.6 56.3)">Cy5 [arb]</text>
<rect x="405.4" y="15.1" width="96.30" height="85.50" fill="#160b09"/>
<clipPath id="hc405"><rect x="405.4" y="15.1" width="96.30" height="85.50"/></clipPath>
<g clip-path="url(#hc405)"><g filter="url(#hbl)"><g transform="translate(405.4 15.1) scale(3.2100 2.8500)">
<path d="M3 15h1.02v1.02h-1.02zM16 18h1.02v1.02h-1.02z" fill="#320e0c"/>
<path d="M24 1h1.02v1.02h-1.02zM1 3h1.02v1.02h-1.02zM3 3h1.02v1.02h-1.02zM5 3h1.02v1.02h-1.02zM6 3h1.02v1.02h-1.02zM17 3h1.02v1.02h-1.02zM7 4h1.02v1.02h-1.02zM12 5h1.02v1.02h-1.02zM6 6h1.02v1.02h-1.02zM5 7h1.02v1.02h-1.02zM20 7h1.02v1.02h-1.02zM27 7h1.02v1.02h-1.02zM4 8h1.02v1.02h-1.02zM24 9h1.02v1.02h-1.02zM2 10h1.02v1.02h-1.02zM1 12h1.02v1.02h-1.02zM5 13h1.02v1.02h-1.02zM19 15h1.02v1.02h-1.02zM26 15h1.02v1.02h-1.02zM27 18h1.02v1.02h-1.02zM14 22h1.02v1.02h-1.02zM14 24h1.02v1.02h-1.02zM1 27h1.02v1.02h-1.02zM17 28h1.02v1.02h-1.02zM16 29h1.02v1.02h-1.02zM28 29h1.02v1.02h-1.02z" fill="#40100d"/>
<path d="M7 0h1.02v1.02h-1.02zM7 1h1.02v1.02h-1.02zM22 2h1.02v1.02h-1.02zM28 2h1.02v1.02h-1.02zM7 3h1.02v1.02h-1.02zM21 3h1.02v1.02h-1.02zM19 4h1.02v1.02h-1.02zM27 4h1.02v1.02h-1.02zM28 4h1.02v1.02h-1.02zM1 5h1.02v1.02h-1.02zM18 5h1.02v1.02h-1.02zM19 6h1.02v1.02h-1.02zM28 6h1.02v1.02h-1.02zM2 7h1.02v1.02h-1.02zM17 7h1.02v1.02h-1.02zM3 8h1.02v1.02h-1.02zM21 8h1.02v1.02h-1.02zM0 9h1.02v1.02h-1.02zM19 9h1.02v1.02h-1.02zM26 9h1.02v1.02h-1.02zM17 10h1.02v1.02h-1.02zM23 10h1.02v1.02h-1.02zM29 10h1.02v1.02h-1.02zM6 11h1.02v1.02h-1.02zM5 12h1.02v1.02h-1.02zM6 12h1.02v1.02h-1.02zM24 12h1.02v1.02h-1.02zM27 12h1.02v1.02h-1.02zM11 13h1.02v1.02h-1.02zM17 13h1.02v1.02h-1.02zM18 13h1.02v1.02h-1.02zM27 13h1.02v1.02h-1.02zM16 14h1.02v1.02h-1.02zM18 14h1.02v1.02h-1.02zM20 14h1.02v1.02h-1.02zM22 14h1.02v1.02h-1.02zM17 15h1.02v1.02h-1.02zM21 15h1.02v1.02h-1.02zM3 16h1.02v1.02h-1.02zM18 16h1.02v1.02h-1.02zM19 16h1.02v1.02h-1.02zM22 16h1.02v1.02h-1.02zM25 16h1.02v1.02h-1.02zM4 17h1.02v1.02h-1.02zM7 17h1.02v1.02h-1.02zM11 17h1.02v1.02h-1.02zM17 17h1.02v1.02h-1.02zM22 17h1.02v1.02h-1.02zM5 18h1.02v1.02h-1.02zM6 18h1.02v1.02h-1.02zM11 18h1.02v1.02h-1.02zM1 19h1.02v1.02h-1.02zM5 19h1.02v1.02h-1.02zM12 19h1.02v1.02h-1.02zM18 19h1.02v1.02h-1.02zM26 19h1.02v1.02h-1.02zM22 20h1.02v1.02h-1.02zM17 21h1.02v1.02h-1.02zM4 23h1.02v1.02h-1.02zM19 23h1.02v1.02h-1.02zM10 24h1.02v1.02h-1.02zM20 24h1.02v1.02h-1.02zM22 25h1.02v1.02h-1.02zM24 25h1.02v1.02h-1.02zM27 25h1.02v1.02h-1.02zM28 25h1.02v1.02h-1.02zM28 26h1.02v1.02h-1.02zM6 27h1.02v1.02h-1.02zM17 27h1.02v1.02h-1.02zM28 27h1.02v1.02h-1.02zM26 28h1.02v1.02h-1.02zM27 28h1.02v1.02h-1.02zM28 28h1.02v1.02h-1.02zM2 29h1.02v1.02h-1.02zM3 29h1.02v1.02h-1.02zM5 29h1.02v1.02h-1.02zM22 29h1.02v1.02h-1.02z" fill="#541410"/>
<path d="M19 3h1.02v1.02h-1.02zM20 3h1.02v1.02h-1.02zM3 4h1.02v1.02h-1.02zM5 4h1.02v1.02h-1.02zM23 4h1.02v1.02h-1.02zM6 5h1.02v1.02h-1.02zM19 5h1.02v1.02h-1.02zM28 5h1.02v1.02h-1.02zM23 6h1.02v1.02h-1.02zM27 6h1.02v1.02h-1.02zM24 8h1.02v1.02h-1.02zM19 10h1.02v1.02h-1.02zM20 10h1.02v1.02h-1.02zM3 11h1.02v1.02h-1.02zM15 11h1.02v1.02h-1.02zM19 11h1.02v1.02h-1.02zM28 11h1.02v1.02h-1.02zM13 13h1.02v1.02h-1.02zM19 13h1.02v1.02h-1.02zM3 14h1.02v1.02h-1.02zM4 14h1.02v1.02h-1.02zM23 15h1.02v1.02h-1.02zM24 16h1.02v1.02h-1.02zM14 17h1.02v1.02h-1.02zM15 17h1.02v1.02h-1.02zM23 17h1.02v1.02h-1.02zM26 17h1.02v1.02h-1.02zM27 17h1.02v1.02h-1.02zM28 17h1.02v1.02h-1.02zM29 17h1.02v1.02h-1.02zM14 18h1.02v1.02h-1.02zM23 18h1.02v1.02h-1.02zM26 18h1.02v1.02h-1.02zM11 19h1.02v1.02h-1.02zM16 19h1.02v1.02h-1.02zM17 19h1.02v1.02h-1.02zM3 20h1.02v1.02h-1.02zM16 20h1.02v1.02h-1.02zM19 20h1.02v1.02h-1.02zM3 25h1.02v1.02h-1.02zM15 25h1.02v1.02h-1.02zM23 25h1.02v1.02h-1.02zM25 25h1.02v1.02h-1.02zM6 26h1.02v1.02h-1.02zM15 26h1.02v1.02h-1.02zM27 26h1.02v1.02h-1.02zM27 27h1.02v1.02h-1.02zM5 28h1.02v1.02h-1.02zM16 28h1.02v1.02h-1.02zM18 28h1.02v1.02h-1.02zM24 28h1.02v1.02h-1.02zM25 28h1.02v1.02h-1.02zM12 29h1.02v1.02h-1.02zM13 29h1.02v1.02h-1.02zM19 29h1.02v1.02h-1.02zM25 29h1.02v1.02h-1.02z" fill="#691713"/>
<path d="M21 1h1.02v1.02h-1.02zM22 1h1.02v1.02h-1.02zM25 2h1.02v1.02h-1.02zM26 2h1.02v1.02h-1.02zM25 3h1.02v1.02h-1.02zM26 3h1.02v1.02h-1.02zM29 3h1.02v1.02h-1.02zM2 4h1.02v1.02h-1.02zM4 4h1.02v1.02h-1.02zM6 4h1.02v1.02h-1.02zM20 4h1.02v1.02h-1.02zM21 4h1.02v1.02h-1.02zM16 5h1.02v1.02h-1.02zM5 6h1.02v1.02h-1.02zM17 6h1.02v1.02h-1.02zM25 6h1.02v1.02h-1.02zM26 6h1.02v1.02h-1.02zM1 7h1.02v1.02h-1.02zM4 7h1.02v1.02h-1.02zM13 7h1.02v1.02h-1.02zM14 7h1.02v1.02h-1.02zM16 7h1.02v1.02h-1.02zM28 10h1.02v1.02h-1.02zM17 11h1.02v1.02h-1.02zM18 11h1.02v1.02h-1.02zM24 11h1.02v1.02h-1.02zM25 11h1.02v1.02h-1.02zM13 12h1.02v1.02h-1.02zM18 12h1.02v1.02h-1.02zM16 13h1.02v1.02h-1.02zM23 13h1.02v1.02h-1.02zM21 14h1.02v1.02h-1.02zM25 14h1.02v1.02h-1.02zM26 14h1.02v1.02h-1.02zM16 17h1.02v1.02h-1.02zM18 17h1.02v1.02h-1.02zM19 17h1.02v1.02h-1.02zM20 17h1.02v1.02h-1.02zM21 17h1.02v1.02h-1.02zM2 18h1.02v1.02h-1.02zM18 18h1.02v1.02h-1.02zM22 18h1.02v1.02h-1.02zM4 19h1.02v1.02h-1.02zM15 19h1.02v1.02h-1.02zM22 19h1.02v1.02h-1.02zM23 19h1.02v1.02h-1.02zM25 19h1.02v1.02h-1.02zM13 20h1.02v1.02h-1.02zM14 20h1.02v1.02h-1.02zM15 20h1.02v1.02h-1.02zM25 20h1.02v1.02h-1.02zM13 25h1.02v1.02h-1.02zM19 25h1.02v1.02h-1.02zM5 26h1.02v1.02h-1.02zM12 26h1.02v1.02h-1.02zM5 27h1.02v1.02h-1.02zM2 28h1.02v1.02h-1.02zM11 28h1.02v1.02h-1.02zM15 28h1.02v1.02h-1.02zM19 28h1.02v1.02h-1.02zM20 28h1.02v1.02h-1.02zM22 28h1.02v1.02h-1.02zM23 28h1.02v1.02h-1.02zM14 29h1.02v1.02h-1.02zM15 29h1.02v1.02h-1.02z" fill="#851c16"/>
<path d="M18 4h1.02v1.02h-1.02zM2 5h1.02v1.02h-1.02zM15 5h1.02v1.02h-1.02zM17 5h1.02v1.02h-1.02zM20 5h1.02v1.02h-1.02zM25 5h1.02v1.02h-1.02zM16 6h1.02v1.02h-1.02zM18 6h1.02v1.02h-1.02zM20 6h1.02v1.02h-1.02zM21 11h1.02v1.02h-1.02zM26 11h1.02v1.02h-1.02zM2 12h1.02v1.02h-1.02zM19 12h1.02v1.02h-1.02zM22 12h1.02v1.02h-1.02zM23 12h1.02v1.02h-1.02zM2 13h1.02v1.02h-1.02zM12 13h1.02v1.02h-1.02zM20 13h1.02v1.02h-1.02zM21 13h1.02v1.02h-1.02zM22 13h1.02v1.02h-1.02zM25 13h1.02v1.02h-1.02zM14 14h1.02v1.02h-1.02zM15 14h1.02v1.02h-1.02zM3 17h1.02v1.02h-1.02zM24 17h1.02v1.02h-1.02zM25 17h1.02v1.02h-1.02zM12 18h1.02v1.02h-1.02zM17 18h1.02v1.02h-1.02zM13 19h1.02v1.02h-1.02zM19 19h1.02v1.02h-1.02zM21 19h1.02v1.02h-1.02zM24 19h1.02v1.02h-1.02zM5 25h1.02v1.02h-1.02zM21 25h1.02v1.02h-1.02zM2 26h1.02v1.02h-1.02zM16 26h1.02v1.02h-1.02zM18 26h1.02v1.02h-1.02zM22 26h1.02v1.02h-1.02zM23 26h1.02v1.02h-1.02zM26 26h1.02v1.02h-1.02zM29 26h1.02v1.02h-1.02zM12 27h1.02v1.02h-1.02zM15 27h1.02v1.02h-1.02zM16 27h1.02v1.02h-1.02zM18 27h1.02v1.02h-1.02zM22 27h1.02v1.02h-1.02zM26 27h1.02v1.02h-1.02zM12 28h1.02v1.02h-1.02zM21 28h1.02v1.02h-1.02z" fill="#a8221b"/>
<path d="M22 4h1.02v1.02h-1.02zM3 5h1.02v1.02h-1.02zM5 5h1.02v1.02h-1.02zM13 5h1.02v1.02h-1.02zM23 5h1.02v1.02h-1.02zM26 5h1.02v1.02h-1.02zM3 12h1.02v1.02h-1.02zM4 12h1.02v1.02h-1.02zM14 12h1.02v1.02h-1.02zM21 12h1.02v1.02h-1.02zM25 12h1.02v1.02h-1.02zM26 12h1.02v1.02h-1.02zM15 13h1.02v1.02h-1.02zM26 13h1.02v1.02h-1.02zM3 18h1.02v1.02h-1.02zM4 18h1.02v1.02h-1.02zM2 19h1.02v1.02h-1.02zM3 19h1.02v1.02h-1.02zM20 19h1.02v1.02h-1.02zM4 25h1.02v1.02h-1.02zM14 25h1.02v1.02h-1.02zM14 26h1.02v1.02h-1.02zM17 26h1.02v1.02h-1.02zM19 26h1.02v1.02h-1.02zM20 26h1.02v1.02h-1.02zM25 26h1.02v1.02h-1.02zM21 27h1.02v1.02h-1.02zM23 27h1.02v1.02h-1.02zM24 27h1.02v1.02h-1.02zM25 27h1.02v1.02h-1.02zM4 28h1.02v1.02h-1.02z" fill="#ca271f"/>
<path d="M26 4h1.02v1.02h-1.02zM4 5h1.02v1.02h-1.02zM14 5h1.02v1.02h-1.02zM13 6h1.02v1.02h-1.02zM3 7h1.02v1.02h-1.02zM3 13h1.02v1.02h-1.02zM19 18h1.02v1.02h-1.02zM25 18h1.02v1.02h-1.02zM3 26h1.02v1.02h-1.02zM4 26h1.02v1.02h-1.02zM13 26h1.02v1.02h-1.02zM21 26h1.02v1.02h-1.02zM13 28h1.02v1.02h-1.02zM14 28h1.02v1.02h-1.02z" fill="#e62c23"/>
<path d="M25 4h1.02v1.02h-1.02zM2 6h1.02v1.02h-1.02zM4 13h1.02v1.02h-1.02zM14 13h1.02v1.02h-1.02zM20 18h1.02v1.02h-1.02zM24 18h1.02v1.02h-1.02zM2 27h1.02v1.02h-1.02zM14 27h1.02v1.02h-1.02zM3 28h1.02v1.02h-1.02z" fill="#ff3326"/>
<path d="M22 6h1.02v1.02h-1.02zM15 12h1.02v1.02h-1.02zM13 18h1.02v1.02h-1.02zM14 19h1.02v1.02h-1.02zM24 26h1.02v1.02h-1.02zM4 27h1.02v1.02h-1.02zM13 27h1.02v1.02h-1.02z" fill="#ff4d21"/>
<path d="M22 5h1.02v1.02h-1.02zM14 6h1.02v1.02h-1.02zM15 18h1.02v1.02h-1.02zM19 27h1.02v1.02h-1.02z" fill="#ff671c"/>
<path d="M15 6h1.02v1.02h-1.02z" fill="#ff8017"/>
<path d="M27 5h1.02v1.02h-1.02zM4 6h1.02v1.02h-1.02zM16 12h1.02v1.02h-1.02zM21 18h1.02v1.02h-1.02z" fill="#ffaf0f"/>
<path d="M3 6h1.02v1.02h-1.02zM21 6h1.02v1.02h-1.02zM20 12h1.02v1.02h-1.02zM3 27h1.02v1.02h-1.02zM20 27h1.02v1.02h-1.02z" fill="#ffdd06"/>
<path d="M21 5h1.02v1.02h-1.02z" fill="#ffffff"/>
</g></g></g>
<rect x="405.4" y="15.1" width="96.30" height="85.50" fill="none" stroke="#222" stroke-width="0.6"/>
<line x1="409.6" y1="100.6" x2="409.6" y2="102.39999999999999" stroke="#222" stroke-width="0.6"/>
<text x="409.6" y="110.4" font-size="7.7" text-anchor="middle" font-weight="normal" fill="#151515">5</text>
<line x1="439.3" y1="100.6" x2="439.3" y2="102.39999999999999" stroke="#222" stroke-width="0.6"/>
<text x="439.3" y="110.4" font-size="7.7" text-anchor="middle" font-weight="normal" fill="#151515">6</text>
<line x1="469.0" y1="100.6" x2="469.0" y2="102.39999999999999" stroke="#222" stroke-width="0.6"/>
<text x="469.0" y="110.4" font-size="7.7" text-anchor="middle" font-weight="normal" fill="#151515">7</text>
<line x1="498.7" y1="100.6" x2="498.7" y2="102.39999999999999" stroke="#222" stroke-width="0.6"/>
<text x="498.7" y="110.4" font-size="7.7" text-anchor="middle" font-weight="normal" fill="#151515">8</text>
<line x1="405.4" y1="17.4" x2="403.59999999999997" y2="17.4" stroke="#222" stroke-width="0.6"/>
<text x="402.09999999999997" y="20.049999999999997" font-size="7.7" text-anchor="end" font-weight="normal" fill="#151515" textLength="9.3" lengthAdjust="spacingAndGlyphs">8.0</text>
<line x1="405.4" y1="33.95" x2="403.59999999999997" y2="33.95" stroke="#222" stroke-width="0.6"/>
<text x="402.09999999999997" y="36.6" font-size="7.7" text-anchor="end" font-weight="normal" fill="#151515" textLength="9.3" lengthAdjust="spacingAndGlyphs">7.5</text>
<line x1="405.4" y1="50.5" x2="403.59999999999997" y2="50.5" stroke="#222" stroke-width="0.6"/>
<text x="402.09999999999997" y="53.15" font-size="7.7" text-anchor="end" font-weight="normal" fill="#151515" textLength="9.3" lengthAdjust="spacingAndGlyphs">7.0</text>
<line x1="405.4" y1="67.05" x2="403.59999999999997" y2="67.05" stroke="#222" stroke-width="0.6"/>
<text x="402.09999999999997" y="69.7" font-size="7.7" text-anchor="end" font-weight="normal" fill="#151515" textLength="9.3" lengthAdjust="spacingAndGlyphs">6.5</text>
<line x1="405.4" y1="83.6" x2="403.59999999999997" y2="83.6" stroke="#222" stroke-width="0.6"/>
<text x="402.09999999999997" y="86.25" font-size="7.7" text-anchor="end" font-weight="normal" fill="#151515" textLength="9.3" lengthAdjust="spacingAndGlyphs">6.0</text>
<line x1="405.4" y1="100.1" x2="403.59999999999997" y2="100.1" stroke="#222" stroke-width="0.6"/>
<text x="402.09999999999997" y="102.75" font-size="7.7" text-anchor="end" font-weight="normal" fill="#151515" textLength="9.3" lengthAdjust="spacingAndGlyphs">5.5</text>
<text x="456.54999999999995" y="121.3" font-size="8.7" text-anchor="middle" font-weight="normal" fill="#151515" textLength="36.3" lengthAdjust="spacingAndGlyphs">FITC [arb]</text>
<text x="386.9" y="58.15" font-size="8.7" text-anchor="middle" font-weight="normal" fill="#151515" textLength="71.3" lengthAdjust="spacingAndGlyphs" transform="rotate(-90 386.9 58.15)">Cascade Blue [arb]</text>
<rect x="545.9" y="15.1" width="95.60" height="85.50" fill="#160b09"/>
<clipPath id="hc545"><rect x="545.9" y="15.1" width="95.60" height="85.50"/></clipPath>
<g clip-path="url(#hc545)"><g filter="url(#hbl)"><g transform="translate(545.9 15.1) scale(3.1867 2.8500)">
<path d="M15 0h1.02v1.02h-1.02zM5 2h1.02v1.02h-1.02zM17 2h1.02v1.02h-1.02zM18 2h1.02v1.02h-1.02zM11 7h1.02v1.02h-1.02zM26 8h1.02v1.02h-1.02zM2 9h1.02v1.02h-1.02zM5 9h1.02v1.02h-1.02zM1 10h1.02v1.02h-1.02zM10 10h1.02v1.02h-1.02zM16 10h1.02v1.02h-1.02zM14 11h1.02v1.02h-1.02zM24 11h1.02v1.02h-1.02zM12 13h1.02v1.02h-1.02zM18 13h1.02v1.02h-1.02zM12 14h1.02v1.02h-1.02zM13 14h1.02v1.02h-1.02zM18 14h1.02v1.02h-1.02zM11 15h1.02v1.02h-1.02zM17 15h1.02v1.02h-1.02zM18 15h1.02v1.02h-1.02zM20 15h1.02v1.02h-1.02zM23 15h1.02v1.02h-1.02zM19 16h1.02v1.02h-1.02zM22 16h1.02v1.02h-1.02zM23 16h1.02v1.02h-1.02zM13 17h1.02v1.02h-1.02zM18 19h1.02v1.02h-1.02zM9 20h1.02v1.02h-1.02zM27 23h1.02v1.02h-1.02zM29 24h1.02v1.02h-1.02zM0 25h1.02v1.02h-1.02zM16 25h1.02v1.02h-1.02zM17 26h1.02v1.02h-1.02zM15 29h1.02v1.02h-1.02zM16 29h1.02v1.02h-1.02z" fill="#40100d"/>
<path d="M3 1h1.02v1.02h-1.02zM6 1h1.02v1.02h-1.02zM7 1h1.02v1.02h-1.02zM18 1h1.02v1.02h-1.02zM23 1h1.02v1.02h-1.02zM28 1h1.02v1.02h-1.02zM6 3h1.02v1.02h-1.02zM17 3h1.02v1.02h-1.02zM19 3h1.02v1.02h-1.02zM25 3h1.02v1.02h-1.02zM2 4h1.02v1.02h-1.02zM8 4h1.02v1.02h-1.02zM10 4h1.02v1.02h-1.02zM24 4h1.02v1.02h-1.02zM28 4h1.02v1.02h-1.02zM29 4h1.02v1.02h-1.02zM13 5h1.02v1.02h-1.02zM21 5h1.02v1.02h-1.02zM21 6h1.02v1.02h-1.02zM2 7h1.02v1.02h-1.02zM5 7h1.02v1.02h-1.02zM16 7h1.02v1.02h-1.02zM18 7h1.02v1.02h-1.02zM20 7h1.02v1.02h-1.02zM28 7h1.02v1.02h-1.02zM29 7h1.02v1.02h-1.02zM2 8h1.02v1.02h-1.02zM17 8h1.02v1.02h-1.02zM21 8h1.02v1.02h-1.02zM19 9h1.02v1.02h-1.02zM26 9h1.02v1.02h-1.02zM21 10h1.02v1.02h-1.02zM1 11h1.02v1.02h-1.02zM2 11h1.02v1.02h-1.02zM16 11h1.02v1.02h-1.02zM7 12h1.02v1.02h-1.02zM15 12h1.02v1.02h-1.02zM17 12h1.02v1.02h-1.02zM1 13h1.02v1.02h-1.02zM7 13h1.02v1.02h-1.02zM29 13h1.02v1.02h-1.02zM2 14h1.02v1.02h-1.02zM4 14h1.02v1.02h-1.02zM5 14h1.02v1.02h-1.02zM6 14h1.02v1.02h-1.02zM15 14h1.02v1.02h-1.02zM26 14h1.02v1.02h-1.02zM5 15h1.02v1.02h-1.02zM4 16h1.02v1.02h-1.02zM11 16h1.02v1.02h-1.02zM13 16h1.02v1.02h-1.02zM17 16h1.02v1.02h-1.02zM27 16h1.02v1.02h-1.02zM1 17h1.02v1.02h-1.02zM11 17h1.02v1.02h-1.02zM18 17h1.02v1.02h-1.02zM8 18h1.02v1.02h-1.02zM9 18h1.02v1.02h-1.02zM13 18h1.02v1.02h-1.02zM14 18h1.02v1.02h-1.02zM18 18h1.02v1.02h-1.02zM25 18h1.02v1.02h-1.02zM8 19h1.02v1.02h-1.02zM12 19h1.02v1.02h-1.02zM14 19h1.02v1.02h-1.02zM19 19h1.02v1.02h-1.02zM24 19h1.02v1.02h-1.02zM4 20h1.02v1.02h-1.02zM5 20h1.02v1.02h-1.02zM12 20h1.02v1.02h-1.02zM13 20h1.02v1.02h-1.02zM17 20h1.02v1.02h-1.02zM28 20h1.02v1.02h-1.02zM7 24h1.02v1.02h-1.02zM15 24h1.02v1.02h-1.02zM21 25h1.02v1.02h-1.02zM24 25h1.02v1.02h-1.02zM8 26h1.02v1.02h-1.02zM10 26h1.02v1.02h-1.02zM16 26h1.02v1.02h-1.02zM9 27h1.02v1.02h-1.02zM10 27h1.02v1.02h-1.02zM12 27h1.02v1.02h-1.02zM13 27h1.02v1.02h-1.02zM18 27h1.02v1.02h-1.02zM8 28h1.02v1.02h-1.02zM11 28h1.02v1.02h-1.02zM12 28h1.02v1.02h-1.02zM15 28h1.02v1.02h-1.02zM20 28h1.02v1.02h-1.02zM24 28h1.02v1.02h-1.02zM3 29h1.02v1.02h-1.02zM4 29h1.02v1.02h-1.02zM5 29h1.02v1.02h-1.02zM22 29h1.02v1.02h-1.02zM26 29h1.02v1.02h-1.02z" fill="#541410"/>
<path d="M3 2h1.02v1.02h-1.02zM4 2h1.02v1.02h-1.02zM7 2h1.02v1.02h-1.02zM5 3h1.02v1.02h-1.02zM23 3h1.02v1.02h-1.02zM27 3h1.02v1.02h-1.02zM6 4h1.02v1.02h-1.02zM19 4h1.02v1.02h-1.02zM20 4h1.02v1.02h-1.02zM6 6h1.02v1.02h-1.02zM3 7h1.02v1.02h-1.02zM4 7h1.02v1.02h-1.02zM15 7h1.02v1.02h-1.02zM23 7h1.02v1.02h-1.02zM25 7h1.02v1.02h-1.02zM3 8h1.02v1.02h-1.02zM3 9h1.02v1.02h-1.02zM4 9h1.02v1.02h-1.02zM2 10h1.02v1.02h-1.02zM27 10h1.02v1.02h-1.02zM0 11h1.02v1.02h-1.02zM5 11h1.02v1.02h-1.02zM21 11h1.02v1.02h-1.02zM27 11h1.02v1.02h-1.02zM9 12h1.02v1.02h-1.02zM14 12h1.02v1.02h-1.02zM19 12h1.02v1.02h-1.02zM23 12h1.02v1.02h-1.02zM24 13h1.02v1.02h-1.02zM21 14h1.02v1.02h-1.02zM27 14h1.02v1.02h-1.02zM28 14h1.02v1.02h-1.02zM6 17h1.02v1.02h-1.02zM7 17h1.02v1.02h-1.02zM15 17h1.02v1.02h-1.02zM22 17h1.02v1.02h-1.02zM24 17h1.02v1.02h-1.02zM1 18h1.02v1.02h-1.02zM7 18h1.02v1.02h-1.02zM19 18h1.02v1.02h-1.02zM24 18h1.02v1.02h-1.02zM29 18h1.02v1.02h-1.02zM1 19h1.02v1.02h-1.02zM2 19h1.02v1.02h-1.02zM13 19h1.02v1.02h-1.02zM26 19h1.02v1.02h-1.02zM29 19h1.02v1.02h-1.02zM20 20h1.02v1.02h-1.02zM27 21h1.02v1.02h-1.02zM2 25h1.02v1.02h-1.02zM5 25h1.02v1.02h-1.02zM6 25h1.02v1.02h-1.02zM15 25h1.02v1.02h-1.02zM20 25h1.02v1.02h-1.02zM26 25h1.02v1.02h-1.02zM29 25h1.02v1.02h-1.02zM7 26h1.02v1.02h-1.02zM9 26h1.02v1.02h-1.02zM11 26h1.02v1.02h-1.02zM13 26h1.02v1.02h-1.02zM14 26h1.02v1.02h-1.02zM19 26h1.02v1.02h-1.02zM21 26h1.02v1.02h-1.02zM8 27h1.02v1.02h-1.02zM11 27h1.02v1.02h-1.02zM19 27h1.02v1.02h-1.02zM16 28h1.02v1.02h-1.02zM17 28h1.02v1.02h-1.02zM21 28h1.02v1.02h-1.02zM29 28h1.02v1.02h-1.02zM28 29h1.02v1.02h-1.02z" fill="#691713"/>
<path d="M4 3h1.02v1.02h-1.02zM17 4h1.02v1.02h-1.02zM18 4h1.02v1.02h-1.02zM23 4h1.02v1.02h-1.02zM27 4h1.02v1.02h-1.02zM2 5h1.02v1.02h-1.02zM6 5h1.02v1.02h-1.02zM8 5h1.02v1.02h-1.02zM10 5h1.02v1.02h-1.02zM11 5h1.02v1.02h-1.02zM12 5h1.02v1.02h-1.02zM14 5h1.02v1.02h-1.02zM16 5h1.02v1.02h-1.02zM23 5h1.02v1.02h-1.02zM24 5h1.02v1.02h-1.02zM25 5h1.02v1.02h-1.02zM28 5h1.02v1.02h-1.02zM20 6h1.02v1.02h-1.02zM29 6h1.02v1.02h-1.02zM22 7h1.02v1.02h-1.02zM27 7h1.02v1.02h-1.02zM3 10h1.02v1.02h-1.02zM19 10h1.02v1.02h-1.02zM28 11h1.02v1.02h-1.02zM1 12h1.02v1.02h-1.02zM2 12h1.02v1.02h-1.02zM11 12h1.02v1.02h-1.02zM24 12h1.02v1.02h-1.02zM26 12h1.02v1.02h-1.02zM2 13h1.02v1.02h-1.02zM16 13h1.02v1.02h-1.02zM17 13h1.02v1.02h-1.02zM25 14h1.02v1.02h-1.02zM5 16h1.02v1.02h-1.02zM2 17h1.02v1.02h-1.02zM21 17h1.02v1.02h-1.02zM2 18h1.02v1.02h-1.02zM26 18h1.02v1.02h-1.02zM27 18h1.02v1.02h-1.02zM7 19h1.02v1.02h-1.02zM15 19h1.02v1.02h-1.02zM16 19h1.02v1.02h-1.02zM17 19h1.02v1.02h-1.02zM21 19h1.02v1.02h-1.02zM23 19h1.02v1.02h-1.02zM27 19h1.02v1.02h-1.02zM21 20h1.02v1.02h-1.02zM27 20h1.02v1.02h-1.02zM3 25h1.02v1.02h-1.02zM4 25h1.02v1.02h-1.02zM23 25h1.02v1.02h-1.02zM6 26h1.02v1.02h-1.02zM15 26h1.02v1.02h-1.02zM20 26h1.02v1.02h-1.02zM22 26h1.02v1.02h-1.02zM24 26h1.02v1.02h-1.02zM29 26h1.02v1.02h-1.02zM2 27h1.02v1.02h-1.02zM6 27h1.02v1.02h-1.02zM15 27h1.02v1.02h-1.02zM20 27h1.02v1.02h-1.02zM24 27h1.02v1.02h-1.02zM29 27h1.02v1.02h-1.02zM2 28h1.02v1.02h-1.02zM6 28h1.02v1.02h-1.02zM23 28h1.02v1.02h-1.02zM26 28h1.02v1.02h-1.02zM2 29h1.02v1.02h-1.02zM27 29h1.02v1.02h-1.02z" fill="#851c16"/>
<path d="M3 3h1.02v1.02h-1.02zM16 4h1.02v1.02h-1.02zM15 5h1.02v1.02h-1.02zM26 5h1.02v1.02h-1.02zM29 5h1.02v1.02h-1.02zM16 6h1.02v1.02h-1.02zM18 6h1.02v1.02h-1.02zM19 6h1.02v1.02h-1.02zM24 6h1.02v1.02h-1.02zM25 6h1.02v1.02h-1.02zM26 6h1.02v1.02h-1.02zM3 11h1.02v1.02h-1.02zM4 11h1.02v1.02h-1.02zM11 11h1.02v1.02h-1.02zM20 12h1.02v1.02h-1.02zM21 12h1.02v1.02h-1.02zM22 12h1.02v1.02h-1.02zM29 12h1.02v1.02h-1.02zM4 13h1.02v1.02h-1.02zM5 13h1.02v1.02h-1.02zM20 13h1.02v1.02h-1.02zM3 14h1.02v1.02h-1.02zM3 17h1.02v1.02h-1.02zM4 17h1.02v1.02h-1.02zM5 17h1.02v1.02h-1.02zM27 17h1.02v1.02h-1.02zM3 18h1.02v1.02h-1.02zM15 18h1.02v1.02h-1.02zM16 18h1.02v1.02h-1.02zM17 18h1.02v1.02h-1.02zM20 18h1.02v1.02h-1.02zM21 18h1.02v1.02h-1.02zM23 18h1.02v1.02h-1.02zM5 19h1.02v1.02h-1.02zM6 19h1.02v1.02h-1.02zM20 19h1.02v1.02h-1.02zM27 25h1.02v1.02h-1.02zM28 25h1.02v1.02h-1.02zM2 26h1.02v1.02h-1.02zM26 26h1.02v1.02h-1.02zM27 26h1.02v1.02h-1.02zM7 27h1.02v1.02h-1.02zM16 27h1.02v1.02h-1.02zM21 27h1.02v1.02h-1.02zM26 27h1.02v1.02h-1.02zM3 28h1.02v1.02h-1.02zM22 28h1.02v1.02h-1.02z" fill="#a8221b"/>
<path d="M5 4h1.02v1.02h-1.02zM27 5h1.02v1.02h-1.02zM5 6h1.02v1.02h-1.02zM14 6h1.02v1.02h-1.02zM15 6h1.02v1.02h-1.02zM17 6h1.02v1.02h-1.02zM23 6h1.02v1.02h-1.02zM28 6h1.02v1.02h-1.02zM6 11h1.02v1.02h-1.02zM3 12h1.02v1.02h-1.02zM4 12h1.02v1.02h-1.02zM16 12h1.02v1.02h-1.02zM27 12h1.02v1.02h-1.02zM28 12h1.02v1.02h-1.02zM6 13h1.02v1.02h-1.02zM23 13h1.02v1.02h-1.02zM5 18h1.02v1.02h-1.02zM3 19h1.02v1.02h-1.02zM4 19h1.02v1.02h-1.02zM22 19h1.02v1.02h-1.02zM17 27h1.02v1.02h-1.02zM27 27h1.02v1.02h-1.02zM4 28h1.02v1.02h-1.02zM5 28h1.02v1.02h-1.02zM28 28h1.02v1.02h-1.02z" fill="#ca271f"/>
<path d="M3 4h1.02v1.02h-1.02zM5 5h1.02v1.02h-1.02zM17 5h1.02v1.02h-1.02zM18 5h1.02v1.02h-1.02zM19 5h1.02v1.02h-1.02zM20 5h1.02v1.02h-1.02zM4 6h1.02v1.02h-1.02zM22 6h1.02v1.02h-1.02zM27 6h1.02v1.02h-1.02zM3 26h1.02v1.02h-1.02zM5 26h1.02v1.02h-1.02zM23 26h1.02v1.02h-1.02zM28 26h1.02v1.02h-1.02zM22 27h1.02v1.02h-1.02zM27 28h1.02v1.02h-1.02z" fill="#e62c23"/>
<path d="M2 6h1.02v1.02h-1.02zM5 12h1.02v1.02h-1.02zM22 13h1.02v1.02h-1.02zM28 13h1.02v1.02h-1.02zM3 27h1.02v1.02h-1.02z" fill="#ff3326"/>
<path d="M4 4h1.02v1.02h-1.02zM3 5h1.02v1.02h-1.02zM4 18h1.02v1.02h-1.02zM28 18h1.02v1.02h-1.02zM28 19h1.02v1.02h-1.02z" fill="#ff4d21"/>
<path d="M4 5h1.02v1.02h-1.02zM3 6h1.02v1.02h-1.02zM27 13h1.02v1.02h-1.02zM22 18h1.02v1.02h-1.02zM28 27h1.02v1.02h-1.02z" fill="#ff671c"/>
<path d="M4 26h1.02v1.02h-1.02z" fill="#ff9a13"/>
<path d="M6 12h1.02v1.02h-1.02zM23 27h1.02v1.02h-1.02z" fill="#ffaf0f"/>
<path d="M4 27h1.02v1.02h-1.02z" fill="#ffdd06"/>
<path d="M22 5h1.02v1.02h-1.02zM6 18h1.02v1.02h-1.02z" fill="#ffff18"/>
<path d="M5 27h1.02v1.02h-1.02z" fill="#ffffff"/>
</g></g></g>
<rect x="545.9" y="15.1" width="95.60" height="85.50" fill="none" stroke="#222" stroke-width="0.6"/>
<line x1="553.2" y1="100.6" x2="553.2" y2="102.39999999999999" stroke="#222" stroke-width="0.6"/>
<text x="553.2" y="110.4" font-size="7.7" text-anchor="middle" font-weight="normal" fill="#151515">4</text>
<line x1="596.0" y1="100.6" x2="596.0" y2="102.39999999999999" stroke="#222" stroke-width="0.6"/>
<text x="596.0" y="110.4" font-size="7.7" text-anchor="middle" font-weight="normal" fill="#151515">6</text>
<line x1="638.8" y1="100.6" x2="638.8" y2="102.39999999999999" stroke="#222" stroke-width="0.6"/>
<text x="638.8" y="110.4" font-size="7.7" text-anchor="middle" font-weight="normal" fill="#151515">8</text>
<line x1="545.9" y1="17.4" x2="544.1" y2="17.4" stroke="#222" stroke-width="0.6"/>
<text x="542.6" y="20.049999999999997" font-size="7.7" text-anchor="end" font-weight="normal" fill="#151515" textLength="9.3" lengthAdjust="spacingAndGlyphs">8.0</text>
<line x1="545.9" y1="33.95" x2="544.1" y2="33.95" stroke="#222" stroke-width="0.6"/>
<text x="542.6" y="36.6" font-size="7.7" text-anchor="end" font-weight="normal" fill="#151515" textLength="9.3" lengthAdjust="spacingAndGlyphs">7.5</text>
<line x1="545.9" y1="50.5" x2="544.1" y2="50.5" stroke="#222" stroke-width="0.6"/>
<text x="542.6" y="53.15" font-size="7.7" text-anchor="end" font-weight="normal" fill="#151515" textLength="9.3" lengthAdjust="spacingAndGlyphs">7.0</text>
<line x1="545.9" y1="67.05" x2="544.1" y2="67.05" stroke="#222" stroke-width="0.6"/>
<text x="542.6" y="69.7" font-size="7.7" text-anchor="end" font-weight="normal" fill="#151515" textLength="9.3" lengthAdjust="spacingAndGlyphs">6.5</text>
<line x1="545.9" y1="83.6" x2="544.1" y2="83.6" stroke="#222" stroke-width="0.6"/>
<text x="542.6" y="86.25" font-size="7.7" text-anchor="end" font-weight="normal" fill="#151515" textLength="9.3" lengthAdjust="spacingAndGlyphs">6.0</text>
<line x1="545.9" y1="100.1" x2="544.1" y2="100.1" stroke="#222" stroke-width="0.6"/>
<text x="542.6" y="102.75" font-size="7.7" text-anchor="end" font-weight="normal" fill="#151515" textLength="9.3" lengthAdjust="spacingAndGlyphs">5.5</text>
<text x="596.7" y="121.3" font-size="8.7" text-anchor="middle" font-weight="normal" fill="#151515" textLength="34" lengthAdjust="spacingAndGlyphs">Cy5 [arb]</text>
<text x="527.4" y="58.15" font-size="8.7" text-anchor="middle" font-weight="normal" fill="#151515" textLength="71.3" lengthAdjust="spacingAndGlyphs" transform="rotate(-90 527.4 58.15)">Cascade Blue [arb]</text>
<defs><linearGradient id="hotg" x1="0" y1="0" x2="0" y2="1"><stop offset="0.00" stop-color="#ffffff"/><stop offset="0.05" stop-color="#ffffcd"/><stop offset="0.10" stop-color="#ffff9b"/><stop offset="0.15" stop-color="#ffff68"/><stop offset="0.20" stop-color="#ffff36"/><stop offset="0.25" stop-color="#ffff04"/><stop offset="0.30" stop-color="#ffe704"/><stop offset="0.35" stop-color="#ffce09"/><stop offset="0.40" stop-color="#ffb40e"/><stop offset="0.45" stop-color="#ff9a13"/><stop offset="0.50" stop-color="#ff8017"/><stop offset="0.55" stop-color="#ff671c"/><stop offset="0.60" stop-color="#ff4d21"/><stop offset="0.65" stop-color="#ff3326"/><stop offset="0.70" stop-color="#e62c23"/><stop offset="0.75" stop-color="#c3261e"/><stop offset="0.80" stop-color="#a1201a"/><stop offset="0.85" stop-color="#7e1b15"/><stop offset="0.90" stop-color="#5b1511"/><stop offset="0.95" stop-color="#390f0d"/><stop offset="1.00" stop-color="#160b09"/></linearGradient></defs>
<rect x="646.1" y="15.1" width="6.5" height="85.50" fill="url(#hotg)" stroke="#222" stroke-width="0.6"/>
<text x="661.2" y="57.4" font-size="8.5" text-anchor="middle" font-weight="normal" fill="#151515" textLength="41.2" lengthAdjust="spacingAndGlyphs" transform="rotate(-90 661.2 57.4)">Frequency</text>
<text x="229.9" y="151.3" font-size="18" text-anchor="start" font-weight="bold" fill="#111" textLength="8.4" lengthAdjust="spacingAndGlyphs">c</text>
<g fill="none" stroke-linecap="round" stroke-width="1.85">
<ellipse cx="310.0" cy="162.5" rx="1.4" ry="1.9" fill="#feeae0" stroke="none" transform="rotate(0 310.0 162.5)"/>
<path d="M309.9 160.5h0M311.4 161.8h0M311.3 161.5h0M309.0 162.8h0M309.1 160.8h0" stroke="#feeae0"/>
<ellipse cx="300.0" cy="173.5" rx="3.5" ry="1.8" fill="#feeae0" stroke="none" transform="rotate(-10 300.0 173.5)"/>
<path d="M302.5 174.5h0M302.6 174.4h0M301.7 172.4h0M300.7 174.9h0M302.8 171.7h0M303.2 172.6h0M298.4 172.2h0M302.9 172.5h0M303.7 172.6h0M298.8 175.5h0M301.7 174.6h0M302.8 173.7h0" stroke="#feeae0"/>
<ellipse cx="280.3" cy="183.3" rx="2.0" ry="1.6" fill="#feeae0" stroke="none" transform="rotate(0 280.3 183.3)"/>
<path d="M280.4 181.9h0M282.4 182.6h0M279.1 184.5h0M280.6 181.7h0M280.3 181.9h0M281.7 181.9h0" stroke="#feeae0"/>
<ellipse cx="285.3" cy="182.8" rx="2.3" ry="1.5" fill="#feeae0" stroke="none" transform="rotate(0 285.3 182.8)"/>
<path d="M286.4 183.8h0M287.8 182.8h0M287.2 183.2h0M282.7 182.4h0M285.5 184.3h0M286.4 181.4h0" stroke="#feeae0"/>
<ellipse cx="290.8" cy="183.6" rx="2.0" ry="1.8" fill="#feeae0" stroke="none" transform="rotate(0 290.8 183.6)"/>
<path d="M289.2 184.2h0M291.8 182.3h0M289.0 184.1h0M292.2 182.0h0M288.6 184.2h0M290.5 181.8h0" stroke="#feeae0"/>
<ellipse cx="282.6" cy="187.2" rx="1.9" ry="1.9" fill="#feeae0" stroke="none" transform="rotate(-18 282.6 187.2)"/>
<path d="M284.0 185.2h0M283.0 185.5h0M281.9 185.9h0M282.7 185.4h0M282.1 185.9h0" stroke="#feeae0"/>
<ellipse cx="288.2" cy="186.8" rx="2.0" ry="1.8" fill="#feeae0" stroke="none" transform="rotate(-18 288.2 186.8)"/>
<path d="M289.0 185.1h0M288.8 185.0h0M287.0 186.2h0M289.2 184.9h0M289.3 185.1h0" stroke="#feeae0"/>
<ellipse cx="281.2" cy="190.2" rx="1.6" ry="1.4" fill="#feeae0" stroke="none" transform="rotate(0 281.2 190.2)"/>
<path d="M282.0 191.5h0M279.7 189.5h0M279.7 190.9h0M281.5 188.8h0M280.9 188.8h0" stroke="#feeae0"/>
<ellipse cx="306.0" cy="183.0" rx="1.4" ry="1.5" fill="#feeae0" stroke="none" transform="rotate(0 306.0 183.0)"/>
<path d="M307.4 183.4h0M306.2 184.5h0M306.7 183.9h0M306.5 184.3h0M307.2 183.3h0" stroke="#feeae0"/>
<ellipse cx="293.5" cy="195.5" rx="2.4" ry="1.8" fill="#feeae0" stroke="none" transform="rotate(0 293.5 195.5)"/>
<path d="M291.6 196.4h0M294.5 194.2h0M295.8 195.9h0M295.6 196.5h0M292.2 197.0h0M295.9 195.0h0M291.2 196.4h0M291.8 194.0h0" stroke="#feeae0"/>
<ellipse cx="305.5" cy="197.0" rx="1.4" ry="1.4" fill="#feeae0" stroke="none" transform="rotate(0 305.5 197.0)"/>
<path d="M304.3 197.5h0M305.2 198.2h0M304.4 198.1h0M306.8 196.2h0M305.4 198.4h0" stroke="#feeae0"/>
<ellipse cx="272.5" cy="200.0" rx="2.2" ry="2.2" fill="#feeae0" stroke="none" transform="rotate(0 272.5 200.0)"/>
<path d="M270.5 200.3h0M271.2 198.7h0M271.9 202.1h0M273.6 197.9h0M270.9 199.7h0M274.3 199.2h0M272.6 202.4h0" stroke="#feeae0"/>
<ellipse cx="276.5" cy="201.5" rx="2.2" ry="1.8" fill="#feeae0" stroke="none" transform="rotate(0 276.5 201.5)"/>
<path d="M274.5 201.2h0M275.1 202.8h0M274.5 200.5h0M276.5 202.9h0M278.4 200.6h0M274.2 200.9h0" stroke="#feeae0"/>
<ellipse cx="279.5" cy="200.5" rx="1.6" ry="1.4" fill="#feeae0" stroke="none" transform="rotate(0 279.5 200.5)"/>
<path d="M280.2 199.4h0M280.2 199.6h0M277.9 201.1h0M279.8 199.3h0M280.6 201.7h0" stroke="#feeae0"/>
<ellipse cx="298.5" cy="205.5" rx="2.4" ry="1.8" fill="#feeae0" stroke="none" transform="rotate(0 298.5 205.5)"/>
<path d="M300.9 206.3h0M299.4 204.1h0M297.1 203.9h0M298.2 204.2h0M301.3 205.5h0M301.0 206.1h0M299.0 207.4h0" stroke="#feeae0"/>
<ellipse cx="281.5" cy="214.0" rx="2.4" ry="1.6" fill="#feeae0" stroke="none" transform="rotate(0 281.5 214.0)"/>
<path d="M283.3 214.5h0M281.4 212.3h0M283.3 215.4h0M280.5 215.5h0M279.0 214.1h0M279.6 215.3h0" stroke="#feeae0"/>
<ellipse cx="286.5" cy="213.0" rx="2.7" ry="1.8" fill="#feeae0" stroke="none" transform="rotate(-10 286.5 213.0)"/>
<path d="M288.3 213.9h0M284.8 214.4h0M287.8 214.4h0M284.9 211.8h0M285.4 212.0h0M288.1 213.7h0M286.7 214.7h0M283.5 213.8h0" stroke="#feeae0"/>
<ellipse cx="304.5" cy="218.5" rx="2.3" ry="1.9" fill="#feeae0" stroke="none" transform="rotate(14 304.5 218.5)"/>
<path d="M303.5 219.5h0M303.1 219.5h0M306.0 220.3h0M303.0 216.5h0M302.2 218.5h0M302.0 217.5h0M302.4 217.0h0" stroke="#feeae0"/>
<ellipse cx="295.5" cy="227.5" rx="2.4" ry="1.9" fill="#feeae0" stroke="none" transform="rotate(0 295.5 227.5)"/>
<path d="M297.5 228.6h0M296.6 228.9h0M293.7 228.7h0M297.1 229.2h0M295.1 229.2h0M295.0 229.1h0M293.3 227.7h0" stroke="#feeae0"/>
<ellipse cx="299.2" cy="229.0" rx="2.2" ry="1.9" fill="#feeae0" stroke="none" transform="rotate(0 299.2 229.0)"/>
<path d="M301.1 229.3h0M300.9 229.8h0M301.3 228.7h0M298.4 230.7h0M298.8 230.9h0M298.7 227.0h0" stroke="#feeae0"/>
<ellipse cx="322.0" cy="169.5" rx="2.4" ry="1.4" fill="#fb7a5a" stroke="none" transform="rotate(-10 322.0 169.5)"/>
<path d="M324.5 169.0h0M320.5 170.8h0M323.8 169.7h0M319.3 170.0h0M324.6 169.6h0M324.1 169.5h0M324.2 169.6h0" stroke="#fb7a5a"/>
<ellipse cx="335.5" cy="173.5" rx="2.0" ry="2.3" fill="#ad1117" stroke="none" transform="rotate(-21 335.5 173.5)"/>
<path d="M333.6 173.6h0M336.0 175.2h0M334.0 174.2h0M333.7 173.9h0M334.1 173.2h0M337.4 171.2h0M333.7 175.3h0M335.9 175.3h0" stroke="#ad1117"/>
<ellipse cx="315.5" cy="177.2" rx="1.5" ry="1.4" fill="#fb7a5a" stroke="none" transform="rotate(0 315.5 177.2)"/>
<path d="M316.7 178.0h0M314.9 178.4h0M314.0 176.7h0M314.6 176.0h0M314.1 176.5h0" stroke="#fb7a5a"/>
<ellipse cx="348.6" cy="181.5" rx="1.8" ry="2.2" fill="#990c13" stroke="none" transform="rotate(14 348.6 181.5)"/>
<path d="M349.8 183.5h0M349.3 183.2h0M347.9 179.5h0M350.1 183.0h0M346.8 179.9h0M349.9 182.6h0M347.7 182.4h0M350.5 181.7h0" stroke="#990c13"/>
<ellipse cx="317.7" cy="184.5" rx="1.4" ry="1.6" fill="#d92623" stroke="none" transform="rotate(0 317.7 184.5)"/>
<path d="M317.2 185.8h0M316.2 184.9h0M316.5 185.1h0M319.1 183.8h0M319.1 184.2h0" stroke="#d92623"/>
<ellipse cx="329.2" cy="183.0" rx="1.6" ry="1.6" fill="#d92623" stroke="none" transform="rotate(0 329.2 183.0)"/>
<path d="M329.7 184.4h0M328.2 184.3h0M329.3 184.8h0M329.2 184.6h0M330.2 181.4h0" stroke="#d92623"/>
<ellipse cx="338.4" cy="187.0" rx="1.4" ry="1.4" fill="#ad1117" stroke="none" transform="rotate(0 338.4 187.0)"/>
<path d="M337.7 188.3h0M339.3 185.9h0M338.8 185.7h0M339.7 187.1h0M337.2 186.3h0" stroke="#ad1117"/>
<ellipse cx="354.7" cy="191.0" rx="3.8" ry="1.4" fill="#990c13" stroke="none" transform="rotate(0 354.7 191.0)"/>
<path d="M358.4 190.9h0M358.4 190.3h0M352.8 189.7h0M355.9 189.7h0M351.7 190.3h0M350.7 190.8h0M357.8 191.6h0M352.8 191.9h0M354.9 189.6h0M353.3 192.4h0" stroke="#990c13"/>
<ellipse cx="308.3" cy="189.7" rx="1.2" ry="1.2" fill="#fb7a5a" stroke="none" transform="rotate(0 308.3 189.7)"/>
<path d="M308.8 190.8h0M309.3 188.9h0M307.3 188.8h0M309.2 190.4h0M307.1 189.3h0" stroke="#fb7a5a"/>
<ellipse cx="312.5" cy="190.5" rx="1.2" ry="1.2" fill="#fb7a5a" stroke="none" transform="rotate(0 312.5 190.5)"/>
<path d="M313.5 189.7h0M311.8 189.7h0M312.7 191.8h0M311.6 190.1h0M313.5 189.6h0" stroke="#fb7a5a"/>
<ellipse cx="330.2" cy="191.5" rx="1.5" ry="1.4" fill="#ad1117" stroke="none" transform="rotate(-18 330.2 191.5)"/>
<path d="M329.1 191.3h0M330.9 192.4h0M331.1 191.7h0M329.0 191.3h0M330.7 192.2h0" stroke="#ad1117"/>
<ellipse cx="340.2" cy="193.5" rx="1.4" ry="1.6" fill="#ad1117" stroke="none" transform="rotate(0 340.2 193.5)"/>
<path d="M341.5 192.7h0M339.8 192.1h0M338.7 193.8h0M340.6 194.8h0M341.2 194.3h0" stroke="#ad1117"/>
<ellipse cx="317.3" cy="195.0" rx="1.2" ry="2.0" fill="#fc9a7b" stroke="none" transform="rotate(0 317.3 195.0)"/>
<path d="M318.6 194.4h0M318.5 194.5h0M318.1 196.0h0M317.6 196.6h0M316.2 195.5h0" stroke="#fc9a7b"/>
<ellipse cx="321.7" cy="195.0" rx="1.2" ry="2.2" fill="#d92623" stroke="none" transform="rotate(0 321.7 195.0)"/>
<path d="M321.2 193.1h0M322.9 194.5h0M322.9 196.1h0M321.5 192.7h0M322.5 196.4h0" stroke="#d92623"/>
<ellipse cx="348.5" cy="197.5" rx="1.4" ry="1.4" fill="#990c13" stroke="none" transform="rotate(0 348.5 197.5)"/>
<path d="M347.8 198.6h0M347.0 197.3h0M347.6 198.0h0M347.9 196.4h0M348.4 198.6h0" stroke="#990c13"/>
<ellipse cx="314.8" cy="202.0" rx="1.4" ry="1.4" fill="#fb6a4a" stroke="none" transform="rotate(0 314.8 202.0)"/>
<path d="M314.1 202.9h0M316.3 202.0h0M313.9 203.1h0M314.8 203.0h0M313.8 202.9h0" stroke="#fb6a4a"/>
<ellipse cx="320.1" cy="202.2" rx="1.4" ry="1.4" fill="#f14432" stroke="none" transform="rotate(0 320.1 202.2)"/>
<path d="M319.9 203.3h0M319.5 200.8h0M321.4 202.6h0M320.3 200.9h0M319.0 201.5h0" stroke="#f14432"/>
<ellipse cx="325.0" cy="202.0" rx="1.2" ry="1.2" fill="#d92623" stroke="none" transform="rotate(0 325.0 202.0)"/>
<path d="M325.7 201.2h0M326.0 201.4h0M326.0 202.0h0M325.9 201.3h0M325.2 201.1h0" stroke="#d92623"/>
<ellipse cx="334.4" cy="200.5" rx="2.2" ry="1.6" fill="#d92623" stroke="none" transform="rotate(0 334.4 200.5)"/>
<path d="M333.9 202.1h0M336.0 201.7h0M332.6 200.9h0M333.1 201.4h0M336.2 199.3h0M336.3 200.7h0" stroke="#d92623"/>
<ellipse cx="347.8" cy="199.5" rx="1.5" ry="2.0" fill="#ad1117" stroke="none" transform="rotate(-14 347.8 199.5)"/>
<path d="M348.0 197.6h0M346.5 200.0h0M347.3 197.8h0M348.7 200.0h0M346.7 201.5h0" stroke="#ad1117"/>
<ellipse cx="360.5" cy="203.0" rx="2.2" ry="1.8" fill="#ad1117" stroke="none" transform="rotate(-14 360.5 203.0)"/>
<path d="M360.7 201.8h0M358.4 203.7h0M361.1 201.2h0M358.8 203.6h0M359.2 204.2h0M362.6 202.5h0" stroke="#ad1117"/>
<ellipse cx="312.0" cy="210.0" rx="1.2" ry="1.4" fill="#fb7a5a" stroke="none" transform="rotate(0 312.0 210.0)"/>
<path d="M313.2 210.7h0M311.9 208.7h0M311.0 210.9h0M311.6 211.5h0M312.6 208.8h0" stroke="#fb7a5a"/>
<ellipse cx="315.0" cy="212.5" rx="1.2" ry="1.2" fill="#fb7a5a" stroke="none" transform="rotate(0 315.0 212.5)"/>
<path d="M315.8 213.0h0M315.7 213.4h0M314.9 213.9h0M315.2 211.4h0M314.9 213.8h0" stroke="#fb7a5a"/>
<ellipse cx="327.0" cy="210.5" rx="1.9" ry="1.6" fill="#d92623" stroke="none" transform="rotate(0 327.0 210.5)"/>
<path d="M325.0 211.2h0M327.9 212.1h0M328.5 210.9h0M325.1 209.8h0M328.3 210.8h0" stroke="#d92623"/>
<ellipse cx="339.8" cy="209.5" rx="2.2" ry="1.6" fill="#a30e15" stroke="none" transform="rotate(-10 339.8 209.5)"/>
<path d="M339.1 208.5h0M341.4 209.7h0M338.5 208.5h0M339.4 207.9h0M338.7 208.8h0M341.5 210.3h0" stroke="#a30e15"/>
<ellipse cx="352.0" cy="214.0" rx="1.6" ry="2.0" fill="#a30e15" stroke="none" transform="rotate(0 352.0 214.0)"/>
<path d="M353.2 215.0h0M353.4 214.9h0M350.8 212.6h0M352.8 215.9h0M350.6 214.1h0" stroke="#a30e15"/>
<ellipse cx="317.5" cy="216.5" rx="1.2" ry="1.2" fill="#f6573e" stroke="none" transform="rotate(0 317.5 216.5)"/>
<path d="M318.2 215.4h0M318.4 217.2h0M316.8 217.4h0M317.4 217.9h0M316.7 215.5h0" stroke="#f6573e"/>
<ellipse cx="320.0" cy="220.5" rx="1.2" ry="1.8" fill="#d92623" stroke="none" transform="rotate(0 320.0 220.5)"/>
<path d="M318.8 219.5h0M320.9 220.3h0M319.2 219.2h0M319.9 222.4h0M319.4 222.0h0" stroke="#d92623"/>
<ellipse cx="332.5" cy="219.0" rx="2.3" ry="2.0" fill="#d92623" stroke="none" transform="rotate(-32 332.5 219.0)"/>
<path d="M333.4 219.0h0M333.2 217.5h0M329.9 221.0h0M330.8 220.7h0M334.6 217.5h0M331.9 220.4h0M330.6 220.5h0" stroke="#d92623"/>
<ellipse cx="343.0" cy="225.0" rx="2.2" ry="1.5" fill="#ad1117" stroke="none" transform="rotate(-10 343.0 225.0)"/>
<path d="M343.5 226.2h0M344.9 223.9h0M341.6 224.3h0M341.9 226.7h0M340.7 225.2h0M344.8 225.0h0" stroke="#ad1117"/>
<ellipse cx="316.5" cy="228.0" rx="1.2" ry="1.9" fill="#d92623" stroke="none" transform="rotate(10 316.5 228.0)"/>
<path d="M316.8 229.6h0M316.3 226.0h0M317.5 228.5h0M317.0 229.6h0M315.6 228.1h0" stroke="#d92623"/>
<ellipse cx="322.8" cy="232.5" rx="1.6" ry="1.2" fill="#d92623" stroke="none" transform="rotate(0 322.8 232.5)"/>
<path d="M321.9 233.4h0M322.6 231.6h0M322.9 231.5h0M321.5 231.9h0M321.1 232.6h0" stroke="#d92623"/>
</g>
<rect x="266.5" y="154.9" width="97.9" height="83.0" fill="none" stroke="#808080" stroke-width="1"/>
<defs><linearGradient id="gr" x1="0" y1="0" x2="0" y2="1"><stop offset="0.00" stop-color="#850711"/><stop offset="0.10" stop-color="#ae1117"/><stop offset="0.20" stop-color="#ca181d"/><stop offset="0.30" stop-color="#e53228"/><stop offset="0.40" stop-color="#f5523b"/><stop offset="0.50" stop-color="#fb7454"/><stop offset="0.60" stop-color="#fc9272"/><stop offset="0.70" stop-color="#fcb195"/><stop offset="0.80" stop-color="#fdcdb9"/><stop offset="0.90" stop-color="#fee5d9"/><stop offset="1.00" stop-color="#fff5f0"/></linearGradient></defs>
<rect x="369.4" y="154.9" width="6.8" height="83.0" fill="url(#gr)" stroke="#444" stroke-width="0.5"/>
<line x1="376.2" y1="160.1" x2="374.79999999999995" y2="160.1" stroke="#222" stroke-width="0.6"/>
<line x1="369.4" y1="160.1" x2="370.79999999999995" y2="160.1" stroke="#222" stroke-width="0.6"/>
<text x="379.09999999999997" y="162.75" font-size="7.7" text-anchor="start" font-weight="normal" fill="#151515">8</text>
<line x1="376.2" y1="179.7" x2="374.79999999999995" y2="179.7" stroke="#222" stroke-width="0.6"/>
<line x1="369.4" y1="179.7" x2="370.79999999999995" y2="179.7" stroke="#222" stroke-width="0.6"/>
<text x="379.09999999999997" y="182.35" font-size="7.7" text-anchor="start" font-weight="normal" fill="#151515">7</text>
<line x1="376.2" y1="199.3" x2="374.79999999999995" y2="199.3" stroke="#222" stroke-width="0.6"/>
<line x1="369.4" y1="199.3" x2="370.79999999999995" y2="199.3" stroke="#222" stroke-width="0.6"/>
<text x="379.09999999999997" y="201.95000000000002" font-size="7.7" text-anchor="start" font-weight="normal" fill="#151515">6</text>
<line x1="376.2" y1="219.0" x2="374.79999999999995" y2="219.0" stroke="#222" stroke-width="0.6"/>
<line x1="369.4" y1="219.0" x2="370.79999999999995" y2="219.0" stroke="#222" stroke-width="0.6"/>
<text x="379.09999999999997" y="221.65" font-size="7.7" text-anchor="start" font-weight="normal" fill="#151515">5</text>
<text x="317.8" y="250.0" font-size="9" text-anchor="middle" font-weight="normal" fill="#151515" textLength="22.3" lengthAdjust="spacingAndGlyphs">tSNE1</text>
<text x="357.7" y="247.6" font-size="7.4" text-anchor="start" font-weight="normal" fill="#151515" textLength="29.6" lengthAdjust="spacingAndGlyphs">Cy5 [arb]</text>
<g fill="none" stroke-linecap="round" stroke-width="1.85">
<ellipse cx="446.6" cy="163.8" rx="1.4" ry="1.9" fill="#e4f5df" stroke="none" transform="rotate(0 446.6 163.8)"/>
<path d="M446.5 161.8h0M448.0 163.1h0M447.9 162.8h0M445.6 164.1h0M445.7 162.1h0" stroke="#e4f5df"/>
<ellipse cx="436.6" cy="174.8" rx="3.5" ry="1.8" fill="#349d52" stroke="none" transform="rotate(-10 436.6 174.8)"/>
<path d="M439.1 175.8h0M439.2 175.7h0M438.3 173.7h0M437.3 176.2h0M439.4 173.0h0M439.8 173.9h0M435.0 173.5h0M439.5 173.8h0M440.3 173.9h0M435.4 176.8h0M438.3 175.9h0M439.4 175.0h0" stroke="#349d52"/>
<ellipse cx="416.9" cy="184.6" rx="2.0" ry="1.6" fill="#006529" stroke="none" transform="rotate(0 416.9 184.6)"/>
<path d="M417.0 183.2h0M419.0 183.9h0M415.7 185.8h0M417.2 183.0h0M416.9 183.2h0M418.3 183.2h0" stroke="#006529"/>
<ellipse cx="421.9" cy="184.1" rx="2.3" ry="1.5" fill="#006529" stroke="none" transform="rotate(0 421.9 184.1)"/>
<path d="M423.0 185.1h0M424.4 184.1h0M423.8 184.5h0M419.3 183.7h0M422.1 185.6h0M423.0 182.7h0" stroke="#006529"/>
<ellipse cx="427.4" cy="184.9" rx="2.0" ry="1.8" fill="#006529" stroke="none" transform="rotate(0 427.4 184.9)"/>
<path d="M425.8 185.5h0M428.4 183.6h0M425.6 185.4h0M428.8 183.3h0M425.2 185.5h0M427.1 183.1h0" stroke="#006529"/>
<ellipse cx="419.2" cy="188.5" rx="1.9" ry="1.9" fill="#006529" stroke="none" transform="rotate(-18 419.2 188.5)"/>
<path d="M420.6 186.5h0M419.6 186.8h0M418.5 187.2h0M419.3 186.7h0M418.7 187.2h0" stroke="#006529"/>
<ellipse cx="424.8" cy="188.1" rx="2.0" ry="1.8" fill="#006529" stroke="none" transform="rotate(-18 424.8 188.1)"/>
<path d="M425.6 186.4h0M425.4 186.3h0M423.6 187.5h0M425.8 186.2h0M425.9 186.4h0" stroke="#006529"/>
<ellipse cx="417.8" cy="191.5" rx="1.6" ry="1.4" fill="#006529" stroke="none" transform="rotate(0 417.8 191.5)"/>
<path d="M418.6 192.8h0M416.3 190.8h0M416.3 192.2h0M418.1 190.1h0M417.5 190.1h0" stroke="#006529"/>
<ellipse cx="442.6" cy="184.3" rx="1.4" ry="1.5" fill="#74c476" stroke="none" transform="rotate(0 442.6 184.3)"/>
<path d="M444.0 184.7h0M442.8 185.8h0M443.3 185.2h0M443.1 185.6h0M443.8 184.6h0" stroke="#74c476"/>
<ellipse cx="430.1" cy="196.8" rx="2.4" ry="1.8" fill="#077331" stroke="none" transform="rotate(0 430.1 196.8)"/>
<path d="M428.2 197.7h0M431.1 195.5h0M432.4 197.2h0M432.2 197.8h0M428.8 198.3h0M432.5 196.3h0M427.8 197.7h0M428.4 195.3h0" stroke="#077331"/>
<ellipse cx="442.1" cy="198.3" rx="1.4" ry="1.4" fill="#c7e9c0" stroke="none" transform="rotate(0 442.1 198.3)"/>
<path d="M440.9 198.8h0M441.8 199.5h0M441.0 199.4h0M443.4 197.5h0M442.0 199.7h0" stroke="#c7e9c0"/>
<ellipse cx="409.1" cy="201.3" rx="2.2" ry="2.2" fill="#077331" stroke="none" transform="rotate(0 409.1 201.3)"/>
<path d="M407.1 201.6h0M407.8 200.0h0M408.5 203.4h0M410.2 199.2h0M407.5 201.0h0M410.9 200.5h0M409.2 203.7h0" stroke="#077331"/>
<ellipse cx="413.1" cy="202.8" rx="2.2" ry="1.8" fill="#077331" stroke="none" transform="rotate(0 413.1 202.8)"/>
<path d="M411.1 202.5h0M411.7 204.1h0M411.1 201.8h0M413.1 204.2h0M415.0 201.9h0M410.8 202.2h0" stroke="#077331"/>
<ellipse cx="416.1" cy="201.8" rx="1.6" ry="1.4" fill="#077331" stroke="none" transform="rotate(0 416.1 201.8)"/>
<path d="M416.8 200.7h0M416.8 200.9h0M414.5 202.4h0M416.4 200.6h0M417.2 203.0h0" stroke="#077331"/>
<ellipse cx="435.1" cy="206.8" rx="2.4" ry="1.8" fill="#2f984f" stroke="none" transform="rotate(0 435.1 206.8)"/>
<path d="M437.5 207.6h0M436.0 205.4h0M433.7 205.2h0M434.8 205.5h0M437.9 206.8h0M437.6 207.4h0M435.6 208.7h0" stroke="#2f984f"/>
<ellipse cx="418.1" cy="215.3" rx="2.4" ry="1.6" fill="#077331" stroke="none" transform="rotate(0 418.1 215.3)"/>
<path d="M419.9 215.8h0M418.0 213.6h0M419.9 216.7h0M417.1 216.8h0M415.6 215.4h0M416.2 216.6h0" stroke="#077331"/>
<ellipse cx="423.1" cy="214.3" rx="2.7" ry="1.8" fill="#077331" stroke="none" transform="rotate(-10 423.1 214.3)"/>
<path d="M424.9 215.2h0M421.4 215.7h0M424.4 215.7h0M421.5 213.1h0M422.0 213.3h0M424.7 215.0h0M423.3 216.0h0M420.1 215.1h0" stroke="#077331"/>
<ellipse cx="441.1" cy="219.8" rx="2.3" ry="1.9" fill="#2f984f" stroke="none" transform="rotate(14 441.1 219.8)"/>
<path d="M440.1 220.8h0M439.7 220.8h0M442.6 221.6h0M439.6 217.8h0M438.8 219.8h0M438.6 218.8h0M439.0 218.3h0" stroke="#2f984f"/>
<ellipse cx="432.1" cy="228.8" rx="2.4" ry="1.9" fill="#077331" stroke="none" transform="rotate(0 432.1 228.8)"/>
<path d="M434.1 229.9h0M433.2 230.2h0M430.3 230.0h0M433.7 230.5h0M431.7 230.5h0M431.6 230.4h0M429.9 229.0h0" stroke="#077331"/>
<ellipse cx="435.8" cy="230.3" rx="2.2" ry="1.9" fill="#077331" stroke="none" transform="rotate(0 435.8 230.3)"/>
<path d="M437.7 230.6h0M437.5 231.1h0M437.9 230.0h0M435.0 232.0h0M435.4 232.2h0M435.3 228.3h0" stroke="#077331"/>
<ellipse cx="458.6" cy="170.8" rx="2.4" ry="1.4" fill="#e4f5df" stroke="none" transform="rotate(-10 458.6 170.8)"/>
<path d="M461.1 170.3h0M457.1 172.1h0M460.4 171.0h0M455.9 171.3h0M461.2 170.9h0M460.7 170.8h0M460.8 170.9h0" stroke="#e4f5df"/>
<ellipse cx="472.1" cy="174.8" rx="2.0" ry="2.3" fill="#e4f5df" stroke="none" transform="rotate(-21 472.1 174.8)"/>
<path d="M470.2 174.9h0M472.6 176.5h0M470.6 175.5h0M470.3 175.2h0M470.7 174.5h0M474.0 172.5h0M470.3 176.6h0M472.5 176.6h0" stroke="#e4f5df"/>
<ellipse cx="452.1" cy="178.5" rx="1.5" ry="1.4" fill="#e4f5df" stroke="none" transform="rotate(0 452.1 178.5)"/>
<path d="M453.3 179.3h0M451.5 179.7h0M450.6 178.0h0M451.2 177.3h0M450.7 177.8h0" stroke="#e4f5df"/>
<ellipse cx="485.2" cy="182.8" rx="1.8" ry="2.2" fill="#e4f5df" stroke="none" transform="rotate(14 485.2 182.8)"/>
<path d="M486.4 184.8h0M485.9 184.5h0M484.5 180.8h0M486.7 184.3h0M483.4 181.2h0M486.5 183.9h0M484.3 183.7h0M487.1 183.0h0" stroke="#e4f5df"/>
<ellipse cx="454.3" cy="185.8" rx="1.4" ry="1.6" fill="#74c476" stroke="none" transform="rotate(0 454.3 185.8)"/>
<path d="M453.8 187.1h0M452.8 186.2h0M453.1 186.4h0M455.7 185.1h0M455.7 185.5h0" stroke="#74c476"/>
<ellipse cx="465.8" cy="184.3" rx="1.6" ry="1.6" fill="#c7e9c0" stroke="none" transform="rotate(0 465.8 184.3)"/>
<path d="M466.3 185.7h0M464.8 185.6h0M465.9 186.1h0M465.8 185.9h0M466.8 182.7h0" stroke="#c7e9c0"/>
<ellipse cx="475.0" cy="188.3" rx="1.4" ry="1.4" fill="#74c476" stroke="none" transform="rotate(0 475.0 188.3)"/>
<path d="M474.3 189.6h0M475.9 187.2h0M475.4 187.0h0M476.3 188.4h0M473.8 187.6h0" stroke="#74c476"/>
<ellipse cx="491.3" cy="192.3" rx="3.8" ry="1.4" fill="#e4f5df" stroke="none" transform="rotate(0 491.3 192.3)"/>
<path d="M495.0 192.2h0M495.0 191.6h0M489.4 191.0h0M492.5 191.0h0M488.3 191.6h0M487.3 192.1h0M494.4 192.9h0M489.4 193.2h0M491.5 190.9h0M489.9 193.7h0" stroke="#e4f5df"/>
<ellipse cx="444.9" cy="191.0" rx="1.2" ry="1.2" fill="#9fd89a" stroke="none" transform="rotate(0 444.9 191.0)"/>
<path d="M445.4 192.1h0M445.9 190.2h0M443.9 190.1h0M445.8 191.7h0M443.7 190.6h0" stroke="#9fd89a"/>
<ellipse cx="449.1" cy="191.8" rx="1.2" ry="1.2" fill="#9fd89a" stroke="none" transform="rotate(0 449.1 191.8)"/>
<path d="M450.1 191.0h0M448.4 191.0h0M449.3 193.1h0M448.2 191.4h0M450.1 190.9h0" stroke="#9fd89a"/>
<ellipse cx="466.8" cy="192.8" rx="1.5" ry="1.4" fill="#3ba558" stroke="none" transform="rotate(-18 466.8 192.8)"/>
<path d="M465.7 192.6h0M467.5 193.7h0M467.7 193.0h0M465.6 192.6h0M467.3 193.5h0" stroke="#3ba558"/>
<ellipse cx="476.8" cy="194.8" rx="1.4" ry="1.6" fill="#e4f5df" stroke="none" transform="rotate(0 476.8 194.8)"/>
<path d="M478.1 194.0h0M476.4 193.4h0M475.3 195.1h0M477.2 196.1h0M477.8 195.6h0" stroke="#e4f5df"/>
<ellipse cx="453.9" cy="196.3" rx="1.2" ry="2.0" fill="#157f3b" stroke="none" transform="rotate(0 453.9 196.3)"/>
<path d="M455.2 195.7h0M455.1 195.8h0M454.7 197.3h0M454.2 197.9h0M452.8 196.8h0" stroke="#157f3b"/>
<ellipse cx="458.3" cy="196.3" rx="1.2" ry="2.2" fill="#157f3b" stroke="none" transform="rotate(0 458.3 196.3)"/>
<path d="M457.8 194.4h0M459.5 195.8h0M459.5 197.4h0M458.1 194.0h0M459.1 197.7h0" stroke="#157f3b"/>
<ellipse cx="485.1" cy="198.8" rx="1.4" ry="1.4" fill="#e4f5df" stroke="none" transform="rotate(0 485.1 198.8)"/>
<path d="M484.4 199.9h0M483.6 198.6h0M484.2 199.3h0M484.5 197.7h0M485.0 199.9h0" stroke="#e4f5df"/>
<ellipse cx="451.4" cy="203.3" rx="1.4" ry="1.4" fill="#3ba558" stroke="none" transform="rotate(0 451.4 203.3)"/>
<path d="M450.7 204.2h0M452.9 203.3h0M450.5 204.4h0M451.4 204.3h0M450.4 204.2h0" stroke="#3ba558"/>
<ellipse cx="456.7" cy="203.5" rx="1.4" ry="1.4" fill="#3ba558" stroke="none" transform="rotate(0 456.7 203.5)"/>
<path d="M456.5 204.6h0M456.1 202.1h0M458.0 203.9h0M456.9 202.2h0M455.6 202.8h0" stroke="#3ba558"/>
<ellipse cx="461.6" cy="203.3" rx="1.2" ry="1.2" fill="#74c476" stroke="none" transform="rotate(0 461.6 203.3)"/>
<path d="M462.3 202.5h0M462.6 202.7h0M462.6 203.3h0M462.5 202.6h0M461.8 202.4h0" stroke="#74c476"/>
<ellipse cx="471.0" cy="201.8" rx="2.2" ry="1.6" fill="#9fd89a" stroke="none" transform="rotate(0 471.0 201.8)"/>
<path d="M470.5 203.4h0M472.6 203.0h0M469.2 202.2h0M469.7 202.7h0M472.8 200.6h0M472.9 202.0h0" stroke="#9fd89a"/>
<ellipse cx="484.4" cy="200.8" rx="1.5" ry="2.0" fill="#c7e9c0" stroke="none" transform="rotate(-14 484.4 200.8)"/>
<path d="M484.6 198.9h0M483.1 201.3h0M483.9 199.1h0M485.3 201.3h0M483.3 202.8h0" stroke="#c7e9c0"/>
<ellipse cx="497.1" cy="204.3" rx="2.2" ry="1.8" fill="#e4f5df" stroke="none" transform="rotate(-14 497.1 204.3)"/>
<path d="M497.3 203.1h0M495.0 205.0h0M497.7 202.5h0M495.4 204.9h0M495.8 205.5h0M499.2 203.8h0" stroke="#e4f5df"/>
<ellipse cx="448.6" cy="211.3" rx="1.2" ry="1.4" fill="#c7e9c0" stroke="none" transform="rotate(0 448.6 211.3)"/>
<path d="M449.8 212.0h0M448.5 210.0h0M447.6 212.2h0M448.2 212.8h0M449.2 210.1h0" stroke="#c7e9c0"/>
<ellipse cx="451.6" cy="213.8" rx="1.2" ry="1.2" fill="#9fd89a" stroke="none" transform="rotate(0 451.6 213.8)"/>
<path d="M452.4 214.3h0M452.3 214.7h0M451.5 215.2h0M451.8 212.7h0M451.5 215.1h0" stroke="#9fd89a"/>
<ellipse cx="463.6" cy="211.8" rx="1.9" ry="1.6" fill="#9fd89a" stroke="none" transform="rotate(0 463.6 211.8)"/>
<path d="M461.6 212.5h0M464.5 213.4h0M465.1 212.2h0M461.7 211.1h0M464.9 212.1h0" stroke="#9fd89a"/>
<ellipse cx="476.4" cy="210.8" rx="2.2" ry="1.6" fill="#9fd89a" stroke="none" transform="rotate(-10 476.4 210.8)"/>
<path d="M475.7 209.8h0M478.0 211.0h0M475.1 209.8h0M476.0 209.2h0M475.3 210.1h0M478.1 211.6h0" stroke="#9fd89a"/>
<ellipse cx="488.6" cy="215.3" rx="1.6" ry="2.0" fill="#e4f5df" stroke="none" transform="rotate(0 488.6 215.3)"/>
<path d="M489.8 216.3h0M490.0 216.2h0M487.4 213.9h0M489.4 217.2h0M487.2 215.4h0" stroke="#e4f5df"/>
<ellipse cx="454.1" cy="217.8" rx="1.2" ry="1.2" fill="#4bb062" stroke="none" transform="rotate(0 454.1 217.8)"/>
<path d="M454.8 216.7h0M455.0 218.5h0M453.4 218.7h0M454.0 219.2h0M453.3 216.8h0" stroke="#4bb062"/>
<ellipse cx="456.6" cy="221.8" rx="1.2" ry="1.8" fill="#157f3b" stroke="none" transform="rotate(0 456.6 221.8)"/>
<path d="M455.4 220.8h0M457.5 221.6h0M455.8 220.5h0M456.5 223.7h0M456.0 223.3h0" stroke="#157f3b"/>
<ellipse cx="469.1" cy="220.3" rx="2.3" ry="2.0" fill="#3ba558" stroke="none" transform="rotate(-32 469.1 220.3)"/>
<path d="M470.0 220.3h0M469.8 218.8h0M466.5 222.3h0M467.4 222.0h0M471.2 218.8h0M468.5 221.7h0M467.2 221.8h0" stroke="#3ba558"/>
<ellipse cx="479.6" cy="226.3" rx="2.2" ry="1.5" fill="#c7e9c0" stroke="none" transform="rotate(-10 479.6 226.3)"/>
<path d="M480.1 227.5h0M481.5 225.2h0M478.2 225.6h0M478.5 228.0h0M477.3 226.5h0M481.4 226.3h0" stroke="#c7e9c0"/>
<ellipse cx="453.1" cy="229.3" rx="1.2" ry="1.9" fill="#c7e9c0" stroke="none" transform="rotate(10 453.1 229.3)"/>
<path d="M453.4 230.9h0M452.9 227.3h0M454.1 229.8h0M453.6 230.9h0M452.2 229.4h0" stroke="#c7e9c0"/>
<ellipse cx="459.4" cy="233.8" rx="1.6" ry="1.2" fill="#e4f5df" stroke="none" transform="rotate(0 459.4 233.8)"/>
<path d="M458.5 234.7h0M459.2 232.9h0M459.5 232.8h0M458.1 233.2h0M457.7 233.9h0" stroke="#e4f5df"/>
</g>
<rect x="402.6" y="154.9" width="98.0" height="83.0" fill="none" stroke="#808080" stroke-width="1"/>
<defs><linearGradient id="gg" x1="0" y1="0" x2="0" y2="1"><stop offset="0.00" stop-color="#005823"/><stop offset="0.10" stop-color="#087432"/><stop offset="0.20" stop-color="#228b45"/><stop offset="0.30" stop-color="#39a357"/><stop offset="0.40" stop-color="#5ab769"/><stop offset="0.50" stop-color="#7fc97f"/><stop offset="0.60" stop-color="#a1d99b"/><stop offset="0.70" stop-color="#bde5b7"/><stop offset="0.80" stop-color="#d6efd0"/><stop offset="0.90" stop-color="#e9f7e5"/><stop offset="1.00" stop-color="#f7fcf5"/></linearGradient></defs>
<rect x="505.2" y="154.9" width="6.8" height="83.0" fill="url(#gg)" stroke="#444" stroke-width="0.5"/>
<line x1="512.0" y1="160.1" x2="510.59999999999997" y2="160.1" stroke="#222" stroke-width="0.6"/>
<line x1="505.2" y1="160.1" x2="506.59999999999997" y2="160.1" stroke="#222" stroke-width="0.6"/>
<text x="514.9" y="162.75" font-size="7.7" text-anchor="start" font-weight="normal" fill="#151515" textLength="10" lengthAdjust="spacingAndGlyphs">8.0</text>
<line x1="512.0" y1="173.8" x2="510.59999999999997" y2="173.8" stroke="#222" stroke-width="0.6"/>
<line x1="505.2" y1="173.8" x2="506.59999999999997" y2="173.8" stroke="#222" stroke-width="0.6"/>
<text x="514.9" y="176.45000000000002" font-size="7.7" text-anchor="start" font-weight="normal" fill="#151515" textLength="10" lengthAdjust="spacingAndGlyphs">7.5</text>
<line x1="512.0" y1="187.4" x2="510.59999999999997" y2="187.4" stroke="#222" stroke-width="0.6"/>
<line x1="505.2" y1="187.4" x2="506.59999999999997" y2="187.4" stroke="#222" stroke-width="0.6"/>
<text x="514.9" y="190.05" font-size="7.7" text-anchor="start" font-weight="normal" fill="#151515" textLength="10" lengthAdjust="spacingAndGlyphs">7.0</text>
<line x1="512.0" y1="200.0" x2="510.59999999999997" y2="200.0" stroke="#222" stroke-width="0.6"/>
<line x1="505.2" y1="200.0" x2="506.59999999999997" y2="200.0" stroke="#222" stroke-width="0.6"/>
<text x="514.9" y="202.65" font-size="7.7" text-anchor="start" font-weight="normal" fill="#151515" textLength="10" lengthAdjust="spacingAndGlyphs">6.5</text>
<line x1="512.0" y1="213.6" x2="510.59999999999997" y2="213.6" stroke="#222" stroke-width="0.6"/>
<line x1="505.2" y1="213.6" x2="506.59999999999997" y2="213.6" stroke="#222" stroke-width="0.6"/>
<text x="514.9" y="216.25" font-size="7.7" text-anchor="start" font-weight="normal" fill="#151515" textLength="10" lengthAdjust="spacingAndGlyphs">6.0</text>
<line x1="512.0" y1="227.2" x2="510.59999999999997" y2="227.2" stroke="#222" stroke-width="0.6"/>
<line x1="505.2" y1="227.2" x2="506.59999999999997" y2="227.2" stroke="#222" stroke-width="0.6"/>
<text x="514.9" y="229.85" font-size="7.7" text-anchor="start" font-weight="normal" fill="#151515" textLength="10" lengthAdjust="spacingAndGlyphs">5.5</text>
<text x="455.5" y="250.0" font-size="9" text-anchor="middle" font-weight="normal" fill="#151515" textLength="22.3" lengthAdjust="spacingAndGlyphs">tSNE1</text>
<text x="493.3" y="247.6" font-size="7.4" text-anchor="start" font-weight="normal" fill="#151515" textLength="30.7" lengthAdjust="spacingAndGlyphs">FITC [arb]</text>
<g fill="none" stroke-linecap="round" stroke-width="1.85">
<ellipse cx="587.9" cy="162.5" rx="1.4" ry="1.9" fill="#0d57a1" stroke="none" transform="rotate(0 587.9 162.5)"/>
<path d="M587.8 160.5h0M589.3 161.8h0M589.2 161.5h0M586.9 162.8h0M587.0 160.8h0" stroke="#0d57a1"/>
<ellipse cx="577.9" cy="173.5" rx="3.5" ry="1.8" fill="#0d57a1" stroke="none" transform="rotate(-10 577.9 173.5)"/>
<path d="M580.4 174.5h0M580.5 174.4h0M579.6 172.4h0M578.6 174.9h0M580.7 171.7h0M581.1 172.6h0M576.3 172.2h0M580.8 172.5h0M581.6 172.6h0M576.7 175.5h0M579.6 174.6h0M580.7 173.7h0" stroke="#0d57a1"/>
<ellipse cx="558.2" cy="183.3" rx="2.0" ry="1.6" fill="#0d57a1" stroke="none" transform="rotate(0 558.2 183.3)"/>
<path d="M558.3 181.9h0M560.3 182.6h0M557.0 184.5h0M558.5 181.7h0M558.2 181.9h0M559.6 181.9h0" stroke="#0d57a1"/>
<ellipse cx="563.2" cy="182.8" rx="2.3" ry="1.5" fill="#0d57a1" stroke="none" transform="rotate(0 563.2 182.8)"/>
<path d="M564.3 183.8h0M565.7 182.8h0M565.1 183.2h0M560.6 182.4h0M563.4 184.3h0M564.3 181.4h0" stroke="#0d57a1"/>
<ellipse cx="568.7" cy="183.6" rx="2.0" ry="1.8" fill="#0d57a1" stroke="none" transform="rotate(0 568.7 183.6)"/>
<path d="M567.1 184.2h0M569.7 182.3h0M566.9 184.1h0M570.1 182.0h0M566.5 184.2h0M568.4 181.8h0" stroke="#0d57a1"/>
<ellipse cx="560.5" cy="187.2" rx="1.9" ry="1.9" fill="#0d57a1" stroke="none" transform="rotate(-18 560.5 187.2)"/>
<path d="M561.9 185.2h0M560.9 185.5h0M559.8 185.9h0M560.6 185.4h0M560.0 185.9h0" stroke="#0d57a1"/>
<ellipse cx="566.1" cy="186.8" rx="2.0" ry="1.8" fill="#0d57a1" stroke="none" transform="rotate(-18 566.1 186.8)"/>
<path d="M566.9 185.1h0M566.7 185.0h0M564.9 186.2h0M567.1 184.9h0M567.2 185.1h0" stroke="#0d57a1"/>
<ellipse cx="559.1" cy="190.2" rx="1.6" ry="1.4" fill="#0d57a1" stroke="none" transform="rotate(0 559.1 190.2)"/>
<path d="M559.9 191.5h0M557.6 189.5h0M557.6 190.9h0M559.4 188.8h0M558.8 188.8h0" stroke="#0d57a1"/>
<ellipse cx="583.9" cy="183.0" rx="1.4" ry="1.5" fill="#0d57a1" stroke="none" transform="rotate(0 583.9 183.0)"/>
<path d="M585.3 183.4h0M584.1 184.5h0M584.6 183.9h0M584.4 184.3h0M585.1 183.3h0" stroke="#0d57a1"/>
<ellipse cx="571.4" cy="195.5" rx="2.4" ry="1.8" fill="#94c4df" stroke="none" transform="rotate(0 571.4 195.5)"/>
<path d="M569.5 196.4h0M572.4 194.2h0M573.7 195.9h0M573.5 196.5h0M570.1 197.0h0M573.8 195.0h0M569.1 196.4h0M569.7 194.0h0" stroke="#94c4df"/>
<ellipse cx="583.4" cy="197.0" rx="1.4" ry="1.4" fill="#6baed6" stroke="none" transform="rotate(0 583.4 197.0)"/>
<path d="M582.2 197.5h0M583.1 198.2h0M582.3 198.1h0M584.7 196.2h0M583.3 198.4h0" stroke="#6baed6"/>
<ellipse cx="550.4" cy="200.0" rx="2.2" ry="2.2" fill="#6baed6" stroke="none" transform="rotate(0 550.4 200.0)"/>
<path d="M548.4 200.3h0M549.1 198.7h0M549.8 202.1h0M551.5 197.9h0M548.8 199.7h0M552.2 199.2h0M550.5 202.4h0" stroke="#6baed6"/>
<ellipse cx="554.4" cy="201.5" rx="2.2" ry="1.8" fill="#6baed6" stroke="none" transform="rotate(0 554.4 201.5)"/>
<path d="M552.4 201.2h0M553.0 202.8h0M552.4 200.5h0M554.4 202.9h0M556.3 200.6h0M552.1 200.9h0" stroke="#6baed6"/>
<ellipse cx="557.4" cy="200.5" rx="1.6" ry="1.4" fill="#6baed6" stroke="none" transform="rotate(0 557.4 200.5)"/>
<path d="M558.1 199.4h0M558.1 199.6h0M555.8 201.1h0M557.7 199.3h0M558.5 201.7h0" stroke="#6baed6"/>
<ellipse cx="576.4" cy="205.5" rx="2.4" ry="1.8" fill="#c6dbef" stroke="none" transform="rotate(0 576.4 205.5)"/>
<path d="M578.8 206.3h0M577.3 204.1h0M575.0 203.9h0M576.1 204.2h0M579.2 205.5h0M578.9 206.1h0M576.9 207.4h0" stroke="#c6dbef"/>
<ellipse cx="559.4" cy="214.0" rx="2.4" ry="1.6" fill="#c6dbef" stroke="none" transform="rotate(0 559.4 214.0)"/>
<path d="M561.2 214.5h0M559.3 212.3h0M561.2 215.4h0M558.4 215.5h0M556.9 214.1h0M557.5 215.3h0" stroke="#c6dbef"/>
<ellipse cx="564.4" cy="213.0" rx="2.7" ry="1.8" fill="#c6dbef" stroke="none" transform="rotate(-10 564.4 213.0)"/>
<path d="M566.2 213.9h0M562.7 214.4h0M565.7 214.4h0M562.8 211.8h0M563.3 212.0h0M566.0 213.7h0M564.6 214.7h0M561.4 213.8h0" stroke="#c6dbef"/>
<ellipse cx="582.4" cy="218.5" rx="2.3" ry="1.9" fill="#ebf3fb" stroke="none" transform="rotate(14 582.4 218.5)"/>
<path d="M581.4 219.5h0M581.0 219.5h0M583.9 220.3h0M580.9 216.5h0M580.1 218.5h0M579.9 217.5h0M580.3 217.0h0" stroke="#ebf3fb"/>
<ellipse cx="573.4" cy="227.5" rx="2.4" ry="1.9" fill="#ebf3fb" stroke="none" transform="rotate(0 573.4 227.5)"/>
<path d="M575.4 228.6h0M574.5 228.9h0M571.6 228.7h0M575.0 229.2h0M573.0 229.2h0M572.9 229.1h0M571.2 227.7h0" stroke="#ebf3fb"/>
<ellipse cx="577.1" cy="229.0" rx="2.2" ry="1.9" fill="#ebf3fb" stroke="none" transform="rotate(0 577.1 229.0)"/>
<path d="M579.0 229.3h0M578.8 229.8h0M579.2 228.7h0M576.3 230.7h0M576.7 230.9h0M576.6 227.0h0" stroke="#ebf3fb"/>
<ellipse cx="599.9" cy="169.5" rx="2.4" ry="1.4" fill="#0d57a1" stroke="none" transform="rotate(-10 599.9 169.5)"/>
<path d="M602.4 169.0h0M598.4 170.8h0M601.7 169.7h0M597.2 170.0h0M602.5 169.6h0M602.0 169.5h0M602.1 169.6h0" stroke="#0d57a1"/>
<ellipse cx="613.4" cy="173.5" rx="2.0" ry="2.3" fill="#0d57a1" stroke="none" transform="rotate(-21 613.4 173.5)"/>
<path d="M611.5 173.6h0M613.9 175.2h0M611.9 174.2h0M611.6 173.9h0M612.0 173.2h0M615.3 171.2h0M611.6 175.3h0M613.8 175.3h0" stroke="#0d57a1"/>
<ellipse cx="593.4" cy="177.2" rx="1.5" ry="1.4" fill="#a6cde4" stroke="none" transform="rotate(0 593.4 177.2)"/>
<path d="M594.6 178.0h0M592.8 178.4h0M591.9 176.7h0M592.5 176.0h0M592.0 176.5h0" stroke="#a6cde4"/>
<ellipse cx="626.5" cy="181.5" rx="1.8" ry="2.2" fill="#0d57a1" stroke="none" transform="rotate(14 626.5 181.5)"/>
<path d="M627.7 183.5h0M627.2 183.2h0M625.8 179.5h0M628.0 183.0h0M624.7 179.9h0M627.8 182.6h0M625.6 182.4h0M628.4 181.7h0" stroke="#0d57a1"/>
<ellipse cx="595.6" cy="184.5" rx="1.4" ry="1.6" fill="#0d57a1" stroke="none" transform="rotate(0 595.6 184.5)"/>
<path d="M595.1 185.8h0M594.1 184.9h0M594.4 185.1h0M597.0 183.8h0M597.0 184.2h0" stroke="#0d57a1"/>
<ellipse cx="607.1" cy="183.0" rx="1.6" ry="1.6" fill="#9cc9e1" stroke="none" transform="rotate(0 607.1 183.0)"/>
<path d="M607.6 184.4h0M606.1 184.3h0M607.2 184.8h0M607.1 184.6h0M608.1 181.4h0" stroke="#9cc9e1"/>
<ellipse cx="616.3" cy="187.0" rx="1.4" ry="1.4" fill="#3b8bc3" stroke="none" transform="rotate(0 616.3 187.0)"/>
<path d="M615.6 188.3h0M617.2 185.9h0M616.7 185.7h0M617.6 187.1h0M615.1 186.3h0" stroke="#3b8bc3"/>
<ellipse cx="632.6" cy="191.0" rx="3.8" ry="1.4" fill="#94c4df" stroke="none" transform="rotate(0 632.6 191.0)"/>
<path d="M636.3 190.9h0M636.3 190.3h0M630.7 189.7h0M633.8 189.7h0M629.6 190.3h0M628.6 190.8h0M635.7 191.6h0M630.7 191.9h0M632.8 189.6h0M631.2 192.4h0" stroke="#94c4df"/>
<ellipse cx="586.2" cy="189.7" rx="1.2" ry="1.2" fill="#9cc9e1" stroke="none" transform="rotate(0 586.2 189.7)"/>
<path d="M586.7 190.8h0M587.2 188.9h0M585.2 188.8h0M587.1 190.4h0M585.0 189.3h0" stroke="#9cc9e1"/>
<ellipse cx="590.4" cy="190.5" rx="1.2" ry="1.2" fill="#1764ab" stroke="none" transform="rotate(0 590.4 190.5)"/>
<path d="M591.4 189.7h0M589.7 189.7h0M590.6 191.8h0M589.5 190.1h0M591.4 189.6h0" stroke="#1764ab"/>
<ellipse cx="608.1" cy="191.5" rx="1.5" ry="1.4" fill="#1764ab" stroke="none" transform="rotate(-18 608.1 191.5)"/>
<path d="M607.0 191.3h0M608.8 192.4h0M609.0 191.7h0M606.9 191.3h0M608.6 192.2h0" stroke="#1764ab"/>
<ellipse cx="618.1" cy="193.5" rx="1.4" ry="1.6" fill="#c6dbef" stroke="none" transform="rotate(0 618.1 193.5)"/>
<path d="M619.4 192.7h0M617.7 192.1h0M616.6 193.8h0M618.5 194.8h0M619.1 194.3h0" stroke="#c6dbef"/>
<ellipse cx="595.2" cy="195.0" rx="1.2" ry="2.0" fill="#0d57a1" stroke="none" transform="rotate(0 595.2 195.0)"/>
<path d="M596.5 194.4h0M596.4 194.5h0M596.0 196.0h0M595.5 196.6h0M594.1 195.5h0" stroke="#0d57a1"/>
<ellipse cx="599.6" cy="195.0" rx="1.2" ry="2.2" fill="#0d57a1" stroke="none" transform="rotate(0 599.6 195.0)"/>
<path d="M599.1 193.1h0M600.8 194.5h0M600.8 196.1h0M599.4 192.7h0M600.4 196.4h0" stroke="#0d57a1"/>
<ellipse cx="626.4" cy="197.5" rx="1.4" ry="1.4" fill="#b6d4e9" stroke="none" transform="rotate(0 626.4 197.5)"/>
<path d="M625.7 198.6h0M624.9 197.3h0M625.5 198.0h0M625.8 196.4h0M626.3 198.6h0" stroke="#b6d4e9"/>
<ellipse cx="592.7" cy="202.0" rx="1.4" ry="1.4" fill="#9cc9e1" stroke="none" transform="rotate(0 592.7 202.0)"/>
<path d="M592.0 202.9h0M594.2 202.0h0M591.8 203.1h0M592.7 203.0h0M591.7 202.9h0" stroke="#9cc9e1"/>
<ellipse cx="598.0" cy="202.2" rx="1.4" ry="1.4" fill="#9cc9e1" stroke="none" transform="rotate(0 598.0 202.2)"/>
<path d="M597.8 203.3h0M597.4 200.8h0M599.3 202.6h0M598.2 200.9h0M596.9 201.5h0" stroke="#9cc9e1"/>
<ellipse cx="602.9" cy="202.0" rx="1.2" ry="1.2" fill="#3b8bc3" stroke="none" transform="rotate(0 602.9 202.0)"/>
<path d="M603.6 201.2h0M603.9 201.4h0M603.9 202.0h0M603.8 201.3h0M603.1 201.1h0" stroke="#3b8bc3"/>
<ellipse cx="612.3" cy="200.5" rx="2.2" ry="1.6" fill="#6baed6" stroke="none" transform="rotate(0 612.3 200.5)"/>
<path d="M611.8 202.1h0M613.9 201.7h0M610.5 200.9h0M611.0 201.4h0M614.1 199.3h0M614.2 200.7h0" stroke="#6baed6"/>
<ellipse cx="625.7" cy="199.5" rx="1.5" ry="2.0" fill="#6baed6" stroke="none" transform="rotate(-14 625.7 199.5)"/>
<path d="M625.9 197.6h0M624.4 200.0h0M625.2 197.8h0M626.6 200.0h0M624.6 201.5h0" stroke="#6baed6"/>
<ellipse cx="638.4" cy="203.0" rx="2.2" ry="1.8" fill="#c6dbef" stroke="none" transform="rotate(-14 638.4 203.0)"/>
<path d="M638.6 201.8h0M636.3 203.7h0M639.0 201.2h0M636.7 203.6h0M637.1 204.2h0M640.5 202.5h0" stroke="#c6dbef"/>
<ellipse cx="589.9" cy="210.0" rx="1.2" ry="1.4" fill="#c6dbef" stroke="none" transform="rotate(0 589.9 210.0)"/>
<path d="M591.1 210.7h0M589.8 208.7h0M588.9 210.9h0M589.5 211.5h0M590.5 208.8h0" stroke="#c6dbef"/>
<ellipse cx="592.9" cy="212.5" rx="1.2" ry="1.2" fill="#ebf3fb" stroke="none" transform="rotate(0 592.9 212.5)"/>
<path d="M593.7 213.0h0M593.6 213.4h0M592.8 213.9h0M593.1 211.4h0M592.8 213.8h0" stroke="#ebf3fb"/>
<ellipse cx="604.9" cy="210.5" rx="1.9" ry="1.6" fill="#c6dbef" stroke="none" transform="rotate(0 604.9 210.5)"/>
<path d="M602.9 211.2h0M605.8 212.1h0M606.4 210.9h0M603.0 209.8h0M606.2 210.8h0" stroke="#c6dbef"/>
<ellipse cx="617.7" cy="209.5" rx="2.2" ry="1.6" fill="#c6dbef" stroke="none" transform="rotate(-10 617.7 209.5)"/>
<path d="M617.0 208.5h0M619.3 209.7h0M616.4 208.5h0M617.3 207.9h0M616.6 208.8h0M619.4 210.3h0" stroke="#c6dbef"/>
<ellipse cx="629.9" cy="214.0" rx="1.6" ry="2.0" fill="#ebf3fb" stroke="none" transform="rotate(0 629.9 214.0)"/>
<path d="M631.1 215.0h0M631.3 214.9h0M628.7 212.6h0M630.7 215.9h0M628.5 214.1h0" stroke="#ebf3fb"/>
<ellipse cx="595.4" cy="216.5" rx="1.2" ry="1.2" fill="#ebf3fb" stroke="none" transform="rotate(0 595.4 216.5)"/>
<path d="M596.1 215.4h0M596.3 217.2h0M594.7 217.4h0M595.3 217.9h0M594.6 215.5h0" stroke="#ebf3fb"/>
<ellipse cx="597.9" cy="220.5" rx="1.2" ry="1.8" fill="#ebf3fb" stroke="none" transform="rotate(0 597.9 220.5)"/>
<path d="M596.7 219.5h0M598.8 220.3h0M597.1 219.2h0M597.8 222.4h0M597.3 222.0h0" stroke="#ebf3fb"/>
<ellipse cx="610.4" cy="219.0" rx="2.3" ry="2.0" fill="#5ba3d0" stroke="none" transform="rotate(-32 610.4 219.0)"/>
<path d="M611.3 219.0h0M611.1 217.5h0M607.8 221.0h0M608.7 220.7h0M612.5 217.5h0M609.8 220.4h0M608.5 220.5h0" stroke="#5ba3d0"/>
<ellipse cx="620.9" cy="225.0" rx="2.2" ry="1.5" fill="#ebf3fb" stroke="none" transform="rotate(-10 620.9 225.0)"/>
<path d="M621.4 226.2h0M622.8 223.9h0M619.5 224.3h0M619.8 226.7h0M618.6 225.2h0M622.7 225.0h0" stroke="#ebf3fb"/>
<ellipse cx="594.4" cy="228.0" rx="1.2" ry="1.9" fill="#ebf3fb" stroke="none" transform="rotate(10 594.4 228.0)"/>
<path d="M594.7 229.6h0M594.2 226.0h0M595.4 228.5h0M594.9 229.6h0M593.5 228.1h0" stroke="#ebf3fb"/>
<ellipse cx="600.7" cy="232.5" rx="1.6" ry="1.2" fill="#ebf3fb" stroke="none" transform="rotate(0 600.7 232.5)"/>
<path d="M599.8 233.4h0M600.5 231.6h0M600.8 231.5h0M599.4 231.9h0M599.0 232.6h0" stroke="#ebf3fb"/>
</g>
<rect x="544.4" y="154.9" width="98.0" height="83.0" fill="none" stroke="#808080" stroke-width="1"/>
<defs><linearGradient id="gb" x1="0" y1="0" x2="0" y2="1"><stop offset="0.00" stop-color="#084083"/><stop offset="0.10" stop-color="#0e58a2"/><stop offset="0.20" stop-color="#2170b5"/><stop offset="0.30" stop-color="#3989c2"/><stop offset="0.40" stop-color="#56a0ce"/><stop offset="0.50" stop-color="#77b5d9"/><stop offset="0.60" stop-color="#9ecae1"/><stop offset="0.70" stop-color="#bcd7eb"/><stop offset="0.80" stop-color="#d2e3f3"/><stop offset="0.90" stop-color="#e4eff9"/><stop offset="1.00" stop-color="#f7fbff"/></linearGradient></defs>
<rect x="647.1" y="154.9" width="6.8" height="83.0" fill="url(#gb)" stroke="#444" stroke-width="0.5"/>
<line x1="653.9" y1="157.0" x2="652.5" y2="157.0" stroke="#222" stroke-width="0.6"/>
<line x1="647.1" y1="157.0" x2="648.5" y2="157.0" stroke="#222" stroke-width="0.6"/>
<text x="656.8000000000001" y="159.65" font-size="7.7" text-anchor="start" font-weight="normal" fill="#151515" textLength="10" lengthAdjust="spacingAndGlyphs">8.0</text>
<line x1="653.9" y1="173.6" x2="652.5" y2="173.6" stroke="#222" stroke-width="0.6"/>
<line x1="647.1" y1="173.6" x2="648.5" y2="173.6" stroke="#222" stroke-width="0.6"/>
<text x="656.8000000000001" y="176.25" font-size="7.7" text-anchor="start" font-weight="normal" fill="#151515" textLength="10" lengthAdjust="spacingAndGlyphs">7.5</text>
<line x1="653.9" y1="190.1" x2="652.5" y2="190.1" stroke="#222" stroke-width="0.6"/>
<line x1="647.1" y1="190.1" x2="648.5" y2="190.1" stroke="#222" stroke-width="0.6"/>
<text x="656.8000000000001" y="192.75" font-size="7.7" text-anchor="start" font-weight="normal" fill="#151515" textLength="10" lengthAdjust="spacingAndGlyphs">7.0</text>
<line x1="653.9" y1="206.6" x2="652.5" y2="206.6" stroke="#222" stroke-width="0.6"/>
<line x1="647.1" y1="206.6" x2="648.5" y2="206.6" stroke="#222" stroke-width="0.6"/>
<text x="656.8000000000001" y="209.25" font-size="7.7" text-anchor="start" font-weight="normal" fill="#151515" textLength="10" lengthAdjust="spacingAndGlyphs">6.5</text>
<line x1="653.9" y1="223.2" x2="652.5" y2="223.2" stroke="#222" stroke-width="0.6"/>
<line x1="647.1" y1="223.2" x2="648.5" y2="223.2" stroke="#222" stroke-width="0.6"/>
<text x="656.8000000000001" y="225.85" font-size="7.7" text-anchor="start" font-weight="normal" fill="#151515" textLength="10" lengthAdjust="spacingAndGlyphs">6.0</text>
<text x="595.2" y="250.0" font-size="9" text-anchor="middle" font-weight="normal" fill="#151515" textLength="22.3" lengthAdjust="spacingAndGlyphs">tSNE1</text>
<text x="637.7" y="247.6" font-size="7.4" text-anchor="start" font-weight="normal" fill="#151515" textLength="24" lengthAdjust="spacingAndGlyphs">CB [arb]</text>
<text x="259.0" y="197" font-size="9" text-anchor="middle" font-weight="normal" fill="#151515" textLength="22.3" lengthAdjust="spacingAndGlyphs" transform="rotate(-90 259.0 197)">tSNE2</text>
</svg>
</body></html>
